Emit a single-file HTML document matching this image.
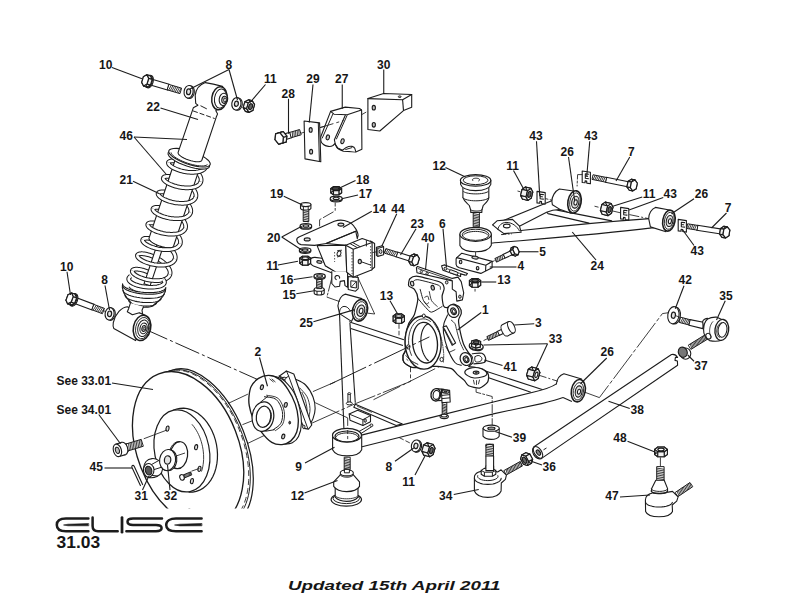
<!DOCTYPE html>
<html><head><meta charset="utf-8"><title>Elise 31.03 Front Suspension</title>
<style>
html,body{margin:0;padding:0;background:#fff;}
body{width:792px;height:612px;overflow:hidden;font-family:"Liberation Sans",sans-serif;}
svg{display:block;}
svg text{font-family:"Liberation Sans",sans-serif;font-weight:bold;fill:#161616;}
</style></head><body>
<svg width="792" height="612" viewBox="0 0 792 612">
<rect width="792" height="612" fill="#fff"/>
<g id="sec_back">
<polygon points="348.90,321.80 403.90,339.80 481.50,369.70 543.70,390.00 530.90,392.20 483.60,376.10 402.90,345.50 350.80,328.40" fill="white" stroke="none" stroke-width="0.00" stroke-linejoin="round" stroke-linecap="round"/>
<line x1="348.90" y1="321.80" x2="403.90" y2="339.80" stroke="#1c1c1c" stroke-width="1.10"/>
<line x1="350.80" y1="328.40" x2="402.90" y2="345.50" stroke="#1c1c1c" stroke-width="1.10"/>
<line x1="481.50" y1="369.70" x2="543.70" y2="390.00" stroke="#1c1c1c" stroke-width="1.10"/>
<line x1="483.60" y1="376.10" x2="530.90" y2="392.20" stroke="#1c1c1c" stroke-width="1.10"/>
<polygon points="339.50,313.30 343.90,428.50 355.30,402.70 349.90,322.70" fill="white" stroke="none" stroke-width="0.00" stroke-linejoin="round" stroke-linecap="round"/>
<line x1="339.50" y1="313.30" x2="343.90" y2="428.50" stroke="#1c1c1c" stroke-width="1.10"/>
<line x1="349.90" y1="322.70" x2="355.30" y2="402.70" stroke="#1c1c1c" stroke-width="1.10"/>
<polygon points="355.30,404.20 402.30,423.90 396.20,425.50 353.80,407.30" fill="white" stroke="#1c1c1c" stroke-width="1.10" stroke-linejoin="round" stroke-linecap="round"/>
<line x1="357.00" y1="406.20" x2="372.00" y2="412.40" stroke="#1c1c1c" stroke-width="0.73"/>
<polygon points="348.30,394.00 350.30,394.00 350.30,402.40 348.30,402.40" fill="white" stroke="#1c1c1c" stroke-width="0.98" stroke-linejoin="round" stroke-linecap="round"/>
<ellipse cx="349.30" cy="393.60" rx="1.50" ry="0.90" fill="white" stroke="#1c1c1c" stroke-width="0.98"/>
<ellipse cx="349.30" cy="403.40" rx="3.00" ry="1.50" fill="white" stroke="#1c1c1c" stroke-width="0.98"/>
<polygon points="349.20,414.10 357.60,410.30 370.50,415.60 370.50,421.70 362.90,425.50 350.00,420.20" fill="white" stroke="#1c1c1c" stroke-width="1.10" stroke-linejoin="round" stroke-linecap="round"/>
<polyline points="349.20,414.10 362.90,419.70 370.50,415.60" fill="none" stroke="#1c1c1c" stroke-width="0.98" stroke-linejoin="round" stroke-linecap="round"/>
<line x1="362.90" y1="419.70" x2="362.90" y2="425.50" stroke="#1c1c1c" stroke-width="0.98"/>
<ellipse cx="365.20" cy="420.60" rx="1.20" ry="1.70" fill="#bbb" stroke="#1c1c1c" stroke-width="0.98"/>
<path d="M362.4,434.9 L430,417.9 L494.4,401.8 L533,392.2 C545,389.5 553,386 558.8,380.4 L569.5,392.2 C566,394.5 560,397 541.6,401.8 L494.4,413.6 L430,429.7 L362.1,446.7 Z" fill="white" stroke="none" stroke-width="0.00" stroke-linejoin="round" stroke-linecap="round"/>
<path d="M362.4,434.9 L430,417.9 L494.4,401.8 L533,392.2 C545,389.5 552,387 556.4,383.9" fill="none" stroke="#1c1c1c" stroke-width="1.10" stroke-linejoin="round" stroke-linecap="round"/>
<path d="M362.1,446.7 L430,429.7 L494.4,413.6 L541.6,403.6 C552,401.2 558,399.6 563,397.6" fill="none" stroke="#1c1c1c" stroke-width="1.10" stroke-linejoin="round" stroke-linecap="round"/>
<polyline points="311.60,423.30 354.60,404.00 410.50,381.40 410.50,365.30" fill="none" stroke="#1c1c1c" stroke-width="0.85" stroke-linejoin="round" stroke-linecap="round" stroke-dasharray="30 3 3 3"/>
<line x1="373.50" y1="399.70" x2="439.10" y2="366.70" stroke="#1c1c1c" stroke-width="0.85" stroke-dasharray="30 3 3 3"/>
<line x1="315.20" y1="402.70" x2="347.70" y2="417.90" stroke="#1c1c1c" stroke-width="0.85"/>
<line x1="347.70" y1="417.90" x2="347.70" y2="439.10" stroke="#1c1c1c" stroke-width="0.85" stroke-dasharray="8 2 2 2"/>
<polygon points="359.20,431.40 371.00,424.60 372.40,426.20 361.20,433.40" fill="white" stroke="#1c1c1c" stroke-width="0.98" stroke-linejoin="round" stroke-linecap="round"/>
<ellipse cx="371.40" cy="425.20" rx="1.50" ry="1.20" fill="white" stroke="#1c1c1c" stroke-width="0.98"/>
<path d="M332.6,435.3 L332.6,449.7 C334.5,453.5 340,455.9 347,455.9 C354,455.9 360,453.5 361.7,449.7 L361.7,435.3 Z" fill="white" stroke="#1c1c1c" stroke-width="1.10" stroke-linejoin="round" stroke-linecap="round"/>
<ellipse cx="347.00" cy="435.30" rx="14.50" ry="6.90" fill="white" stroke="#1c1c1c" stroke-width="1.22"/>
<ellipse cx="347.00" cy="436.40" rx="12.00" ry="5.40" fill="white" stroke="#1c1c1c" stroke-width="1.10"/>
<path d="M335.97,436.95 L336.48,436.12 L337.30,435.35 L338.42,434.65 L339.80,434.05 L341.40,433.56 L343.17,433.20 L345.06,432.97 L347.00,432.90 L348.94,432.97 L350.83,433.20 L352.60,433.56 L354.20,434.05 L355.58,434.65 L356.70,435.35 L357.52,436.12 L358.03,436.95" fill="none" stroke="#1c1c1c" stroke-width="0.98" stroke-linejoin="round" stroke-linecap="round"/>
<line x1="347.70" y1="430.00" x2="347.70" y2="439.10" stroke="#1c1c1c" stroke-width="0.85" stroke-dasharray="4 2"/>
<path d="M361.8,298.6 L345.3,294.1 C341.5,295 338.6,300 337.9,305.9 L339.5,313.6 L351.5,321.4 Z" fill="white" stroke="#1c1c1c" stroke-width="1.10" stroke-linejoin="round" stroke-linecap="round"/>
<path d="M339.6,313.6 C339.2,309.6 341,306.8 344,306.4 C347,306.2 349,308.5 350.4,311" fill="none" stroke="#1c1c1c" stroke-width="0.98" stroke-linejoin="round" stroke-linecap="round"/>
<ellipse cx="360.00" cy="310.30" rx="7.40" ry="11.00" fill="white" stroke="#1c1c1c" stroke-width="1.59" transform="rotate(14.00 360.00 310.30)"/>
<ellipse cx="360.40" cy="310.50" rx="5.90" ry="9.00" fill="white" stroke="#1c1c1c" stroke-width="0.85" transform="rotate(14.00 360.40 310.50)"/>
<ellipse cx="360.80" cy="310.70" rx="3.90" ry="5.80" fill="#ddd" stroke="#1c1c1c" stroke-width="1.10" transform="rotate(14.00 360.80 310.70)"/>
<ellipse cx="361.10" cy="310.90" rx="1.80" ry="2.70" fill="white" stroke="#1c1c1c" stroke-width="1.10" transform="rotate(14.00 361.10 310.90)"/>
<path d="M581.6,379 L563.9,373.7 C560,375 557,379 556.4,383.6 L563,397.6 L571.9,401.6 Z" fill="white" stroke="none" stroke-width="0.00" stroke-linejoin="round" stroke-linecap="round"/>
<path d="M581.6,379 L563.9,373.7 C560,375 557,379 556.4,383.9" fill="none" stroke="#1c1c1c" stroke-width="1.10" stroke-linejoin="round" stroke-linecap="round"/>
<line x1="563.00" y1="397.60" x2="571.90" y2="401.60" stroke="#1c1c1c" stroke-width="1.10"/>
<ellipse cx="578.30" cy="390.70" rx="6.90" ry="11.30" fill="white" stroke="#1c1c1c" stroke-width="1.59" transform="rotate(10.00 578.30 390.70)"/>
<ellipse cx="578.40" cy="391.30" rx="5.10" ry="8.80" fill="white" stroke="#1c1c1c" stroke-width="0.85" transform="rotate(10.00 578.40 391.30)"/>
<ellipse cx="578.70" cy="391.50" rx="3.40" ry="5.70" fill="#ddd" stroke="#1c1c1c" stroke-width="1.10" transform="rotate(10.00 578.70 391.50)"/>
<ellipse cx="579.00" cy="391.70" rx="1.50" ry="2.50" fill="white" stroke="#1c1c1c" stroke-width="1.10" transform="rotate(10.00 579.00 391.70)"/>
<polygon points="528.33,369.26 531.76,367.02 533.49,370.74 531.78,376.70 528.35,378.94 526.62,375.22" fill="white" stroke="#1c1c1c" stroke-width="1.22" stroke-linejoin="round" stroke-linecap="round"/>
<polygon points="534.67,371.08 538.11,368.84 531.76,367.02 528.33,369.26" fill="#f2f2f2" stroke="#1c1c1c" stroke-width="1.10" stroke-linejoin="round" stroke-linecap="round"/>
<polygon points="538.11,368.84 539.84,372.56 533.49,370.74 531.76,367.02" fill="#f2f2f2" stroke="#1c1c1c" stroke-width="1.10" stroke-linejoin="round" stroke-linecap="round"/>
<polygon points="539.84,372.56 538.13,378.52 531.78,376.70 533.49,370.74" fill="#f2f2f2" stroke="#1c1c1c" stroke-width="1.10" stroke-linejoin="round" stroke-linecap="round"/>
<polygon points="538.13,378.52 534.69,380.76 528.35,378.94 531.78,376.70" fill="#f2f2f2" stroke="#1c1c1c" stroke-width="1.10" stroke-linejoin="round" stroke-linecap="round"/>
<polygon points="534.69,380.76 532.96,377.04 526.62,375.22 528.35,378.94" fill="#f2f2f2" stroke="#1c1c1c" stroke-width="1.10" stroke-linejoin="round" stroke-linecap="round"/>
<polygon points="532.96,377.04 534.67,371.08 528.33,369.26 526.62,375.22" fill="#f2f2f2" stroke="#1c1c1c" stroke-width="1.10" stroke-linejoin="round" stroke-linecap="round"/>
<polygon points="534.67,371.08 538.11,368.84 539.84,372.56 538.13,378.52 534.69,380.76 532.96,377.04" fill="white" stroke="#1c1c1c" stroke-width="1.22" stroke-linejoin="round" stroke-linecap="round"/>
<ellipse cx="536.40" cy="374.80" rx="1.40" ry="2.79" fill="#fff" stroke="#1c1c1c" stroke-width="1.22" transform="rotate(196.00 536.40 374.80)"/>
<line x1="538.80" y1="375.20" x2="558.00" y2="381.30" stroke="#1c1c1c" stroke-width="0.85" stroke-dasharray="8 2 2 2"/>
<polyline points="585.20,392.40 599.40,397.60 662.40,313.60 668.50,312.70" fill="none" stroke="#1c1c1c" stroke-width="0.85" stroke-linejoin="round" stroke-linecap="round" stroke-dasharray="30 3 3 3"/>
<line x1="399.20" y1="437.60" x2="409.80" y2="442.90" stroke="#1c1c1c" stroke-width="0.85" stroke-dasharray="5 2"/>
<ellipse cx="417.10" cy="446.26" rx="4.50" ry="6.00" fill="white" stroke="#1c1c1c" stroke-width="1.10" transform="rotate(12.00 417.10 446.26)"/>
<ellipse cx="415.90" cy="445.90" rx="4.50" ry="6.00" fill="white" stroke="#1c1c1c" stroke-width="1.10" transform="rotate(12.00 415.90 445.90)"/>
<ellipse cx="415.90" cy="445.90" rx="2.02" ry="2.70" fill="#e4e4e4" stroke="#1c1c1c" stroke-width="1.22" transform="rotate(12.00 415.90 445.90)"/>
<polygon points="423.66,445.05 427.20,442.74 428.99,446.58 427.22,452.73 423.68,455.04 421.89,451.20" fill="white" stroke="#1c1c1c" stroke-width="1.22" stroke-linejoin="round" stroke-linecap="round"/>
<polygon points="429.62,446.76 433.16,444.45 427.20,442.74 423.66,445.05" fill="#f2f2f2" stroke="#1c1c1c" stroke-width="1.10" stroke-linejoin="round" stroke-linecap="round"/>
<polygon points="433.16,444.45 434.95,448.29 428.99,446.58 427.20,442.74" fill="#f2f2f2" stroke="#1c1c1c" stroke-width="1.10" stroke-linejoin="round" stroke-linecap="round"/>
<polygon points="434.95,448.29 433.18,454.44 427.22,452.73 428.99,446.58" fill="#f2f2f2" stroke="#1c1c1c" stroke-width="1.10" stroke-linejoin="round" stroke-linecap="round"/>
<polygon points="433.18,454.44 429.64,456.75 423.68,455.04 427.22,452.73" fill="#f2f2f2" stroke="#1c1c1c" stroke-width="1.10" stroke-linejoin="round" stroke-linecap="round"/>
<polygon points="429.64,456.75 427.85,452.91 421.89,451.20 423.68,455.04" fill="#f2f2f2" stroke="#1c1c1c" stroke-width="1.10" stroke-linejoin="round" stroke-linecap="round"/>
<polygon points="427.85,452.91 429.62,446.76 423.66,445.05 421.89,451.20" fill="#f2f2f2" stroke="#1c1c1c" stroke-width="1.10" stroke-linejoin="round" stroke-linecap="round"/>
<polygon points="429.62,446.76 433.16,444.45 434.95,448.29 433.18,454.44 429.64,456.75 427.85,452.91" fill="white" stroke="#1c1c1c" stroke-width="1.22" stroke-linejoin="round" stroke-linecap="round"/>
<ellipse cx="431.40" cy="450.60" rx="1.60" ry="3.20" fill="#666" stroke="#1c1c1c" stroke-width="1.22" transform="rotate(196.00 431.40 450.60)"/>
<polyline points="476.10,389.00 476.10,392.20 492.20,396.50 492.20,425.50" fill="none" stroke="#1c1c1c" stroke-width="0.85" stroke-linejoin="round" stroke-linecap="round" stroke-dasharray="8 2 2 2"/>
<path d="M483,428.2 L483,436.2 C484.5,438.2 487.5,439.4 491.2,439.4 C495,439.4 498,438.2 499.2,436.2 L499.2,428.2 Z" fill="white" stroke="#1c1c1c" stroke-width="1.10" stroke-linejoin="round" stroke-linecap="round"/>
<ellipse cx="491.20" cy="428.20" rx="8.10" ry="3.10" fill="white" stroke="#1c1c1c" stroke-width="1.10"/>
<ellipse cx="491.40" cy="428.40" rx="3.60" ry="1.40" fill="#999" stroke="#1c1c1c" stroke-width="1.10"/>
<polygon points="485.90,444.60 485.90,456.40 493.50,456.40 493.50,444.60" fill="white" stroke="#1c1c1c" stroke-width="0.98" stroke-linejoin="round" stroke-linecap="round"/>
<line x1="485.90" y1="445.70" x2="493.50" y2="446.90" stroke="#1c1c1c" stroke-width="0.85"/>
<line x1="485.90" y1="447.40" x2="493.50" y2="448.60" stroke="#1c1c1c" stroke-width="0.85"/>
<line x1="485.90" y1="449.10" x2="493.50" y2="450.30" stroke="#1c1c1c" stroke-width="0.85"/>
<line x1="485.90" y1="450.80" x2="493.50" y2="452.00" stroke="#1c1c1c" stroke-width="0.85"/>
<line x1="485.90" y1="452.50" x2="493.50" y2="453.70" stroke="#1c1c1c" stroke-width="0.85"/>
<line x1="485.90" y1="454.20" x2="493.50" y2="455.40" stroke="#1c1c1c" stroke-width="0.85"/>
<path d="M485.9,456 L485.9,469 L493.6,469 L493.6,456 Z" fill="white" stroke="#1c1c1c" stroke-width="1.10" stroke-linejoin="round" stroke-linecap="round"/>
<path d="M485.9,446 C486.5,443.8 492.8,443.8 493.6,446" fill="white" stroke="#1c1c1c" stroke-width="1.10" stroke-linejoin="round" stroke-linecap="round"/>
<polygon points="506.62,474.78 522.42,465.98 519.98,461.62 504.18,470.42" fill="white" stroke="#1c1c1c" stroke-width="0.98" stroke-linejoin="round" stroke-linecap="round"/>
<line x1="507.40" y1="474.35" x2="506.02" y2="469.39" stroke="#1c1c1c" stroke-width="0.85"/>
<line x1="508.71" y1="473.62" x2="507.33" y2="468.66" stroke="#1c1c1c" stroke-width="0.85"/>
<line x1="510.02" y1="472.89" x2="508.64" y2="467.93" stroke="#1c1c1c" stroke-width="0.85"/>
<line x1="511.33" y1="472.16" x2="509.95" y2="467.20" stroke="#1c1c1c" stroke-width="0.85"/>
<line x1="512.64" y1="471.43" x2="511.26" y2="466.47" stroke="#1c1c1c" stroke-width="0.85"/>
<line x1="513.95" y1="470.70" x2="512.57" y2="465.74" stroke="#1c1c1c" stroke-width="0.85"/>
<line x1="515.27" y1="469.97" x2="513.88" y2="465.01" stroke="#1c1c1c" stroke-width="0.85"/>
<line x1="516.58" y1="469.24" x2="515.19" y2="464.28" stroke="#1c1c1c" stroke-width="0.85"/>
<line x1="517.89" y1="468.51" x2="516.50" y2="463.56" stroke="#1c1c1c" stroke-width="0.85"/>
<line x1="519.20" y1="467.78" x2="517.81" y2="462.83" stroke="#1c1c1c" stroke-width="0.85"/>
<line x1="520.51" y1="467.05" x2="519.12" y2="462.10" stroke="#1c1c1c" stroke-width="0.85"/>
<line x1="521.82" y1="466.32" x2="520.43" y2="461.37" stroke="#1c1c1c" stroke-width="0.85"/>
<path d="M474.4,477.2 C474.4,473 480,470.4 487.8,470.4 C492,470.4 495.2,471 497.6,472 L501.1,469.8 L506.4,475.1 L505.4,479.3 L501.3,483 L501.1,491 C499.5,495 494.5,497.4 487.8,497.4 C481,497.4 476,495 474.4,491 Z" fill="white" stroke="#1c1c1c" stroke-width="1.10" stroke-linejoin="round" stroke-linecap="round"/>
<path d="M501.20,478.20 L500.94,479.41 L500.18,480.57 L498.94,481.64 L497.28,482.58 L495.24,483.36 L492.93,483.93 L490.41,484.28 L487.80,484.40 L485.19,484.28 L482.67,483.93 L480.36,483.36 L478.32,482.58 L476.66,481.64 L475.42,480.57 L474.66,479.41 L474.40,478.20" fill="none" stroke="#1c1c1c" stroke-width="1.10" stroke-linejoin="round" stroke-linecap="round"/>
<path d="M497.85,475.67 L497.99,476.58 L497.65,477.49 L496.85,478.34 L495.61,479.10 L494.01,479.73 L492.11,480.21 L490.01,480.50 L487.80,480.60 L485.59,480.50 L483.49,480.21 L481.59,479.73 L479.99,479.10 L478.75,478.34 L477.95,477.49 L477.61,476.58 L477.75,475.67" fill="none" stroke="#1c1c1c" stroke-width="0.98" stroke-linejoin="round" stroke-linecap="round"/>
<polygon points="481.20,470.40 484.20,468.40 492.60,468.40 495.80,470.40 495.80,474.20 492.40,476.20 484.40,476.20 481.20,474.20" fill="white" stroke="#1c1c1c" stroke-width="1.10" stroke-linejoin="round" stroke-linecap="round"/>
<line x1="484.40" y1="472.20" x2="484.40" y2="476.20" stroke="#1c1c1c" stroke-width="0.98"/>
<line x1="492.40" y1="472.20" x2="492.40" y2="476.20" stroke="#1c1c1c" stroke-width="0.98"/>
<polyline points="481.20,470.40 484.40,472.20 492.40,472.20 495.80,470.40" fill="none" stroke="#1c1c1c" stroke-width="0.98" stroke-linejoin="round" stroke-linecap="round"/>
<path d="M485.9,466 L485.9,470.6 L493.6,470.6 L493.6,466" fill="white" stroke="#1c1c1c" stroke-width="1.10" stroke-linejoin="round" stroke-linecap="round"/>
<polygon points="532.59,459.35 531.48,463.34 527.55,462.03 524.73,456.73 525.84,452.74 529.78,454.05" fill="white" stroke="#1c1c1c" stroke-width="1.22" stroke-linejoin="round" stroke-linecap="round"/>
<polygon points="528.53,461.51 527.42,465.50 531.48,463.34 532.59,459.35" fill="#f2f2f2" stroke="#1c1c1c" stroke-width="1.10" stroke-linejoin="round" stroke-linecap="round"/>
<polygon points="527.42,465.50 523.49,464.19 527.55,462.03 531.48,463.34" fill="#f2f2f2" stroke="#1c1c1c" stroke-width="1.10" stroke-linejoin="round" stroke-linecap="round"/>
<polygon points="523.49,464.19 520.67,458.89 524.73,456.73 527.55,462.03" fill="#f2f2f2" stroke="#1c1c1c" stroke-width="1.10" stroke-linejoin="round" stroke-linecap="round"/>
<polygon points="520.67,458.89 521.78,454.90 525.84,452.74 524.73,456.73" fill="#f2f2f2" stroke="#1c1c1c" stroke-width="1.10" stroke-linejoin="round" stroke-linecap="round"/>
<polygon points="521.78,454.90 525.71,456.21 529.78,454.05 525.84,452.74" fill="#f2f2f2" stroke="#1c1c1c" stroke-width="1.10" stroke-linejoin="round" stroke-linecap="round"/>
<polygon points="525.71,456.21 528.53,461.51 532.59,459.35 529.78,454.05" fill="#f2f2f2" stroke="#1c1c1c" stroke-width="1.10" stroke-linejoin="round" stroke-linecap="round"/>
<polygon points="528.53,461.51 527.42,465.50 523.49,464.19 520.67,458.89 521.78,454.90 525.71,456.21" fill="white" stroke="#1c1c1c" stroke-width="1.22" stroke-linejoin="round" stroke-linecap="round"/>
<ellipse cx="524.60" cy="460.20" rx="1.82" ry="3.30" fill="#666" stroke="#1c1c1c" stroke-width="1.22" transform="rotate(-28.00 524.60 460.20)"/>
<polygon points="344.20,457.60 344.20,469.60 350.20,469.60 350.20,457.60" fill="white" stroke="#1c1c1c" stroke-width="0.98" stroke-linejoin="round" stroke-linecap="round"/>
<line x1="344.20" y1="458.60" x2="350.20" y2="459.80" stroke="#1c1c1c" stroke-width="0.85"/>
<line x1="344.20" y1="460.20" x2="350.20" y2="461.40" stroke="#1c1c1c" stroke-width="0.85"/>
<line x1="344.20" y1="461.80" x2="350.20" y2="463.00" stroke="#1c1c1c" stroke-width="0.85"/>
<line x1="344.20" y1="463.40" x2="350.20" y2="464.60" stroke="#1c1c1c" stroke-width="0.85"/>
<line x1="344.20" y1="465.00" x2="350.20" y2="466.20" stroke="#1c1c1c" stroke-width="0.85"/>
<line x1="344.20" y1="466.60" x2="350.20" y2="467.80" stroke="#1c1c1c" stroke-width="0.85"/>
<line x1="344.20" y1="468.20" x2="350.20" y2="469.40" stroke="#1c1c1c" stroke-width="0.85"/>
<polygon points="344.80,469.40 349.40,469.40 349.40,472.60 344.80,472.60" fill="white" stroke="#1c1c1c" stroke-width="0.98" stroke-linejoin="round" stroke-linecap="round"/>
<ellipse cx="346.30" cy="499.60" rx="15.20" ry="6.50" fill="white" stroke="#1c1c1c" stroke-width="1.22"/>
<ellipse cx="346.30" cy="498.40" rx="13.20" ry="5.20" fill="white" stroke="#1c1c1c" stroke-width="0.98"/>
<path d="M335.2,486 L335.2,497.2 C338,500.4 342,501.4 346.6,501.4 C351,501.4 355.5,500.4 358,497.2 L358,486 Z" fill="white" stroke="#1c1c1c" stroke-width="1.10" stroke-linejoin="round" stroke-linecap="round"/>
<path d="M357.83,495.83 L357.31,496.43 L356.47,497.00 L355.33,497.51 L353.93,497.96 L352.30,498.32 L350.50,498.58 L348.58,498.75 L346.60,498.80 L344.62,498.75 L342.70,498.58 L340.90,498.32 L339.27,497.96 L337.87,497.51 L336.73,497.00 L335.89,496.43 L335.37,495.83" fill="none" stroke="#1c1c1c" stroke-width="0.85" stroke-linejoin="round" stroke-linecap="round"/>
<path d="M340.3,474.8 L333.7,481.9 L333.7,486.4 C336,489.8 341,491.6 346.6,491.6 C352,491.6 357.5,489.8 359.5,486.4 L359.5,481.9 L353.4,474.8 Z" fill="white" stroke="#1c1c1c" stroke-width="1.10" stroke-linejoin="round" stroke-linecap="round"/>
<ellipse cx="346.80" cy="472.90" rx="6.60" ry="3.00" fill="white" stroke="#1c1c1c" stroke-width="1.10"/>
<path d="M353.30,474.72 L353.00,475.23 L352.52,475.70 L351.86,476.13 L351.04,476.50 L350.10,476.80 L349.06,477.02 L347.95,477.15 L346.80,477.20 L345.65,477.15 L344.54,477.02 L343.50,476.80 L342.56,476.50 L341.74,476.13 L341.08,475.70 L340.60,475.23 L340.30,474.72" fill="none" stroke="#1c1c1c" stroke-width="0.98" stroke-linejoin="round" stroke-linecap="round"/>
<polygon points="344.80,469.40 349.40,469.40 349.40,472.80 344.80,472.80" fill="white" stroke="#1c1c1c" stroke-width="0.98" stroke-linejoin="round" stroke-linecap="round"/>
<path d="M436,388.6 L444,389.4 L444,400.4 L436,400.8 Z" fill="white" stroke="#1c1c1c" stroke-width="1.10" stroke-linejoin="round" stroke-linecap="round"/>
<ellipse cx="435.80" cy="394.80" rx="4.80" ry="6.20" fill="white" stroke="#1c1c1c" stroke-width="1.34" transform="rotate(8.00 435.80 394.80)"/>
<ellipse cx="436.40" cy="394.90" rx="3.30" ry="4.50" fill="white" stroke="#1c1c1c" stroke-width="1.10" transform="rotate(8.00 436.40 394.90)"/>
<polygon points="441.40,389.20 449.60,390.40 450.20,402.00 442.00,402.80" fill="white" stroke="#1c1c1c" stroke-width="1.10" stroke-linejoin="round" stroke-linecap="round"/>
<ellipse cx="445.60" cy="391.60" rx="3.60" ry="1.60" fill="white" stroke="#1c1c1c" stroke-width="1.10" transform="rotate(5.00 445.60 391.60)"/>
<line x1="442.00" y1="395.40" x2="450.00" y2="394.60" stroke="#1c1c1c" stroke-width="0.98"/>
<line x1="442.00" y1="398.60" x2="450.00" y2="397.80" stroke="#1c1c1c" stroke-width="0.98"/>
<ellipse cx="445.60" cy="391.60" rx="1.60" ry="0.70" fill="#777" stroke="#1c1c1c" stroke-width="0.98" transform="rotate(5.00 445.60 391.60)"/>
<polygon points="442.20,403.00 442.20,414.40 446.80,414.40 446.80,403.00" fill="white" stroke="#1c1c1c" stroke-width="0.98" stroke-linejoin="round" stroke-linecap="round"/>
<line x1="442.20" y1="403.90" x2="446.80" y2="405.10" stroke="#1c1c1c" stroke-width="0.85"/>
<line x1="442.20" y1="405.40" x2="446.80" y2="406.60" stroke="#1c1c1c" stroke-width="0.85"/>
<line x1="442.20" y1="406.90" x2="446.80" y2="408.10" stroke="#1c1c1c" stroke-width="0.85"/>
<line x1="442.20" y1="408.40" x2="446.80" y2="409.60" stroke="#1c1c1c" stroke-width="0.85"/>
<line x1="442.20" y1="409.90" x2="446.80" y2="411.10" stroke="#1c1c1c" stroke-width="0.85"/>
<line x1="442.20" y1="411.40" x2="446.80" y2="412.60" stroke="#1c1c1c" stroke-width="0.85"/>
<line x1="442.20" y1="412.90" x2="446.80" y2="414.10" stroke="#1c1c1c" stroke-width="0.85"/>
<ellipse cx="444.20" cy="416.60" rx="4.20" ry="2.00" fill="white" stroke="#1c1c1c" stroke-width="1.10"/>
<ellipse cx="444.20" cy="415.60" rx="3.00" ry="1.40" fill="white" stroke="#1c1c1c" stroke-width="1.10"/>
</g>
<g id="sec_shock">
<line x1="143.50" y1="328.50" x2="262.00" y2="381.50" stroke="#1c1c1c" stroke-width="0.98" stroke-dasharray="26 3 3 3"/>
<line x1="103.00" y1="310.50" x2="113.00" y2="314.50" stroke="#1c1c1c" stroke-width="0.85"/>
<path d="M168.44,162.72 L168.55,162.33 L168.78,161.98 L169.12,161.67 L169.57,161.41 L170.13,161.20 L170.79,161.05 L171.55,160.94 L172.39,160.90 L173.33,160.91 L174.34,160.98 L175.43,161.11 L176.58,161.31 L177.78,161.56 L179.04,161.87 L180.33,162.25 L181.65,162.68 L183.00,163.17 L184.36,163.71 L185.72,164.31 L187.07,164.96 L188.41,165.66 L189.73,166.39 L191.01,167.17 L192.24,167.99 L193.43,168.84 L194.56,169.72 L195.61,170.62 L196.60,171.54 L197.50,172.48 L198.31,173.42 L199.03,174.37 L199.65,175.32 L200.17,176.27 L200.58,177.20 L200.88,178.13 L201.06,179.03 L201.13,179.90 L201.09,180.75 L200.93,181.57 L200.65,182.35" fill="none" stroke="#1c1c1c" stroke-width="4.7" stroke-linecap="butt" stroke-linejoin="round"/>
<path d="M168.44,162.72 L168.55,162.33 L168.78,161.98 L169.12,161.67 L169.57,161.41 L170.13,161.20 L170.79,161.05 L171.55,160.94 L172.39,160.90 L173.33,160.91 L174.34,160.98 L175.43,161.11 L176.58,161.31 L177.78,161.56 L179.04,161.87 L180.33,162.25 L181.65,162.68 L183.00,163.17 L184.36,163.71 L185.72,164.31 L187.07,164.96 L188.41,165.66 L189.73,166.39 L191.01,167.17 L192.24,167.99 L193.43,168.84 L194.56,169.72 L195.61,170.62 L196.60,171.54 L197.50,172.48 L198.31,173.42 L199.03,174.37 L199.65,175.32 L200.17,176.27 L200.58,177.20 L200.88,178.13 L201.06,179.03 L201.13,179.90 L201.09,180.75 L200.93,181.57 L200.65,182.35" fill="none" stroke="#fff" stroke-width="2.7" stroke-linecap="butt" stroke-linejoin="round"/>
<path d="M163.27,178.19 L163.39,177.80 L163.62,177.45 L163.96,177.14 L164.41,176.88 L164.96,176.67 L165.62,176.51 L166.38,176.41 L167.23,176.36 L168.16,176.38 L169.17,176.45 L170.26,176.58 L171.41,176.77 L172.61,177.03 L173.87,177.34 L175.16,177.72 L176.49,178.15 L177.83,178.64 L179.19,179.18 L180.55,179.78 L181.91,180.43 L183.25,181.12 L184.56,181.86 L185.84,182.64 L187.08,183.46 L188.26,184.31 L189.39,185.19 L190.45,186.09 L191.43,187.01 L192.33,187.95 L193.14,188.89 L193.86,189.84 L194.48,190.79 L195.00,191.74 L195.41,192.67 L195.71,193.59 L195.89,194.50 L195.97,195.37 L195.92,196.22 L195.76,197.04 L195.49,197.82" fill="none" stroke="#1c1c1c" stroke-width="4.7" stroke-linecap="butt" stroke-linejoin="round"/>
<path d="M163.27,178.19 L163.39,177.80 L163.62,177.45 L163.96,177.14 L164.41,176.88 L164.96,176.67 L165.62,176.51 L166.38,176.41 L167.23,176.36 L168.16,176.38 L169.17,176.45 L170.26,176.58 L171.41,176.77 L172.61,177.03 L173.87,177.34 L175.16,177.72 L176.49,178.15 L177.83,178.64 L179.19,179.18 L180.55,179.78 L181.91,180.43 L183.25,181.12 L184.56,181.86 L185.84,182.64 L187.08,183.46 L188.26,184.31 L189.39,185.19 L190.45,186.09 L191.43,187.01 L192.33,187.95 L193.14,188.89 L193.86,189.84 L194.48,190.79 L195.00,191.74 L195.41,192.67 L195.71,193.59 L195.89,194.50 L195.97,195.37 L195.92,196.22 L195.76,197.04 L195.49,197.82" fill="none" stroke="#fff" stroke-width="2.7" stroke-linecap="butt" stroke-linejoin="round"/>
<path d="M158.10,193.65 L158.22,193.27 L158.45,192.92 L158.79,192.61 L159.24,192.35 L159.80,192.14 L160.46,191.98 L161.21,191.88 L162.06,191.83 L162.99,191.85 L164.01,191.92 L165.09,192.05 L166.24,192.24 L167.45,192.50 L168.70,192.81 L170.00,193.18 L171.32,193.62 L172.67,194.11 L174.02,194.65 L175.39,195.25 L176.74,195.90 L178.08,196.59 L179.39,197.33 L180.67,198.11 L181.91,198.93 L183.10,199.78 L184.22,200.66 L185.28,201.56 L186.26,202.48 L187.16,203.41 L187.98,204.36 L188.70,205.31 L189.32,206.26 L189.83,207.21 L190.24,208.14 L190.54,209.06 L190.73,209.96 L190.80,210.84 L190.75,211.69 L190.59,212.51 L190.32,213.29" fill="none" stroke="#1c1c1c" stroke-width="4.7" stroke-linecap="butt" stroke-linejoin="round"/>
<path d="M158.10,193.65 L158.22,193.27 L158.45,192.92 L158.79,192.61 L159.24,192.35 L159.80,192.14 L160.46,191.98 L161.21,191.88 L162.06,191.83 L162.99,191.85 L164.01,191.92 L165.09,192.05 L166.24,192.24 L167.45,192.50 L168.70,192.81 L170.00,193.18 L171.32,193.62 L172.67,194.11 L174.02,194.65 L175.39,195.25 L176.74,195.90 L178.08,196.59 L179.39,197.33 L180.67,198.11 L181.91,198.93 L183.10,199.78 L184.22,200.66 L185.28,201.56 L186.26,202.48 L187.16,203.41 L187.98,204.36 L188.70,205.31 L189.32,206.26 L189.83,207.21 L190.24,208.14 L190.54,209.06 L190.73,209.96 L190.80,210.84 L190.75,211.69 L190.59,212.51 L190.32,213.29" fill="none" stroke="#fff" stroke-width="2.7" stroke-linecap="butt" stroke-linejoin="round"/>
<path d="M152.94,209.12 L153.05,208.73 L153.28,208.38 L153.62,208.08 L154.07,207.82 L154.63,207.61 L155.29,207.45 L156.05,207.35 L156.89,207.30 L157.83,207.31 L158.84,207.39 L159.92,207.52 L161.07,207.71 L162.28,207.96 L163.53,208.28 L164.83,208.65 L166.15,209.09 L167.50,209.58 L168.86,210.12 L170.22,210.72 L171.57,211.37 L172.91,212.06 L174.23,212.80 L175.51,213.58 L176.74,214.40 L177.93,215.25 L179.05,216.12 L180.11,217.03 L181.10,217.95 L182.00,218.88 L182.81,219.83 L183.53,220.78 L184.15,221.73 L184.67,222.68 L185.08,223.61 L185.37,224.53 L185.56,225.43 L185.63,226.31 L185.59,227.16 L185.43,227.98 L185.15,228.75" fill="none" stroke="#1c1c1c" stroke-width="4.7" stroke-linecap="butt" stroke-linejoin="round"/>
<path d="M152.94,209.12 L153.05,208.73 L153.28,208.38 L153.62,208.08 L154.07,207.82 L154.63,207.61 L155.29,207.45 L156.05,207.35 L156.89,207.30 L157.83,207.31 L158.84,207.39 L159.92,207.52 L161.07,207.71 L162.28,207.96 L163.53,208.28 L164.83,208.65 L166.15,209.09 L167.50,209.58 L168.86,210.12 L170.22,210.72 L171.57,211.37 L172.91,212.06 L174.23,212.80 L175.51,213.58 L176.74,214.40 L177.93,215.25 L179.05,216.12 L180.11,217.03 L181.10,217.95 L182.00,218.88 L182.81,219.83 L183.53,220.78 L184.15,221.73 L184.67,222.68 L185.08,223.61 L185.37,224.53 L185.56,225.43 L185.63,226.31 L185.59,227.16 L185.43,227.98 L185.15,228.75" fill="none" stroke="#fff" stroke-width="2.7" stroke-linecap="butt" stroke-linejoin="round"/>
<path d="M147.77,224.59 L147.89,224.20 L148.11,223.85 L148.46,223.55 L148.91,223.29 L149.46,223.08 L150.12,222.92 L150.88,222.82 L151.73,222.77 L152.66,222.78 L153.67,222.85 L154.76,222.99 L155.91,223.18 L157.11,223.43 L158.37,223.75 L159.66,224.12 L160.99,224.55 L162.33,225.04 L163.69,225.59 L165.05,226.19 L166.41,226.83 L167.75,227.53 L169.06,228.27 L170.34,229.05 L171.58,229.87 L172.76,230.72 L173.89,231.59 L174.95,232.50 L175.93,233.42 L176.83,234.35 L177.64,235.30 L178.36,236.25 L178.98,237.20 L179.50,238.14 L179.91,239.08 L180.21,240.00 L180.39,240.90 L180.46,241.78 L180.42,242.63 L180.26,243.44 L179.98,244.22" fill="none" stroke="#1c1c1c" stroke-width="4.7" stroke-linecap="butt" stroke-linejoin="round"/>
<path d="M147.77,224.59 L147.89,224.20 L148.11,223.85 L148.46,223.55 L148.91,223.29 L149.46,223.08 L150.12,222.92 L150.88,222.82 L151.73,222.77 L152.66,222.78 L153.67,222.85 L154.76,222.99 L155.91,223.18 L157.11,223.43 L158.37,223.75 L159.66,224.12 L160.99,224.55 L162.33,225.04 L163.69,225.59 L165.05,226.19 L166.41,226.83 L167.75,227.53 L169.06,228.27 L170.34,229.05 L171.58,229.87 L172.76,230.72 L173.89,231.59 L174.95,232.50 L175.93,233.42 L176.83,234.35 L177.64,235.30 L178.36,236.25 L178.98,237.20 L179.50,238.14 L179.91,239.08 L180.21,240.00 L180.39,240.90 L180.46,241.78 L180.42,242.63 L180.26,243.44 L179.98,244.22" fill="none" stroke="#fff" stroke-width="2.7" stroke-linecap="butt" stroke-linejoin="round"/>
<path d="M142.60,240.06 L142.72,239.67 L142.95,239.32 L143.29,239.02 L143.74,238.76 L144.30,238.55 L144.95,238.39 L145.71,238.29 L146.56,238.24 L147.49,238.25 L148.51,238.32 L149.59,238.46 L150.74,238.65 L151.95,238.90 L153.20,239.22 L154.49,239.59 L155.82,240.02 L157.16,240.51 L158.52,241.06 L159.88,241.66 L161.24,242.30 L162.58,243.00 L163.89,243.74 L165.17,244.52 L166.41,245.33 L167.59,246.18 L168.72,247.06 L169.78,247.96 L170.76,248.88 L171.66,249.82 L172.48,250.77 L173.20,251.72 L173.82,252.67 L174.33,253.61 L174.74,254.55 L175.04,255.47 L175.23,256.37 L175.30,257.25 L175.25,258.10 L175.09,258.91 L174.82,259.69" fill="none" stroke="#1c1c1c" stroke-width="4.7" stroke-linecap="butt" stroke-linejoin="round"/>
<path d="M142.60,240.06 L142.72,239.67 L142.95,239.32 L143.29,239.02 L143.74,238.76 L144.30,238.55 L144.95,238.39 L145.71,238.29 L146.56,238.24 L147.49,238.25 L148.51,238.32 L149.59,238.46 L150.74,238.65 L151.95,238.90 L153.20,239.22 L154.49,239.59 L155.82,240.02 L157.16,240.51 L158.52,241.06 L159.88,241.66 L161.24,242.30 L162.58,243.00 L163.89,243.74 L165.17,244.52 L166.41,245.33 L167.59,246.18 L168.72,247.06 L169.78,247.96 L170.76,248.88 L171.66,249.82 L172.48,250.77 L173.20,251.72 L173.82,252.67 L174.33,253.61 L174.74,254.55 L175.04,255.47 L175.23,256.37 L175.30,257.25 L175.25,258.10 L175.09,258.91 L174.82,259.69" fill="none" stroke="#fff" stroke-width="2.7" stroke-linecap="butt" stroke-linejoin="round"/>
<path d="M137.44,255.53 L137.55,255.14 L137.78,254.79 L138.12,254.48 L138.57,254.22 L139.13,254.01 L139.79,253.86 L140.54,253.75 L141.39,253.71 L142.33,253.72 L143.34,253.79 L144.42,253.92 L145.57,254.12 L146.78,254.37 L148.03,254.69 L149.33,255.06 L150.65,255.49 L152.00,255.98 L153.36,256.53 L154.72,257.12 L156.07,257.77 L157.41,258.47 L158.73,259.21 L160.01,259.99 L161.24,260.80 L162.43,261.65 L163.55,262.53 L164.61,263.43 L165.59,264.35 L166.50,265.29 L167.31,266.23 L168.03,267.19 L168.65,268.14 L169.17,269.08 L169.57,270.02 L169.87,270.94 L170.06,271.84 L170.13,272.72 L170.09,273.57 L169.92,274.38 L169.65,275.16" fill="none" stroke="#1c1c1c" stroke-width="4.7" stroke-linecap="butt" stroke-linejoin="round"/>
<path d="M137.44,255.53 L137.55,255.14 L137.78,254.79 L138.12,254.48 L138.57,254.22 L139.13,254.01 L139.79,253.86 L140.54,253.75 L141.39,253.71 L142.33,253.72 L143.34,253.79 L144.42,253.92 L145.57,254.12 L146.78,254.37 L148.03,254.69 L149.33,255.06 L150.65,255.49 L152.00,255.98 L153.36,256.53 L154.72,257.12 L156.07,257.77 L157.41,258.47 L158.73,259.21 L160.01,259.99 L161.24,260.80 L162.43,261.65 L163.55,262.53 L164.61,263.43 L165.59,264.35 L166.50,265.29 L167.31,266.23 L168.03,267.19 L168.65,268.14 L169.17,269.08 L169.57,270.02 L169.87,270.94 L170.06,271.84 L170.13,272.72 L170.09,273.57 L169.92,274.38 L169.65,275.16" fill="none" stroke="#fff" stroke-width="2.7" stroke-linecap="butt" stroke-linejoin="round"/>
<path d="M132.27,271.00 L132.31,270.79 L132.39,270.60 L132.50,270.41 L132.63,270.24 L132.80,270.08 L132.99,269.93 L133.22,269.79 L133.47,269.66 L133.75,269.55 L134.06,269.46 L134.39,269.37 L134.75,269.30 L135.14,269.25 L135.55,269.21 L135.99,269.18 L136.45,269.17 L136.93,269.18 L137.43,269.20 L137.96,269.24 L138.50,269.30 L139.06,269.37 L139.64,269.45 L140.23,269.55 L140.85,269.67 L141.47,269.81 L142.11,269.96 L142.76,270.13 L143.42,270.31 L144.09,270.51 L144.77,270.72 L145.46,270.95 L146.15,271.20 L146.84,271.45 L147.54,271.73 L148.24,272.02 L148.95,272.32 L149.65,272.64 L150.35,272.97 L151.04,273.31 L151.73,273.66" fill="none" stroke="#1c1c1c" stroke-width="4.7" stroke-linecap="butt" stroke-linejoin="round"/>
<path d="M132.27,271.00 L132.31,270.79 L132.39,270.60 L132.50,270.41 L132.63,270.24 L132.80,270.08 L132.99,269.93 L133.22,269.79 L133.47,269.66 L133.75,269.55 L134.06,269.46 L134.39,269.37 L134.75,269.30 L135.14,269.25 L135.55,269.21 L135.99,269.18 L136.45,269.17 L136.93,269.18 L137.43,269.20 L137.96,269.24 L138.50,269.30 L139.06,269.37 L139.64,269.45 L140.23,269.55 L140.85,269.67 L141.47,269.81 L142.11,269.96 L142.76,270.13 L143.42,270.31 L144.09,270.51 L144.77,270.72 L145.46,270.95 L146.15,271.20 L146.84,271.45 L147.54,271.73 L148.24,272.02 L148.95,272.32 L149.65,272.64 L150.35,272.97 L151.04,273.31 L151.73,273.66" fill="none" stroke="#fff" stroke-width="2.7" stroke-linecap="butt" stroke-linejoin="round"/>
<polygon points="159.20,238.30 143.99,283.85 150.06,285.88 165.27,240.33" fill="white" stroke="#1c1c1c" stroke-width="1.10" stroke-linejoin="round" stroke-linecap="round"/>
<path d="M176.62,155.51 L149.04,238.07 L149.04,238.07 L149.02,238.93 L149.47,239.91 L150.37,240.98 L151.69,242.09 L153.38,243.20 L155.37,244.28 L157.59,245.27 L159.96,246.15 L162.37,246.87 L164.74,247.41 L166.98,247.75 L169.00,247.87 L170.73,247.78 L172.09,247.46 L173.03,246.95 L173.53,246.25 L201.11,163.69 Z" fill="white" stroke="#1c1c1c" stroke-width="1.10" stroke-linejoin="round" stroke-linecap="round"/>
<path d="M206.06,166.21 L205.78,166.97 L205.39,167.69 L204.88,168.37 L204.28,169.00 L203.57,169.58 L202.77,170.11 L201.87,170.59 L200.89,171.02 L199.83,171.38 L198.69,171.69 L197.48,171.95 L196.21,172.14 L194.89,172.27 L193.52,172.35 L192.12,172.37 L190.68,172.33 L189.23,172.24 L187.77,172.09 L186.30,171.90 L184.84,171.65 L183.39,171.36 L181.97,171.03 L180.58,170.65 L179.24,170.25 L177.94,169.81 L176.70,169.34 L175.52,168.85 L174.41,168.34 L173.38,167.81 L172.44,167.28 L171.58,166.74 L170.82,166.20 L170.16,165.66 L169.60,165.13 L169.15,164.61 L168.80,164.11 L168.57,163.64 L168.44,163.19 L168.43,162.77 L168.53,162.38" fill="none" stroke="#1c1c1c" stroke-width="4.7" stroke-linecap="butt" stroke-linejoin="round"/>
<path d="M206.06,166.21 L205.78,166.97 L205.39,167.69 L204.88,168.37 L204.28,169.00 L203.57,169.58 L202.77,170.11 L201.87,170.59 L200.89,171.02 L199.83,171.38 L198.69,171.69 L197.48,171.95 L196.21,172.14 L194.89,172.27 L193.52,172.35 L192.12,172.37 L190.68,172.33 L189.23,172.24 L187.77,172.09 L186.30,171.90 L184.84,171.65 L183.39,171.36 L181.97,171.03 L180.58,170.65 L179.24,170.25 L177.94,169.81 L176.70,169.34 L175.52,168.85 L174.41,168.34 L173.38,167.81 L172.44,167.28 L171.58,166.74 L170.82,166.20 L170.16,165.66 L169.60,165.13 L169.15,164.61 L168.80,164.11 L168.57,163.64 L168.44,163.19 L168.43,162.77 L168.53,162.38" fill="none" stroke="#fff" stroke-width="2.7" stroke-linecap="butt" stroke-linejoin="round"/>
<path d="M200.90,181.68 L200.61,182.44 L200.22,183.16 L199.72,183.84 L199.11,184.47 L198.41,185.05 L197.60,185.58 L196.71,186.06 L195.72,186.49 L194.66,186.85 L193.52,187.16 L192.31,187.41 L191.04,187.61 L189.72,187.74 L188.36,187.82 L186.95,187.84 L185.52,187.80 L184.06,187.71 L182.60,187.56 L181.13,187.36 L179.67,187.12 L178.23,186.83 L176.81,186.50 L175.42,186.12 L174.07,185.72 L172.77,185.28 L171.53,184.81 L170.35,184.32 L169.24,183.81 L168.22,183.28 L167.27,182.75 L166.42,182.21 L165.66,181.67 L164.99,181.13 L164.43,180.60 L163.98,180.08 L163.64,179.58 L163.40,179.11 L163.28,178.65 L163.27,178.23 L163.36,177.85" fill="none" stroke="#1c1c1c" stroke-width="4.7" stroke-linecap="butt" stroke-linejoin="round"/>
<path d="M200.90,181.68 L200.61,182.44 L200.22,183.16 L199.72,183.84 L199.11,184.47 L198.41,185.05 L197.60,185.58 L196.71,186.06 L195.72,186.49 L194.66,186.85 L193.52,187.16 L192.31,187.41 L191.04,187.61 L189.72,187.74 L188.36,187.82 L186.95,187.84 L185.52,187.80 L184.06,187.71 L182.60,187.56 L181.13,187.36 L179.67,187.12 L178.23,186.83 L176.81,186.50 L175.42,186.12 L174.07,185.72 L172.77,185.28 L171.53,184.81 L170.35,184.32 L169.24,183.81 L168.22,183.28 L167.27,182.75 L166.42,182.21 L165.66,181.67 L164.99,181.13 L164.43,180.60 L163.98,180.08 L163.64,179.58 L163.40,179.11 L163.28,178.65 L163.27,178.23 L163.36,177.85" fill="none" stroke="#fff" stroke-width="2.7" stroke-linecap="butt" stroke-linejoin="round"/>
<path d="M195.73,197.15 L195.45,197.91 L195.05,198.63 L194.55,199.30 L193.95,199.94 L193.24,200.52 L192.44,201.05 L191.54,201.53 L190.56,201.95 L189.49,202.32 L188.35,202.63 L187.15,202.88 L185.88,203.08 L184.56,203.21 L183.19,203.29 L181.78,203.30 L180.35,203.27 L178.90,203.17 L177.43,203.03 L175.97,202.83 L174.51,202.59 L173.06,202.30 L171.64,201.96 L170.25,201.59 L168.90,201.18 L167.60,200.74 L166.36,200.28 L165.18,199.79 L164.08,199.28 L163.05,198.75 L162.10,198.22 L161.25,197.68 L160.49,197.13 L159.83,196.60 L159.27,196.07 L158.81,195.55 L158.47,195.05 L158.23,194.57 L158.11,194.12 L158.10,193.70 L158.20,193.32" fill="none" stroke="#1c1c1c" stroke-width="4.7" stroke-linecap="butt" stroke-linejoin="round"/>
<path d="M195.73,197.15 L195.45,197.91 L195.05,198.63 L194.55,199.30 L193.95,199.94 L193.24,200.52 L192.44,201.05 L191.54,201.53 L190.56,201.95 L189.49,202.32 L188.35,202.63 L187.15,202.88 L185.88,203.08 L184.56,203.21 L183.19,203.29 L181.78,203.30 L180.35,203.27 L178.90,203.17 L177.43,203.03 L175.97,202.83 L174.51,202.59 L173.06,202.30 L171.64,201.96 L170.25,201.59 L168.90,201.18 L167.60,200.74 L166.36,200.28 L165.18,199.79 L164.08,199.28 L163.05,198.75 L162.10,198.22 L161.25,197.68 L160.49,197.13 L159.83,196.60 L159.27,196.07 L158.81,195.55 L158.47,195.05 L158.23,194.57 L158.11,194.12 L158.10,193.70 L158.20,193.32" fill="none" stroke="#fff" stroke-width="2.7" stroke-linecap="butt" stroke-linejoin="round"/>
<path d="M190.56,212.61 L190.28,213.38 L189.88,214.10 L189.38,214.77 L188.78,215.41 L188.07,215.99 L187.27,216.52 L186.37,217.00 L185.39,217.42 L184.32,217.79 L183.19,218.10 L181.98,218.35 L180.71,218.54 L179.39,218.68 L178.02,218.75 L176.62,218.77 L175.18,218.74 L173.73,218.64 L172.27,218.50 L170.80,218.30 L169.34,218.06 L167.89,217.77 L166.47,217.43 L165.08,217.06 L163.74,216.65 L162.44,216.21 L161.19,215.75 L160.02,215.26 L158.91,214.75 L157.88,214.22 L156.94,213.69 L156.08,213.14 L155.32,212.60 L154.66,212.07 L154.10,211.54 L153.65,211.02 L153.30,210.52 L153.07,210.04 L152.94,209.59 L152.93,209.17 L153.03,208.78" fill="none" stroke="#1c1c1c" stroke-width="4.7" stroke-linecap="butt" stroke-linejoin="round"/>
<path d="M190.56,212.61 L190.28,213.38 L189.88,214.10 L189.38,214.77 L188.78,215.41 L188.07,215.99 L187.27,216.52 L186.37,217.00 L185.39,217.42 L184.32,217.79 L183.19,218.10 L181.98,218.35 L180.71,218.54 L179.39,218.68 L178.02,218.75 L176.62,218.77 L175.18,218.74 L173.73,218.64 L172.27,218.50 L170.80,218.30 L169.34,218.06 L167.89,217.77 L166.47,217.43 L165.08,217.06 L163.74,216.65 L162.44,216.21 L161.19,215.75 L160.02,215.26 L158.91,214.75 L157.88,214.22 L156.94,213.69 L156.08,213.14 L155.32,212.60 L154.66,212.07 L154.10,211.54 L153.65,211.02 L153.30,210.52 L153.07,210.04 L152.94,209.59 L152.93,209.17 L153.03,208.78" fill="none" stroke="#fff" stroke-width="2.7" stroke-linecap="butt" stroke-linejoin="round"/>
<path d="M185.40,228.08 L185.11,228.84 L184.72,229.56 L184.22,230.24 L183.61,230.87 L182.90,231.46 L182.10,231.99 L181.21,232.47 L180.22,232.89 L179.16,233.26 L178.02,233.57 L176.81,233.82 L175.54,234.01 L174.22,234.15 L172.85,234.22 L171.45,234.24 L170.02,234.20 L168.56,234.11 L167.10,233.97 L165.63,233.77 L164.17,233.53 L162.73,233.23 L161.31,232.90 L159.92,232.53 L158.57,232.12 L157.27,231.68 L156.03,231.21 L154.85,230.72 L153.74,230.21 L152.71,229.69 L151.77,229.15 L150.92,228.61 L150.15,228.07 L149.49,227.53 L148.93,227.00 L148.48,226.49 L148.14,225.99 L147.90,225.51 L147.78,225.06 L147.76,224.64 L147.86,224.25" fill="none" stroke="#1c1c1c" stroke-width="4.7" stroke-linecap="butt" stroke-linejoin="round"/>
<path d="M185.40,228.08 L185.11,228.84 L184.72,229.56 L184.22,230.24 L183.61,230.87 L182.90,231.46 L182.10,231.99 L181.21,232.47 L180.22,232.89 L179.16,233.26 L178.02,233.57 L176.81,233.82 L175.54,234.01 L174.22,234.15 L172.85,234.22 L171.45,234.24 L170.02,234.20 L168.56,234.11 L167.10,233.97 L165.63,233.77 L164.17,233.53 L162.73,233.23 L161.31,232.90 L159.92,232.53 L158.57,232.12 L157.27,231.68 L156.03,231.21 L154.85,230.72 L153.74,230.21 L152.71,229.69 L151.77,229.15 L150.92,228.61 L150.15,228.07 L149.49,227.53 L148.93,227.00 L148.48,226.49 L148.14,225.99 L147.90,225.51 L147.78,225.06 L147.76,224.64 L147.86,224.25" fill="none" stroke="#fff" stroke-width="2.7" stroke-linecap="butt" stroke-linejoin="round"/>
<path d="M180.23,243.55 L179.94,244.31 L179.55,245.03 L179.05,245.71 L178.44,246.34 L177.74,246.93 L176.93,247.46 L176.04,247.94 L175.06,248.36 L173.99,248.73 L172.85,249.04 L171.64,249.29 L170.38,249.48 L169.05,249.62 L167.69,249.69 L166.28,249.71 L164.85,249.67 L163.40,249.58 L161.93,249.44 L160.47,249.24 L159.00,248.99 L157.56,248.70 L156.14,248.37 L154.75,248.00 L153.40,247.59 L152.10,247.15 L150.86,246.68 L149.68,246.19 L148.58,245.68 L147.55,245.16 L146.60,244.62 L145.75,244.08 L144.99,243.54 L144.33,243.00 L143.77,242.47 L143.31,241.96 L142.97,241.46 L142.73,240.98 L142.61,240.53 L142.60,240.11 L142.70,239.72" fill="none" stroke="#1c1c1c" stroke-width="4.7" stroke-linecap="butt" stroke-linejoin="round"/>
<path d="M180.23,243.55 L179.94,244.31 L179.55,245.03 L179.05,245.71 L178.44,246.34 L177.74,246.93 L176.93,247.46 L176.04,247.94 L175.06,248.36 L173.99,248.73 L172.85,249.04 L171.64,249.29 L170.38,249.48 L169.05,249.62 L167.69,249.69 L166.28,249.71 L164.85,249.67 L163.40,249.58 L161.93,249.44 L160.47,249.24 L159.00,248.99 L157.56,248.70 L156.14,248.37 L154.75,248.00 L153.40,247.59 L152.10,247.15 L150.86,246.68 L149.68,246.19 L148.58,245.68 L147.55,245.16 L146.60,244.62 L145.75,244.08 L144.99,243.54 L144.33,243.00 L143.77,242.47 L143.31,241.96 L142.97,241.46 L142.73,240.98 L142.61,240.53 L142.60,240.11 L142.70,239.72" fill="none" stroke="#fff" stroke-width="2.7" stroke-linecap="butt" stroke-linejoin="round"/>
<path d="M175.06,259.02 L174.78,259.78 L174.38,260.50 L173.88,261.18 L173.28,261.81 L172.57,262.39 L171.77,262.93 L170.87,263.41 L169.89,263.83 L168.82,264.20 L167.68,264.51 L166.48,264.76 L165.21,264.95 L163.89,265.08 L162.52,265.16 L161.12,265.18 L159.68,265.14 L158.23,265.05 L156.76,264.90 L155.30,264.71 L153.84,264.46 L152.39,264.17 L150.97,263.84 L149.58,263.47 L148.23,263.06 L146.94,262.62 L145.69,262.15 L144.52,261.66 L143.41,261.15 L142.38,260.63 L141.44,260.09 L140.58,259.55 L139.82,259.01 L139.16,258.47 L138.60,257.94 L138.15,257.43 L137.80,256.93 L137.57,256.45 L137.44,256.00 L137.43,255.58 L137.53,255.19" fill="none" stroke="#1c1c1c" stroke-width="4.7" stroke-linecap="butt" stroke-linejoin="round"/>
<path d="M175.06,259.02 L174.78,259.78 L174.38,260.50 L173.88,261.18 L173.28,261.81 L172.57,262.39 L171.77,262.93 L170.87,263.41 L169.89,263.83 L168.82,264.20 L167.68,264.51 L166.48,264.76 L165.21,264.95 L163.89,265.08 L162.52,265.16 L161.12,265.18 L159.68,265.14 L158.23,265.05 L156.76,264.90 L155.30,264.71 L153.84,264.46 L152.39,264.17 L150.97,263.84 L149.58,263.47 L148.23,263.06 L146.94,262.62 L145.69,262.15 L144.52,261.66 L143.41,261.15 L142.38,260.63 L141.44,260.09 L140.58,259.55 L139.82,259.01 L139.16,258.47 L138.60,257.94 L138.15,257.43 L137.80,256.93 L137.57,256.45 L137.44,256.00 L137.43,255.58 L137.53,255.19" fill="none" stroke="#fff" stroke-width="2.7" stroke-linecap="butt" stroke-linejoin="round"/>
<path d="M169.89,274.49 L169.61,275.25 L169.22,275.97 L168.72,276.65 L168.11,277.28 L167.40,277.86 L166.60,278.40 L165.70,278.87 L164.72,279.30 L163.66,279.66 L162.52,279.97 L161.31,280.23 L160.04,280.42 L158.72,280.55 L157.35,280.63 L155.95,280.65 L154.52,280.61 L153.06,280.52 L151.60,280.37 L150.13,280.18 L148.67,279.93 L147.23,279.64 L145.80,279.31 L144.42,278.94 L143.07,278.53 L141.77,278.09 L140.53,277.62 L139.35,277.13 L138.24,276.62 L137.21,276.10 L136.27,275.56 L135.41,275.02 L134.65,274.48 L133.99,273.94 L133.43,273.41 L132.98,272.89 L132.63,272.40 L132.40,271.92 L132.28,271.47 L132.26,271.05 L132.36,270.66" fill="none" stroke="#1c1c1c" stroke-width="4.7" stroke-linecap="butt" stroke-linejoin="round"/>
<path d="M169.89,274.49 L169.61,275.25 L169.22,275.97 L168.72,276.65 L168.11,277.28 L167.40,277.86 L166.60,278.40 L165.70,278.87 L164.72,279.30 L163.66,279.66 L162.52,279.97 L161.31,280.23 L160.04,280.42 L158.72,280.55 L157.35,280.63 L155.95,280.65 L154.52,280.61 L153.06,280.52 L151.60,280.37 L150.13,280.18 L148.67,279.93 L147.23,279.64 L145.80,279.31 L144.42,278.94 L143.07,278.53 L141.77,278.09 L140.53,277.62 L139.35,277.13 L138.24,276.62 L137.21,276.10 L136.27,275.56 L135.41,275.02 L134.65,274.48 L133.99,273.94 L133.43,273.41 L132.98,272.89 L132.63,272.40 L132.40,271.92 L132.28,271.47 L132.26,271.05 L132.36,270.66" fill="none" stroke="#fff" stroke-width="2.7" stroke-linecap="butt" stroke-linejoin="round"/>
<path d="M161.19,294.01 L160.50,294.36 L159.77,294.68 L159.00,294.97 L158.18,295.23 L157.32,295.45 L156.42,295.64 L155.48,295.80 L154.52,295.93 L153.52,296.02 L152.50,296.09 L151.46,296.12 L150.40,296.11 L149.32,296.08 L148.24,296.01 L147.14,295.92 L146.04,295.79 L144.95,295.64 L143.85,295.46 L142.77,295.26 L141.69,295.03 L140.63,294.77 L139.59,294.50 L138.56,294.20 L137.57,293.89 L136.60,293.56 L135.67,293.21 L134.77,292.85 L133.90,292.48 L133.08,292.09 L132.30,291.70 L131.57,291.30 L130.89,290.90 L130.26,290.49 L129.68,290.09 L129.15,289.68 L128.68,289.28 L128.27,288.89 L127.92,288.50 L127.63,288.12 L127.40,287.75" fill="none" stroke="#1c1c1c" stroke-width="4.7" stroke-linecap="butt" stroke-linejoin="round"/>
<path d="M161.19,294.01 L160.50,294.36 L159.77,294.68 L159.00,294.97 L158.18,295.23 L157.32,295.45 L156.42,295.64 L155.48,295.80 L154.52,295.93 L153.52,296.02 L152.50,296.09 L151.46,296.12 L150.40,296.11 L149.32,296.08 L148.24,296.01 L147.14,295.92 L146.04,295.79 L144.95,295.64 L143.85,295.46 L142.77,295.26 L141.69,295.03 L140.63,294.77 L139.59,294.50 L138.56,294.20 L137.57,293.89 L136.60,293.56 L135.67,293.21 L134.77,292.85 L133.90,292.48 L133.08,292.09 L132.30,291.70 L131.57,291.30 L130.89,290.90 L130.26,290.49 L129.68,290.09 L129.15,289.68 L128.68,289.28 L128.27,288.89 L127.92,288.50 L127.63,288.12 L127.40,287.75" fill="none" stroke="#fff" stroke-width="2.7" stroke-linecap="butt" stroke-linejoin="round"/>
<path d="M163.11,279.62 L163.89,280.50 L164.36,281.39 L164.51,282.26 L164.35,283.10 L163.86,283.90 L163.07,284.64 L161.99,285.30 L160.62,285.89 L159.01,286.37 L157.18,286.76 L155.16,287.03 L152.98,287.19 L150.69,287.24 L148.33,287.16 L145.93,286.96 L143.55,286.66 L141.22,286.24 L138.99,285.72 L136.89,285.12 L134.97,284.43 L133.26,283.67 L131.78,282.86 L130.57,282.00 L129.65,281.12 L129.03,280.24 L128.72,279.36 L128.73,278.50 L129.07,277.68 L129.71,276.91 L130.66,276.20" fill="none" stroke="#1c1c1c" stroke-width="4.7" stroke-linecap="butt" stroke-linejoin="round"/>
<path d="M163.11,279.62 L163.89,280.50 L164.36,281.39 L164.51,282.26 L164.35,283.10 L163.86,283.90 L163.07,284.64 L161.99,285.30 L160.62,285.89 L159.01,286.37 L157.18,286.76 L155.16,287.03 L152.98,287.19 L150.69,287.24 L148.33,287.16 L145.93,286.96 L143.55,286.66 L141.22,286.24 L138.99,285.72 L136.89,285.12 L134.97,284.43 L133.26,283.67 L131.78,282.86 L130.57,282.00 L129.65,281.12 L129.03,280.24 L128.72,279.36 L128.73,278.50 L129.07,277.68 L129.71,276.91 L130.66,276.20" fill="none" stroke="#fff" stroke-width="2.7" stroke-linecap="butt" stroke-linejoin="round"/>
<path d="M122.58,283.71 L122.68,284.61 L123.15,285.53 L123.98,286.44 L125.16,287.35 L126.66,288.22 L128.46,289.05 L130.53,289.82 L132.84,290.52 L135.34,291.13 L137.99,291.65 L140.74,292.07 L143.56,292.37 L146.39,292.56 L149.18,292.63 L151.88,292.58 L154.46,292.41 L156.85,292.12 L159.03,291.73 L160.96,291.22 L162.60,290.62 L163.93,289.94 L164.92,289.18 L165.55,288.36 L165.82,287.49 L165.34,291.47 L162.88,296.27 L158.82,300.94 L154.06,304.54 L154.06,304.54 L153.58,305.43 L152.35,306.20 L150.44,306.78 L147.99,307.14 L145.17,307.25 L142.17,307.11 L139.19,306.73 L136.44,306.13 L134.10,305.35 L132.33,304.45 L131.26,303.48 L130.95,302.52 L126.94,298.15 L123.83,292.86 L122.31,287.70 Z" fill="white" stroke="#1c1c1c" stroke-width="1.10" stroke-linejoin="round" stroke-linecap="round"/>
<path d="M122.44,285.78 L122.81,286.83 L123.66,287.88 L124.97,288.92 L126.71,289.92 L128.84,290.86 L131.31,291.71 L134.07,292.47 L137.05,293.10 L140.19,293.61 L143.41,293.97 L146.65,294.17 L149.83,294.22 L152.88,294.11 L155.74,293.85 L158.33,293.44 L160.59,292.88 L162.49,292.20 L163.97,291.41 L165.01,290.52 L165.57,289.55" fill="none" stroke="#1c1c1c" stroke-width="1.10" stroke-linejoin="round" stroke-linecap="round"/>
<path d="M122.90,290.41 L123.26,291.40 L124.08,292.39 L125.34,293.37 L127.00,294.31 L129.05,295.20 L131.41,296.01 L134.06,296.73 L136.92,297.33 L139.92,297.81 L143.02,298.15 L146.12,298.35 L149.17,298.40 L152.09,298.30 L154.83,298.06 L157.31,297.67 L159.48,297.16 L161.30,296.52 L162.72,295.77 L163.71,294.93 L164.25,294.03" fill="none" stroke="#1c1c1c" stroke-width="1.10" stroke-linejoin="round" stroke-linecap="round"/>
<path d="M125.02,295.56 L125.34,296.42 L126.05,297.29 L127.15,298.15 L128.61,298.98 L130.40,299.75 L132.47,300.46 L134.78,301.09 L137.28,301.61 L139.92,302.03 L142.62,302.33 L145.34,302.51 L148.01,302.55 L150.56,302.47 L152.96,302.25 L155.13,301.92 L157.03,301.46 L158.62,300.90 L159.86,300.25 L160.73,299.52 L161.20,298.73" fill="none" stroke="#1c1c1c" stroke-width="1.10" stroke-linejoin="round" stroke-linecap="round"/>
<path d="M128.75,300.62 L128.99,301.30 L129.54,301.98 L130.39,302.66 L131.51,303.30 L132.88,303.91 L134.48,304.46 L136.25,304.95 L138.18,305.36 L140.20,305.69 L142.28,305.92 L144.37,306.05 L146.43,306.08 L148.39,306.01 L150.23,305.84 L151.91,305.57 L153.37,305.21 L154.59,304.77 L155.55,304.26 L156.22,303.68 L156.58,303.06" fill="none" stroke="#1c1c1c" stroke-width="1.10" stroke-linejoin="round" stroke-linecap="round"/>
<path d="M209.49,166.70 L208.69,167.79 L207.12,168.57 L204.84,169.01 L201.95,169.10 L198.56,168.83 L194.79,168.22 L190.79,167.28 L186.71,166.05 L182.71,164.58 L178.95,162.93 L175.57,161.16 L172.69,159.33 L170.44,157.52 L168.89,155.80 L168.10,154.23 L168.11,152.88 L168.92,151.79 L170.49,151.01 L172.76,150.56 L175.65,150.47 L179.05,150.74 L182.82,151.36 L186.82,152.30 L190.89,153.52 L194.89,154.99 L198.65,156.65 L202.04,158.42 L204.91,160.25 L207.17,162.05 L208.72,163.78 L209.50,165.34 L209.49,166.70Z" fill="white" stroke="#1c1c1c" stroke-width="1.10" stroke-linejoin="round" stroke-linecap="round"/>
<path d="M210.19,164.61 L209.38,165.70 L207.81,166.48 L205.54,166.93 L202.65,167.02 L199.25,166.75 L195.48,166.13 L191.48,165.19 L187.41,163.96 L183.41,162.49 L179.65,160.84 L176.27,159.07 L173.39,157.24 L171.14,155.43 L169.59,153.71 L168.80,152.14 L168.81,150.79 L169.62,149.70 L171.19,148.92 L173.46,148.47 L176.35,148.38 L179.75,148.65 L183.52,149.27 L187.52,150.21 L191.59,151.44 L195.59,152.91 L199.35,154.56 L202.73,156.33 L205.61,158.16 L207.86,159.97 L209.41,161.69 L210.20,163.26 L210.19,164.61Z" fill="white" stroke="#1c1c1c" stroke-width="1.10" stroke-linejoin="round" stroke-linecap="round"/>
<path d="M171.18,152.82 L171.56,153.74 L172.28,154.75 L173.34,155.82 L174.71,156.92 L176.36,158.05 L178.28,159.17 L180.40,160.27 L182.71,161.32 L185.14,162.31 L187.66,163.20 L190.21,164.00 L192.75,164.68 L195.23,165.22 L197.59,165.62 L199.79,165.87 L201.79,165.97 L203.55,165.91 L205.04,165.69 L206.22,165.32 L207.07,164.81" fill="none" stroke="#1c1c1c" stroke-width="0.98" stroke-linejoin="round" stroke-linecap="round"/>
<path d="M193.30,107.81 L178.11,152.31 L178.11,152.31 L178.09,153.13 L178.53,154.07 L179.41,155.09 L180.69,156.16 L182.33,157.23 L184.26,158.27 L186.42,159.23 L188.71,160.07 L191.05,160.77 L193.34,161.30 L195.51,161.63 L197.47,161.76 L199.13,161.68 L200.45,161.39 L201.36,160.90 L201.84,160.24 L216.26,117.06 L217.6,113.9 L215.7,110.6 L220.6,107.6 L225.6,99 L225.5,91.2 L222.4,86.4 L213.3,84.1 L205.3,82.6 C200,84.5 196,89.5 195.2,95.3 L195.7,103.3 L197.9,105.2 Z" fill="white" stroke="#1c1c1c" stroke-width="1.10" stroke-linejoin="round" stroke-linecap="round"/>
<line x1="193.01" y1="110.88" x2="214.71" y2="118.55" stroke="#1c1c1c" stroke-width="0.98" stroke-dasharray="5 2"/>
<line x1="200.50" y1="105.70" x2="206.80" y2="108.90" stroke="#1c1c1c" stroke-width="0.98"/>
<ellipse cx="219.40" cy="98.30" rx="7.60" ry="11.60" fill="white" stroke="#1c1c1c" stroke-width="1.46" transform="rotate(8.00 219.40 98.30)"/>
<ellipse cx="220.60" cy="98.60" rx="6.10" ry="9.60" fill="white" stroke="#1c1c1c" stroke-width="0.98" transform="rotate(8.00 220.60 98.60)"/>
<ellipse cx="223.40" cy="99.40" rx="4.20" ry="6.20" fill="white" stroke="#1c1c1c" stroke-width="1.10" transform="rotate(8.00 223.40 99.40)"/>
<ellipse cx="224.40" cy="99.80" rx="2.60" ry="3.60" fill="#ccc" stroke="#1c1c1c" stroke-width="1.10" transform="rotate(8.00 224.40 99.80)"/>
<ellipse cx="225.00" cy="100.00" rx="1.30" ry="1.90" fill="white" stroke="#1c1c1c" stroke-width="0.98" transform="rotate(8.00 225.00 100.00)"/>
<path d="M145.6,315.4 L127.3,306.7 C121.5,307.2 115.5,313.5 113.3,322.5 C112.8,325.5 113.2,327.5 113.8,328.6 L135.6,340.6 Z" fill="white" stroke="#1c1c1c" stroke-width="1.10" stroke-linejoin="round" stroke-linecap="round"/>
<path d="M130.4,303.1 L128.8,308.2 L127.3,311.7 L132.4,314.7 L139.4,312.7 L142.6,314.2 L142,310.2 L143.5,306.8" fill="white" stroke="#1c1c1c" stroke-width="1.10" stroke-linejoin="round" stroke-linecap="round"/>
<ellipse cx="142.00" cy="327.90" rx="8.60" ry="12.80" fill="white" stroke="#1c1c1c" stroke-width="1.59" transform="rotate(12.00 142.00 327.90)"/>
<ellipse cx="142.70" cy="328.10" rx="7.00" ry="10.80" fill="white" stroke="#1c1c1c" stroke-width="0.85" transform="rotate(12.00 142.70 328.10)"/>
<ellipse cx="143.20" cy="328.30" rx="5.40" ry="8.40" fill="white" stroke="#1c1c1c" stroke-width="0.98" transform="rotate(12.00 143.20 328.30)"/>
<ellipse cx="143.60" cy="328.40" rx="3.60" ry="5.40" fill="white" stroke="#1c1c1c" stroke-width="1.10" transform="rotate(12.00 143.60 328.40)"/>
<ellipse cx="143.90" cy="328.50" rx="2.00" ry="3.00" fill="#ccc" stroke="#1c1c1c" stroke-width="1.10" transform="rotate(12.00 143.90 328.50)"/>
<ellipse cx="144.20" cy="328.60" rx="0.90" ry="1.40" fill="white" stroke="#1c1c1c" stroke-width="0.85" transform="rotate(12.00 144.20 328.60)"/>
<polygon points="147.81,84.29 167.47,90.08 169.17,84.33 149.50,78.54" fill="white" stroke="#1c1c1c" stroke-width="1.10" stroke-linejoin="round" stroke-linecap="round"/>
<polygon points="167.51,89.94 179.99,93.61 181.60,88.14 169.12,84.47" fill="white" stroke="#1c1c1c" stroke-width="0.98" stroke-linejoin="round" stroke-linecap="round"/>
<line x1="168.57" y1="90.25" x2="171.33" y2="85.12" stroke="#1c1c1c" stroke-width="0.85"/>
<line x1="170.20" y1="90.73" x2="172.96" y2="85.60" stroke="#1c1c1c" stroke-width="0.85"/>
<line x1="171.83" y1="91.21" x2="174.59" y2="86.08" stroke="#1c1c1c" stroke-width="0.85"/>
<line x1="173.46" y1="91.69" x2="176.22" y2="86.56" stroke="#1c1c1c" stroke-width="0.85"/>
<line x1="175.09" y1="92.17" x2="177.85" y2="87.04" stroke="#1c1c1c" stroke-width="0.85"/>
<line x1="176.72" y1="92.65" x2="179.48" y2="87.52" stroke="#1c1c1c" stroke-width="0.85"/>
<line x1="178.36" y1="93.13" x2="181.12" y2="88.00" stroke="#1c1c1c" stroke-width="0.85"/>
<ellipse cx="149.61" cy="81.70" rx="3.51" ry="6.38" fill="white" stroke="#1c1c1c" stroke-width="1.10" transform="rotate(16.40 149.61 81.70)"/>
<ellipse cx="148.65" cy="81.42" rx="3.51" ry="6.38" fill="white" stroke="#1c1c1c" stroke-width="1.10" transform="rotate(16.40 148.65 81.42)"/>
<polygon points="150.48,84.98 147.02,86.98 145.18,83.42 146.82,77.85 150.29,75.85 152.12,79.41" fill="white" stroke="#1c1c1c" stroke-width="1.22" stroke-linejoin="round" stroke-linecap="round"/>
<polygon points="147.03,83.96 143.56,85.96 147.02,86.98 150.48,84.98" fill="#f2f2f2" stroke="#1c1c1c" stroke-width="1.10" stroke-linejoin="round" stroke-linecap="round"/>
<polygon points="143.56,85.96 141.73,82.40 145.18,83.42 147.02,86.98" fill="#f2f2f2" stroke="#1c1c1c" stroke-width="1.10" stroke-linejoin="round" stroke-linecap="round"/>
<polygon points="141.73,82.40 143.37,76.84 146.82,77.85 145.18,83.42" fill="#f2f2f2" stroke="#1c1c1c" stroke-width="1.10" stroke-linejoin="round" stroke-linecap="round"/>
<polygon points="143.37,76.84 146.84,74.84 150.29,75.85 146.82,77.85" fill="#f2f2f2" stroke="#1c1c1c" stroke-width="1.10" stroke-linejoin="round" stroke-linecap="round"/>
<polygon points="146.84,74.84 148.67,78.40 152.12,79.41 150.29,75.85" fill="#f2f2f2" stroke="#1c1c1c" stroke-width="1.10" stroke-linejoin="round" stroke-linecap="round"/>
<polygon points="148.67,78.40 147.03,83.96 150.48,84.98 152.12,79.41" fill="#f2f2f2" stroke="#1c1c1c" stroke-width="1.10" stroke-linejoin="round" stroke-linecap="round"/>
<polygon points="147.03,83.96 143.56,85.96 141.73,82.40 143.37,76.84 146.84,74.84 148.67,78.40" fill="white" stroke="#1c1c1c" stroke-width="1.22" stroke-linejoin="round" stroke-linecap="round"/>
<ellipse cx="189.80" cy="92.10" rx="4.50" ry="6.40" fill="white" stroke="#1c1c1c" stroke-width="1.10" transform="rotate(8.00 189.80 92.10)"/>
<ellipse cx="188.60" cy="91.80" rx="4.50" ry="6.40" fill="white" stroke="#1c1c1c" stroke-width="1.10" transform="rotate(8.00 188.60 91.80)"/>
<ellipse cx="188.60" cy="91.80" rx="2.02" ry="2.88" fill="#e4e4e4" stroke="#1c1c1c" stroke-width="1.22" transform="rotate(8.00 188.60 91.80)"/>
<ellipse cx="237.70" cy="104.12" rx="4.60" ry="6.20" fill="white" stroke="#1c1c1c" stroke-width="1.10" transform="rotate(8.00 237.70 104.12)"/>
<ellipse cx="236.40" cy="103.80" rx="4.60" ry="6.20" fill="white" stroke="#1c1c1c" stroke-width="1.10" transform="rotate(8.00 236.40 103.80)"/>
<ellipse cx="236.40" cy="103.80" rx="1.93" ry="2.60" fill="#e4e4e4" stroke="#1c1c1c" stroke-width="1.22" transform="rotate(8.00 236.40 103.80)"/>
<polygon points="249.41,109.38 245.49,111.38 243.22,107.60 244.87,101.84 248.79,99.84 251.06,103.61" fill="white" stroke="#1c1c1c" stroke-width="1.22" stroke-linejoin="round" stroke-linecap="round"/>
<polygon points="252.87,110.37 248.95,112.37 245.49,111.38 249.41,109.38" fill="#f2f2f2" stroke="#1c1c1c" stroke-width="1.10" stroke-linejoin="round" stroke-linecap="round"/>
<polygon points="248.95,112.37 246.68,108.60 243.22,107.60 245.49,111.38" fill="#f2f2f2" stroke="#1c1c1c" stroke-width="1.10" stroke-linejoin="round" stroke-linecap="round"/>
<polygon points="246.68,108.60 248.33,102.83 244.87,101.84 243.22,107.60" fill="#f2f2f2" stroke="#1c1c1c" stroke-width="1.10" stroke-linejoin="round" stroke-linecap="round"/>
<polygon points="248.33,102.83 252.25,100.83 248.79,99.84 244.87,101.84" fill="#f2f2f2" stroke="#1c1c1c" stroke-width="1.10" stroke-linejoin="round" stroke-linecap="round"/>
<polygon points="252.25,100.83 254.52,104.60 251.06,103.61 248.79,99.84" fill="#f2f2f2" stroke="#1c1c1c" stroke-width="1.10" stroke-linejoin="round" stroke-linecap="round"/>
<polygon points="254.52,104.60 252.87,110.37 249.41,109.38 251.06,103.61" fill="#f2f2f2" stroke="#1c1c1c" stroke-width="1.10" stroke-linejoin="round" stroke-linecap="round"/>
<polygon points="252.87,110.37 248.95,112.37 246.68,108.60 248.33,102.83 252.25,100.83 254.52,104.60" fill="white" stroke="#1c1c1c" stroke-width="1.22" stroke-linejoin="round" stroke-linecap="round"/>
<ellipse cx="250.60" cy="106.60" rx="1.86" ry="3.00" fill="#666" stroke="#1c1c1c" stroke-width="1.22" transform="rotate(16.00 250.60 106.60)"/>
<polygon points="71.92,302.47 92.06,310.00 94.16,304.38 74.02,296.85" fill="white" stroke="#1c1c1c" stroke-width="1.10" stroke-linejoin="round" stroke-linecap="round"/>
<polygon points="92.11,309.86 102.42,313.71 104.41,308.37 94.11,304.52" fill="white" stroke="#1c1c1c" stroke-width="0.98" stroke-linejoin="round" stroke-linecap="round"/>
<line x1="93.14" y1="310.24" x2="96.26" y2="305.33" stroke="#1c1c1c" stroke-width="0.85"/>
<line x1="94.74" y1="310.84" x2="97.86" y2="305.92" stroke="#1c1c1c" stroke-width="0.85"/>
<line x1="96.33" y1="311.44" x2="99.45" y2="306.52" stroke="#1c1c1c" stroke-width="0.85"/>
<line x1="97.92" y1="312.03" x2="101.04" y2="307.11" stroke="#1c1c1c" stroke-width="0.85"/>
<line x1="99.51" y1="312.63" x2="102.63" y2="307.71" stroke="#1c1c1c" stroke-width="0.85"/>
<line x1="101.10" y1="313.22" x2="104.22" y2="308.30" stroke="#1c1c1c" stroke-width="0.85"/>
<ellipse cx="73.91" cy="300.01" rx="3.51" ry="6.38" fill="white" stroke="#1c1c1c" stroke-width="1.10" transform="rotate(20.50 73.91 300.01)"/>
<ellipse cx="72.97" cy="299.66" rx="3.51" ry="6.38" fill="white" stroke="#1c1c1c" stroke-width="1.10" transform="rotate(20.50 72.97 299.66)"/>
<polygon points="74.54,303.34 70.94,305.09 69.37,301.41 71.40,295.98 75.00,294.23 76.58,297.91" fill="white" stroke="#1c1c1c" stroke-width="1.22" stroke-linejoin="round" stroke-linecap="round"/>
<polygon points="71.17,302.08 67.57,303.83 70.94,305.09 74.54,303.34" fill="#f2f2f2" stroke="#1c1c1c" stroke-width="1.10" stroke-linejoin="round" stroke-linecap="round"/>
<polygon points="67.57,303.83 66.00,300.15 69.37,301.41 70.94,305.09" fill="#f2f2f2" stroke="#1c1c1c" stroke-width="1.10" stroke-linejoin="round" stroke-linecap="round"/>
<polygon points="66.00,300.15 68.03,294.72 71.40,295.98 69.37,301.41" fill="#f2f2f2" stroke="#1c1c1c" stroke-width="1.10" stroke-linejoin="round" stroke-linecap="round"/>
<polygon points="68.03,294.72 71.63,292.97 75.00,294.23 71.40,295.98" fill="#f2f2f2" stroke="#1c1c1c" stroke-width="1.10" stroke-linejoin="round" stroke-linecap="round"/>
<polygon points="71.63,292.97 73.20,296.65 76.58,297.91 75.00,294.23" fill="#f2f2f2" stroke="#1c1c1c" stroke-width="1.10" stroke-linejoin="round" stroke-linecap="round"/>
<polygon points="73.20,296.65 71.17,302.08 74.54,303.34 76.58,297.91" fill="#f2f2f2" stroke="#1c1c1c" stroke-width="1.10" stroke-linejoin="round" stroke-linecap="round"/>
<polygon points="71.17,302.08 67.57,303.83 66.00,300.15 68.03,294.72 71.63,292.97 73.20,296.65" fill="white" stroke="#1c1c1c" stroke-width="1.22" stroke-linejoin="round" stroke-linecap="round"/>
<ellipse cx="110.80" cy="314.16" rx="4.50" ry="6.20" fill="white" stroke="#1c1c1c" stroke-width="1.10" transform="rotate(8.00 110.80 314.16)"/>
<ellipse cx="109.60" cy="313.80" rx="4.50" ry="6.20" fill="white" stroke="#1c1c1c" stroke-width="1.10" transform="rotate(8.00 109.60 313.80)"/>
<ellipse cx="109.60" cy="313.80" rx="2.02" ry="2.79" fill="#e4e4e4" stroke="#1c1c1c" stroke-width="1.22" transform="rotate(8.00 109.60 313.80)"/>
</g>
<g id="sec_brkt">
<line x1="300.00" y1="133.50" x2="311.00" y2="130.20" stroke="#1c1c1c" stroke-width="0.85"/>
<line x1="320.00" y1="127.60" x2="343.50" y2="120.60" stroke="#1c1c1c" stroke-width="0.85" stroke-dasharray="14 3 3 3"/>
<line x1="361.00" y1="115.00" x2="373.50" y2="108.00" stroke="#1c1c1c" stroke-width="0.85" stroke-dasharray="6 2"/>
<polygon points="283.47,140.17 291.63,137.77 289.99,132.20 281.83,134.60" fill="white" stroke="#1c1c1c" stroke-width="1.10" stroke-linejoin="round" stroke-linecap="round"/>
<polygon points="291.59,137.63 301.18,134.80 299.62,129.52 290.03,132.34" fill="white" stroke="#1c1c1c" stroke-width="0.98" stroke-linejoin="round" stroke-linecap="round"/>
<line x1="292.64" y1="137.32" x2="292.24" y2="131.69" stroke="#1c1c1c" stroke-width="0.85"/>
<line x1="294.27" y1="136.84" x2="293.87" y2="131.21" stroke="#1c1c1c" stroke-width="0.85"/>
<line x1="295.90" y1="136.36" x2="295.50" y2="130.73" stroke="#1c1c1c" stroke-width="0.85"/>
<line x1="297.53" y1="135.88" x2="297.13" y2="130.25" stroke="#1c1c1c" stroke-width="0.85"/>
<line x1="299.16" y1="135.40" x2="298.76" y2="129.77" stroke="#1c1c1c" stroke-width="0.85"/>
<polygon points="286.82,136.16 286.25,141.92 282.09,143.15 278.49,138.61 279.06,132.85 283.22,131.62" fill="white" stroke="#1c1c1c" stroke-width="1.22" stroke-linejoin="round" stroke-linecap="round"/>
<polygon points="283.36,137.17 282.80,142.94 286.25,141.92 286.82,136.16" fill="#f2f2f2" stroke="#1c1c1c" stroke-width="1.10" stroke-linejoin="round" stroke-linecap="round"/>
<polygon points="282.80,142.94 278.63,144.16 282.09,143.15 286.25,141.92" fill="#f2f2f2" stroke="#1c1c1c" stroke-width="1.10" stroke-linejoin="round" stroke-linecap="round"/>
<polygon points="278.63,144.16 275.04,139.63 278.49,138.61 282.09,143.15" fill="#f2f2f2" stroke="#1c1c1c" stroke-width="1.10" stroke-linejoin="round" stroke-linecap="round"/>
<polygon points="275.04,139.63 275.60,133.86 279.06,132.85 278.49,138.61" fill="#f2f2f2" stroke="#1c1c1c" stroke-width="1.10" stroke-linejoin="round" stroke-linecap="round"/>
<polygon points="275.60,133.86 279.77,132.64 283.22,131.62 279.06,132.85" fill="#f2f2f2" stroke="#1c1c1c" stroke-width="1.10" stroke-linejoin="round" stroke-linecap="round"/>
<polygon points="279.77,132.64 283.36,137.17 286.82,136.16 283.22,131.62" fill="#f2f2f2" stroke="#1c1c1c" stroke-width="1.10" stroke-linejoin="round" stroke-linecap="round"/>
<polygon points="283.36,137.17 282.80,142.94 278.63,144.16 275.04,139.63 275.60,133.86 279.77,132.64" fill="white" stroke="#1c1c1c" stroke-width="1.22" stroke-linejoin="round" stroke-linecap="round"/>
<polygon points="304.10,121.00 319.60,122.90 320.80,161.70 305.00,158.90" fill="white" stroke="#1c1c1c" stroke-width="1.10" stroke-linejoin="round" stroke-linecap="round"/>
<line x1="318.30" y1="122.80" x2="319.40" y2="161.40" stroke="#1c1c1c" stroke-width="0.98"/>
<ellipse cx="310.70" cy="129.90" rx="1.50" ry="2.30" fill="#ccc" stroke="#1c1c1c" stroke-width="1.10"/>
<ellipse cx="311.10" cy="151.70" rx="1.50" ry="2.30" fill="#ccc" stroke="#1c1c1c" stroke-width="1.10"/>
<path d="M330.6,111.4 L345.3,107.1 L359.5,108.5 L361.6,110 L361.9,149.3 L355.8,151.9 L343.4,151.2 C340,150 337.5,148.5 336.8,147.4 L334.9,143.6 L333,145.5 C331.5,146.4 329.5,146.6 328.3,146.4 C326,146 324.2,145.2 323.5,144.5 C322,143.4 321,142 320.9,140.8 L320.7,137 Z" fill="white" stroke="#1c1c1c" stroke-width="1.10" stroke-linejoin="round" stroke-linecap="round"/>
<polyline points="330.60,111.40 334.00,114.20 347.20,114.70 361.40,110.00" fill="none" stroke="#1c1c1c" stroke-width="1.10" stroke-linejoin="round" stroke-linecap="round"/>
<line x1="333.00" y1="113.70" x2="322.10" y2="138.40" stroke="#1c1c1c" stroke-width="0.98"/>
<polyline points="345.30,115.20 334.40,139.80 335.40,144.50 337.70,147.90 342.50,150.20" fill="none" stroke="#1c1c1c" stroke-width="1.10" stroke-linejoin="round" stroke-linecap="round"/>
<line x1="347.20" y1="115.20" x2="336.30" y2="139.30" stroke="#1c1c1c" stroke-width="0.98"/>
<path d="M342.5,150.2 L346.3,147.4 C348.5,146.4 350.5,146.2 352,146.4 C353.6,146.8 354.6,147.6 354.8,148.3 L355.8,151.7" fill="white" stroke="#1c1c1c" stroke-width="1.10" stroke-linejoin="round" stroke-linecap="round"/>
<line x1="345.30" y1="149.60" x2="352.00" y2="147.60" stroke="#1c1c1c" stroke-width="0.98"/>
<ellipse cx="327.80" cy="137.40" rx="1.60" ry="2.50" fill="#ccc" stroke="#1c1c1c" stroke-width="1.10" transform="rotate(15.00 327.80 137.40)"/>
<ellipse cx="342.50" cy="141.20" rx="1.60" ry="2.50" fill="#ccc" stroke="#1c1c1c" stroke-width="1.10" transform="rotate(15.00 342.50 141.20)"/>
<line x1="320.00" y1="127.60" x2="343.50" y2="120.60" stroke="#1c1c1c" stroke-width="0.85" stroke-dasharray="14 3 3 3"/>
<polygon points="367.90,98.60 383.60,93.50 411.70,94.50 411.70,107.30 403.50,110.60 379.80,131.00 367.90,129.50" fill="white" stroke="#1c1c1c" stroke-width="1.10" stroke-linejoin="round" stroke-linecap="round"/>
<polyline points="367.90,98.60 402.60,99.80 411.70,94.50" fill="none" stroke="#1c1c1c" stroke-width="1.10" stroke-linejoin="round" stroke-linecap="round"/>
<line x1="402.60" y1="99.80" x2="403.50" y2="110.60" stroke="#1c1c1c" stroke-width="1.10"/>
<ellipse cx="373.80" cy="107.70" rx="1.60" ry="2.30" fill="#bbb" stroke="#1c1c1c" stroke-width="1.10"/>
<ellipse cx="373.80" cy="124.80" rx="1.60" ry="2.30" fill="#bbb" stroke="#1c1c1c" stroke-width="1.10"/>
<ellipse cx="399.70" cy="96.70" rx="1.40" ry="0.80" fill="#bbb" stroke="#1c1c1c" stroke-width="0.98"/>
</g>
<g id="sec_upper">
<path d="M611.7,220.9 L548.4,208.4 C546.6,208.6 546.2,212.6 548,213.6 L589,223.1" fill="white" stroke="#1c1c1c" stroke-width="1.10" stroke-linejoin="round" stroke-linecap="round"/>
<polygon points="492.60,224.90 552.30,200.40 560.40,209.40 545.30,212.50 520.00,226.40 500.00,236.00" fill="white" stroke="none" stroke-width="1.10" stroke-linejoin="round" stroke-linecap="round"/>
<line x1="492.60" y1="224.90" x2="553.00" y2="200.20" stroke="#1c1c1c" stroke-width="1.10"/>
<path d="M503,234.6 L546.6,212.2 C551,210.3 556,209.4 560.4,209.6" fill="none" stroke="#1c1c1c" stroke-width="1.10" stroke-linejoin="round" stroke-linecap="round"/>
<polygon points="491.30,242.90 520.00,229.20 650.00,218.60 655.00,228.50" fill="white" stroke="none" stroke-width="1.10" stroke-linejoin="round" stroke-linecap="round"/>
<path d="M491.3,243.2 C520,240.5 590,235.5 654,227.6" fill="none" stroke="#1c1c1c" stroke-width="1.10" stroke-linejoin="round" stroke-linecap="round"/>
<path d="M521,230.5 C560,226.2 610,221.4 649.5,218.6" fill="none" stroke="#1c1c1c" stroke-width="1.10" stroke-linejoin="round" stroke-linecap="round"/>
<path d="M492.6,224.9 L497,220.8 L512.5,219.4 L519.5,226.2 L521.2,232.3 L504,233.6 L497.8,229.2 Z" fill="white" stroke="#1c1c1c" stroke-width="1.10" stroke-linejoin="round" stroke-linecap="round"/>
<path d="M497.8,229.2 C499,225 502,222.6 506,222.4 C512,222.4 517,226 519.5,231" fill="none" stroke="#1c1c1c" stroke-width="0.98" stroke-linejoin="round" stroke-linecap="round"/>
<ellipse cx="506.80" cy="226.00" rx="3.40" ry="1.90" fill="white" stroke="#1c1c1c" stroke-width="1.10"/>
<line x1="501.00" y1="234.60" x2="512.00" y2="233.80" stroke="#1c1c1c" stroke-width="0.85" stroke-dasharray="2 1.4"/>
<path d="M459.9,234.4 L459.9,245.5 C462,250 469,251.8 475.6,251.8 C483,251.8 489.5,249.6 491.3,245.3 L491.3,234.4 Z" fill="white" stroke="#1c1c1c" stroke-width="1.10" stroke-linejoin="round" stroke-linecap="round"/>
<ellipse cx="475.60" cy="234.30" rx="15.70" ry="7.00" fill="white" stroke="#1c1c1c" stroke-width="1.22"/>
<ellipse cx="475.60" cy="234.80" rx="13.40" ry="5.60" fill="white" stroke="#1c1c1c" stroke-width="0.98"/>
<path d="M463.76,234.69 L464.55,234.00 L465.60,233.36 L466.89,232.79 L468.37,232.30 L470.03,231.92 L471.81,231.63 L473.68,231.46 L475.60,231.40 L477.52,231.46 L479.39,231.63 L481.17,231.92 L482.83,232.30 L484.31,232.79 L485.60,233.36 L486.65,234.00 L487.44,234.69" fill="none" stroke="#1c1c1c" stroke-width="0.98" stroke-linejoin="round" stroke-linecap="round"/>
<path d="M575.3,191.2 L559.4,189.0 C555,191 551.8,196.5 551.9,201.5 L552.4,204.8 L560.4,209.6 L571,213.2 Z" fill="white" stroke="#1c1c1c" stroke-width="1.10" stroke-linejoin="round" stroke-linecap="round"/>
<ellipse cx="574.50" cy="201.90" rx="6.60" ry="11.20" fill="white" stroke="#1c1c1c" stroke-width="1.59" transform="rotate(10.00 574.50 201.90)"/>
<ellipse cx="575.00" cy="202.00" rx="5.20" ry="9.20" fill="white" stroke="#1c1c1c" stroke-width="0.85" transform="rotate(10.00 575.00 202.00)"/>
<ellipse cx="575.30" cy="202.20" rx="3.60" ry="6.00" fill="#ddd" stroke="#1c1c1c" stroke-width="1.10" transform="rotate(10.00 575.30 202.20)"/>
<ellipse cx="575.60" cy="202.40" rx="1.60" ry="2.70" fill="white" stroke="#1c1c1c" stroke-width="1.10" transform="rotate(10.00 575.60 202.40)"/>
<path d="M669.4,210.0 L655.4,207.4 C651.5,209 648.6,213.8 648.7,218.6 L650.4,226.9 L666,231.7 Z" fill="white" stroke="#1c1c1c" stroke-width="1.10" stroke-linejoin="round" stroke-linecap="round"/>
<ellipse cx="668.90" cy="220.60" rx="6.10" ry="10.60" fill="white" stroke="#1c1c1c" stroke-width="1.59" transform="rotate(10.00 668.90 220.60)"/>
<ellipse cx="669.30" cy="220.80" rx="4.80" ry="8.60" fill="white" stroke="#1c1c1c" stroke-width="0.85" transform="rotate(10.00 669.30 220.80)"/>
<ellipse cx="669.60" cy="221.00" rx="3.30" ry="5.60" fill="#ddd" stroke="#1c1c1c" stroke-width="1.10" transform="rotate(10.00 669.60 221.00)"/>
<ellipse cx="669.90" cy="221.20" rx="1.50" ry="2.50" fill="white" stroke="#1c1c1c" stroke-width="1.10" transform="rotate(10.00 669.90 221.20)"/>
<polygon points="473.20,212.60 473.20,226.80 479.40,226.80 479.40,212.60" fill="white" stroke="#1c1c1c" stroke-width="0.98" stroke-linejoin="round" stroke-linecap="round"/>
<line x1="473.20" y1="213.60" x2="479.40" y2="214.80" stroke="#1c1c1c" stroke-width="0.85"/>
<line x1="473.20" y1="215.20" x2="479.40" y2="216.40" stroke="#1c1c1c" stroke-width="0.85"/>
<line x1="473.20" y1="216.80" x2="479.40" y2="218.00" stroke="#1c1c1c" stroke-width="0.85"/>
<line x1="473.20" y1="218.40" x2="479.40" y2="219.60" stroke="#1c1c1c" stroke-width="0.85"/>
<line x1="473.20" y1="220.00" x2="479.40" y2="221.20" stroke="#1c1c1c" stroke-width="0.85"/>
<line x1="473.20" y1="221.60" x2="479.40" y2="222.80" stroke="#1c1c1c" stroke-width="0.85"/>
<line x1="473.20" y1="223.20" x2="479.40" y2="224.40" stroke="#1c1c1c" stroke-width="0.85"/>
<line x1="473.20" y1="224.80" x2="479.40" y2="226.00" stroke="#1c1c1c" stroke-width="0.85"/>
<path d="M462.9,186 L462.9,197.6 C464,201 467,203 469.3,205.5 L470.6,209.6 L470.8,212.4 L481.8,212.4 L482,209.6 L483.2,205.5 C485.5,203 488.5,201 488.8,197.6 L488.8,186 Z" fill="white" stroke="#1c1c1c" stroke-width="1.10" stroke-linejoin="round" stroke-linecap="round"/>
<path d="M488.50,197.83 L487.92,198.43 L486.97,199.00 L485.68,199.51 L484.09,199.96 L482.25,200.32 L480.21,200.58 L478.04,200.75 L475.80,200.80 L473.56,200.75 L471.39,200.58 L469.35,200.32 L467.51,199.96 L465.92,199.51 L464.63,199.00 L463.68,198.43 L463.10,197.83" fill="none" stroke="#1c1c1c" stroke-width="0.98" stroke-linejoin="round" stroke-linecap="round"/>
<path d="M482.10,209.40 L481.99,209.71 L481.66,210.01 L481.12,210.29 L480.40,210.53 L479.52,210.73 L478.52,210.88 L477.43,210.97 L476.30,211.00 L475.17,210.97 L474.08,210.88 L473.08,210.73 L472.20,210.53 L471.48,210.29 L470.94,210.01 L470.61,209.71 L470.50,209.40" fill="none" stroke="#1c1c1c" stroke-width="0.98" stroke-linejoin="round" stroke-linecap="round"/>
<path d="M487.92,191.66 L487.11,192.14 L486.03,192.57 L484.72,192.96 L483.20,193.29 L481.51,193.55 L479.68,193.74 L477.76,193.86 L475.80,193.90 L473.84,193.86 L471.92,193.74 L470.09,193.55 L468.40,193.29 L466.88,192.96 L465.57,192.57 L464.49,192.14 L463.68,191.66" fill="none" stroke="#1c1c1c" stroke-width="0.98" stroke-linejoin="round" stroke-linecap="round"/>
<path d="M460.6,180.4 L460.6,184.4 C462,188.5 468,190.6 475.6,190.6 C483,190.6 489.5,188.5 490.8,184.4 L490.8,180.4 Z" fill="white" stroke="#1c1c1c" stroke-width="1.10" stroke-linejoin="round" stroke-linecap="round"/>
<ellipse cx="475.60" cy="180.40" rx="15.20" ry="5.80" fill="white" stroke="#1c1c1c" stroke-width="1.22"/>
<ellipse cx="475.60" cy="180.20" rx="12.40" ry="4.40" fill="white" stroke="#1c1c1c" stroke-width="0.98"/>
<path d="M472.88,180.60 L472.51,180.20 L472.40,179.77 L472.56,179.34 L472.96,178.94 L473.60,178.61 L474.41,178.37 L475.34,178.23 L476.31,178.21 L477.27,178.30 L478.13,178.51 L478.83,178.81 L479.33,179.19 L479.57,179.61 L479.56,180.04 L479.28,180.46 L478.76,180.83" fill="none" stroke="#1c1c1c" stroke-width="0.98" stroke-linejoin="round" stroke-linecap="round"/>
<polygon points="522.11,189.39 525.47,187.03 527.32,190.69 525.82,196.70 522.47,199.06 520.61,195.40" fill="white" stroke="#1c1c1c" stroke-width="1.22" stroke-linejoin="round" stroke-linecap="round"/>
<polygon points="527.55,190.74 530.90,188.38 525.47,187.03 522.11,189.39" fill="#f2f2f2" stroke="#1c1c1c" stroke-width="1.10" stroke-linejoin="round" stroke-linecap="round"/>
<polygon points="530.90,188.38 532.75,192.04 527.32,190.69 525.47,187.03" fill="#f2f2f2" stroke="#1c1c1c" stroke-width="1.10" stroke-linejoin="round" stroke-linecap="round"/>
<polygon points="532.75,192.04 531.25,198.06 525.82,196.70 527.32,190.69" fill="#f2f2f2" stroke="#1c1c1c" stroke-width="1.10" stroke-linejoin="round" stroke-linecap="round"/>
<polygon points="531.25,198.06 527.90,200.42 522.47,199.06 525.82,196.70" fill="#f2f2f2" stroke="#1c1c1c" stroke-width="1.10" stroke-linejoin="round" stroke-linecap="round"/>
<polygon points="527.90,200.42 526.05,196.76 520.61,195.40 522.47,199.06" fill="#f2f2f2" stroke="#1c1c1c" stroke-width="1.10" stroke-linejoin="round" stroke-linecap="round"/>
<polygon points="526.05,196.76 527.55,190.74 522.11,189.39 520.61,195.40" fill="#f2f2f2" stroke="#1c1c1c" stroke-width="1.10" stroke-linejoin="round" stroke-linecap="round"/>
<polygon points="527.55,190.74 530.90,188.38 532.75,192.04 531.25,198.06 527.90,200.42 526.05,196.76" fill="white" stroke="#1c1c1c" stroke-width="1.22" stroke-linejoin="round" stroke-linecap="round"/>
<ellipse cx="529.40" cy="194.40" rx="1.55" ry="3.10" fill="#666" stroke="#1c1c1c" stroke-width="1.22" transform="rotate(194.00 529.40 194.40)"/>
<line x1="517.50" y1="191.00" x2="520.50" y2="191.80" stroke="#1c1c1c" stroke-width="0.85"/>
<polygon points="537.00,191.40 545.20,192.60 545.20,204.10 541.51,203.50 541.51,201.50 539.87,201.30 539.87,203.20 537.00,202.90" fill="white" stroke="#1c1c1c" stroke-width="1.10" stroke-linejoin="round" stroke-linecap="round"/>
<polyline points="543.40,194.60 540.12,194.20 540.12,198.70 543.40,199.10" fill="none" stroke="#1c1c1c" stroke-width="1.10" stroke-linejoin="round" stroke-linecap="round"/>
<line x1="540.12" y1="196.55" x2="542.90" y2="196.85" stroke="#1c1c1c" stroke-width="0.98"/>
<line x1="545.40" y1="198.60" x2="552.00" y2="200.20" stroke="#1c1c1c" stroke-width="0.85" stroke-dasharray="3 1.5"/>
<polygon points="582.20,171.00 590.40,172.20 590.40,183.70 586.71,183.10 586.71,181.10 585.07,180.90 585.07,182.80 582.20,182.50" fill="white" stroke="#1c1c1c" stroke-width="1.10" stroke-linejoin="round" stroke-linecap="round"/>
<polyline points="588.60,174.20 585.32,173.80 585.32,178.30 588.60,178.70" fill="none" stroke="#1c1c1c" stroke-width="1.10" stroke-linejoin="round" stroke-linecap="round"/>
<line x1="585.32" y1="176.15" x2="588.10" y2="176.45" stroke="#1c1c1c" stroke-width="0.98"/>
<polyline points="582.10,174.60 577.60,174.60 577.10,186.00" fill="none" stroke="#1c1c1c" stroke-width="0.85" stroke-linejoin="round" stroke-linecap="round" stroke-dasharray="9 2 2 2"/>
<polygon points="630.96,182.28 606.26,177.30 605.27,182.20 629.97,187.18" fill="white" stroke="#1c1c1c" stroke-width="1.10" stroke-linejoin="round" stroke-linecap="round"/>
<polygon points="606.23,177.42 593.00,174.75 592.06,179.41 605.29,182.08" fill="white" stroke="#1c1c1c" stroke-width="0.98" stroke-linejoin="round" stroke-linecap="round"/>
<line x1="605.16" y1="177.20" x2="603.04" y2="181.62" stroke="#1c1c1c" stroke-width="0.85"/>
<line x1="603.49" y1="176.87" x2="601.37" y2="181.28" stroke="#1c1c1c" stroke-width="0.85"/>
<line x1="601.82" y1="176.53" x2="599.71" y2="180.95" stroke="#1c1c1c" stroke-width="0.85"/>
<line x1="600.16" y1="176.19" x2="598.04" y2="180.61" stroke="#1c1c1c" stroke-width="0.85"/>
<line x1="598.49" y1="175.86" x2="596.37" y2="180.28" stroke="#1c1c1c" stroke-width="0.85"/>
<line x1="596.82" y1="175.52" x2="594.71" y2="179.94" stroke="#1c1c1c" stroke-width="0.85"/>
<line x1="595.16" y1="175.19" x2="593.04" y2="179.60" stroke="#1c1c1c" stroke-width="0.85"/>
<polygon points="628.07,181.39 631.57,179.24 633.97,182.58 632.86,188.07 629.36,190.22 626.97,186.88" fill="white" stroke="#1c1c1c" stroke-width="1.22" stroke-linejoin="round" stroke-linecap="round"/>
<polygon points="631.41,182.06 634.91,179.91 631.57,179.24 628.07,181.39" fill="#f2f2f2" stroke="#1c1c1c" stroke-width="1.10" stroke-linejoin="round" stroke-linecap="round"/>
<polygon points="634.91,179.91 637.30,183.25 633.97,182.58 631.57,179.24" fill="#f2f2f2" stroke="#1c1c1c" stroke-width="1.10" stroke-linejoin="round" stroke-linecap="round"/>
<polygon points="637.30,183.25 636.19,188.74 632.86,188.07 633.97,182.58" fill="#f2f2f2" stroke="#1c1c1c" stroke-width="1.10" stroke-linejoin="round" stroke-linecap="round"/>
<polygon points="636.19,188.74 632.69,190.89 629.36,190.22 632.86,188.07" fill="#f2f2f2" stroke="#1c1c1c" stroke-width="1.10" stroke-linejoin="round" stroke-linecap="round"/>
<polygon points="632.69,190.89 630.30,187.55 626.97,186.88 629.36,190.22" fill="#f2f2f2" stroke="#1c1c1c" stroke-width="1.10" stroke-linejoin="round" stroke-linecap="round"/>
<polygon points="630.30,187.55 631.41,182.06 628.07,181.39 626.97,186.88" fill="#f2f2f2" stroke="#1c1c1c" stroke-width="1.10" stroke-linejoin="round" stroke-linecap="round"/>
<polygon points="631.41,182.06 634.91,179.91 637.30,183.25 636.19,188.74 632.69,190.89 630.30,187.55" fill="white" stroke="#1c1c1c" stroke-width="1.22" stroke-linejoin="round" stroke-linecap="round"/>
<polygon points="601.92,204.49 605.28,202.13 607.13,205.79 605.63,211.81 602.28,214.16 600.42,210.51" fill="white" stroke="#1c1c1c" stroke-width="1.22" stroke-linejoin="round" stroke-linecap="round"/>
<polygon points="607.75,205.94 611.10,203.58 605.28,202.13 601.92,204.49" fill="#f2f2f2" stroke="#1c1c1c" stroke-width="1.10" stroke-linejoin="round" stroke-linecap="round"/>
<polygon points="611.10,203.58 612.95,207.24 607.13,205.79 605.28,202.13" fill="#f2f2f2" stroke="#1c1c1c" stroke-width="1.10" stroke-linejoin="round" stroke-linecap="round"/>
<polygon points="612.95,207.24 611.45,213.26 605.63,211.81 607.13,205.79" fill="#f2f2f2" stroke="#1c1c1c" stroke-width="1.10" stroke-linejoin="round" stroke-linecap="round"/>
<polygon points="611.45,213.26 608.10,215.62 602.28,214.16 605.63,211.81" fill="#f2f2f2" stroke="#1c1c1c" stroke-width="1.10" stroke-linejoin="round" stroke-linecap="round"/>
<polygon points="608.10,215.62 606.25,211.96 600.42,210.51 602.28,214.16" fill="#f2f2f2" stroke="#1c1c1c" stroke-width="1.10" stroke-linejoin="round" stroke-linecap="round"/>
<polygon points="606.25,211.96 607.75,205.94 601.92,204.49 600.42,210.51" fill="#f2f2f2" stroke="#1c1c1c" stroke-width="1.10" stroke-linejoin="round" stroke-linecap="round"/>
<polygon points="607.75,205.94 611.10,203.58 612.95,207.24 611.45,213.26 608.10,215.62 606.25,211.96" fill="white" stroke="#1c1c1c" stroke-width="1.22" stroke-linejoin="round" stroke-linecap="round"/>
<ellipse cx="609.60" cy="209.60" rx="1.55" ry="3.10" fill="#666" stroke="#1c1c1c" stroke-width="1.22" transform="rotate(194.00 609.60 209.60)"/>
<line x1="594.50" y1="206.20" x2="598.50" y2="207.20" stroke="#1c1c1c" stroke-width="0.85"/>
<line x1="612.80" y1="211.00" x2="620.40" y2="212.80" stroke="#1c1c1c" stroke-width="0.85"/>
<polygon points="620.60,207.40 628.80,208.60 628.80,220.10 625.11,219.50 625.11,217.50 623.47,217.30 623.47,219.20 620.60,218.90" fill="white" stroke="#1c1c1c" stroke-width="1.10" stroke-linejoin="round" stroke-linecap="round"/>
<polyline points="627.00,210.60 623.72,210.20 623.72,214.70 627.00,215.10" fill="none" stroke="#1c1c1c" stroke-width="1.10" stroke-linejoin="round" stroke-linecap="round"/>
<line x1="623.72" y1="212.55" x2="626.50" y2="212.85" stroke="#1c1c1c" stroke-width="0.98"/>
<line x1="629.40" y1="214.60" x2="648.50" y2="218.60" stroke="#1c1c1c" stroke-width="0.85" stroke-dasharray="10 2 2 2"/>
<polygon points="678.20,219.40 686.40,220.60 686.40,232.10 682.71,231.50 682.71,229.50 681.07,229.30 681.07,231.20 678.20,230.90" fill="white" stroke="#1c1c1c" stroke-width="1.10" stroke-linejoin="round" stroke-linecap="round"/>
<polyline points="684.60,222.60 681.32,222.20 681.32,226.70 684.60,227.10" fill="none" stroke="#1c1c1c" stroke-width="1.10" stroke-linejoin="round" stroke-linecap="round"/>
<line x1="681.32" y1="224.55" x2="684.10" y2="224.85" stroke="#1c1c1c" stroke-width="0.98"/>
<polygon points="723.44,229.39 697.47,225.23 696.68,230.17 722.65,234.33" fill="white" stroke="#1c1c1c" stroke-width="1.10" stroke-linejoin="round" stroke-linecap="round"/>
<polygon points="697.45,225.36 687.58,223.78 686.82,228.47 696.70,230.05" fill="white" stroke="#1c1c1c" stroke-width="0.98" stroke-linejoin="round" stroke-linecap="round"/>
<line x1="696.36" y1="225.18" x2="694.43" y2="229.68" stroke="#1c1c1c" stroke-width="0.85"/>
<line x1="694.68" y1="224.91" x2="692.75" y2="229.42" stroke="#1c1c1c" stroke-width="0.85"/>
<line x1="693.01" y1="224.65" x2="691.07" y2="229.15" stroke="#1c1c1c" stroke-width="0.85"/>
<line x1="691.33" y1="224.38" x2="689.39" y2="228.88" stroke="#1c1c1c" stroke-width="0.85"/>
<line x1="689.65" y1="224.11" x2="687.71" y2="228.61" stroke="#1c1c1c" stroke-width="0.85"/>
<polygon points="720.52,228.62 723.93,226.33 726.45,229.57 725.57,235.10 722.16,237.39 719.63,234.15" fill="white" stroke="#1c1c1c" stroke-width="1.22" stroke-linejoin="round" stroke-linecap="round"/>
<polygon points="723.87,229.16 727.29,226.87 723.93,226.33 720.52,228.62" fill="#f2f2f2" stroke="#1c1c1c" stroke-width="1.10" stroke-linejoin="round" stroke-linecap="round"/>
<polygon points="727.29,226.87 729.81,230.11 726.45,229.57 723.93,226.33" fill="#f2f2f2" stroke="#1c1c1c" stroke-width="1.10" stroke-linejoin="round" stroke-linecap="round"/>
<polygon points="729.81,230.11 728.93,235.64 725.57,235.10 726.45,229.57" fill="#f2f2f2" stroke="#1c1c1c" stroke-width="1.10" stroke-linejoin="round" stroke-linecap="round"/>
<polygon points="728.93,235.64 725.51,237.93 722.16,237.39 725.57,235.10" fill="#f2f2f2" stroke="#1c1c1c" stroke-width="1.10" stroke-linejoin="round" stroke-linecap="round"/>
<polygon points="725.51,237.93 722.99,234.69 719.63,234.15 722.16,237.39" fill="#f2f2f2" stroke="#1c1c1c" stroke-width="1.10" stroke-linejoin="round" stroke-linecap="round"/>
<polygon points="722.99,234.69 723.87,229.16 720.52,228.62 719.63,234.15" fill="#f2f2f2" stroke="#1c1c1c" stroke-width="1.10" stroke-linejoin="round" stroke-linecap="round"/>
<polygon points="723.87,229.16 727.29,226.87 729.81,230.11 728.93,235.64 725.51,237.93 722.99,234.69" fill="white" stroke="#1c1c1c" stroke-width="1.22" stroke-linejoin="round" stroke-linecap="round"/>
<polygon points="512.39,250.00 502.92,254.54 504.73,258.33 514.20,253.79" fill="white" stroke="#1c1c1c" stroke-width="1.10" stroke-linejoin="round" stroke-linecap="round"/>
<polygon points="502.96,254.63 494.85,258.52 496.57,262.12 504.69,258.23" fill="white" stroke="#1c1c1c" stroke-width="0.98" stroke-linejoin="round" stroke-linecap="round"/>
<line x1="501.97" y1="255.11" x2="502.61" y2="259.23" stroke="#1c1c1c" stroke-width="0.85"/>
<line x1="500.44" y1="255.84" x2="501.08" y2="259.96" stroke="#1c1c1c" stroke-width="0.85"/>
<line x1="498.91" y1="256.58" x2="499.55" y2="260.70" stroke="#1c1c1c" stroke-width="0.85"/>
<line x1="497.37" y1="257.31" x2="498.01" y2="261.43" stroke="#1c1c1c" stroke-width="0.85"/>
<line x1="495.84" y1="258.05" x2="496.48" y2="262.16" stroke="#1c1c1c" stroke-width="0.85"/>
<polygon points="510.15,250.85 511.31,247.75 514.46,248.79 516.44,252.94 515.28,256.04 512.13,255.00" fill="white" stroke="#1c1c1c" stroke-width="1.22" stroke-linejoin="round" stroke-linecap="round"/>
<polygon points="512.85,249.56 514.01,246.45 511.31,247.75 510.15,250.85" fill="#f2f2f2" stroke="#1c1c1c" stroke-width="1.10" stroke-linejoin="round" stroke-linecap="round"/>
<polygon points="514.01,246.45 517.16,247.49 514.46,248.79 511.31,247.75" fill="#f2f2f2" stroke="#1c1c1c" stroke-width="1.10" stroke-linejoin="round" stroke-linecap="round"/>
<polygon points="517.16,247.49 519.15,251.64 516.44,252.94 514.46,248.79" fill="#f2f2f2" stroke="#1c1c1c" stroke-width="1.10" stroke-linejoin="round" stroke-linecap="round"/>
<polygon points="519.15,251.64 517.99,254.75 515.28,256.04 516.44,252.94" fill="#f2f2f2" stroke="#1c1c1c" stroke-width="1.10" stroke-linejoin="round" stroke-linecap="round"/>
<polygon points="517.99,254.75 514.84,253.71 512.13,255.00 515.28,256.04" fill="#f2f2f2" stroke="#1c1c1c" stroke-width="1.10" stroke-linejoin="round" stroke-linecap="round"/>
<polygon points="514.84,253.71 512.85,249.56 510.15,250.85 512.13,255.00" fill="#f2f2f2" stroke="#1c1c1c" stroke-width="1.10" stroke-linejoin="round" stroke-linecap="round"/>
<polygon points="512.85,249.56 514.01,246.45 517.16,247.49 519.15,251.64 517.99,254.75 514.84,253.71" fill="white" stroke="#1c1c1c" stroke-width="1.22" stroke-linejoin="round" stroke-linecap="round"/>
<line x1="475.60" y1="252.00" x2="475.60" y2="256.00" stroke="#1c1c1c" stroke-width="0.85"/>
<path d="M456.8,257.6 L461.8,253.2 L492.1,261.4 L492.1,267.7 L480.8,273.4 L459.3,267.7 C457,266.6 456.1,265.6 456.1,264.4 L456.1,258.8 Z" fill="white" stroke="#1c1c1c" stroke-width="1.10" stroke-linejoin="round" stroke-linecap="round"/>
<polyline points="456.80,257.60 485.80,265.20 492.10,261.40" fill="none" stroke="#1c1c1c" stroke-width="1.10" stroke-linejoin="round" stroke-linecap="round"/>
<line x1="485.80" y1="265.20" x2="485.60" y2="271.00" stroke="#1c1c1c" stroke-width="1.10"/>
<ellipse cx="475.10" cy="257.60" rx="3.20" ry="1.40" fill="#ccc" stroke="#1c1c1c" stroke-width="1.10" transform="rotate(8.00 475.10 257.60)"/>
<ellipse cx="460.60" cy="262.00" rx="1.30" ry="1.80" fill="#ccc" stroke="#1c1c1c" stroke-width="1.10"/>
<ellipse cx="477.60" cy="268.20" rx="1.30" ry="1.70" fill="#ccc" stroke="#1c1c1c" stroke-width="1.10"/>
<line x1="494.60" y1="260.60" x2="487.00" y2="264.40" stroke="#1c1c1c" stroke-width="0.85" stroke-dasharray="3 1.5"/>
</g>
<g id="sec_mount">
<polyline points="337.90,254.40 326.90,297.10 339.40,301.50" fill="none" stroke="#1c1c1c" stroke-width="0.85" stroke-linejoin="round" stroke-linecap="round" stroke-dasharray="16 2 2 2"/>
<polyline points="352.60,266.20 374.70,314.00 368.00,313.20" fill="none" stroke="#1c1c1c" stroke-width="0.85" stroke-linejoin="round" stroke-linecap="round"/>
<line x1="335.20" y1="202.50" x2="335.20" y2="210.70" stroke="#1c1c1c" stroke-width="0.85" stroke-dasharray="4 1.5"/>
<line x1="333.50" y1="211.80" x2="319.60" y2="219.70" stroke="#1c1c1c" stroke-width="0.85" stroke-dasharray="12 2"/>
<line x1="319.60" y1="219.70" x2="319.60" y2="226.30" stroke="#1c1c1c" stroke-width="0.85"/>
<polygon points="333.50,194.76 330.80,192.80 333.50,190.84 338.90,190.84 341.60,192.80 338.90,194.76" fill="white" stroke="#1c1c1c" stroke-width="1.22" stroke-linejoin="round" stroke-linecap="round"/>
<polygon points="333.50,190.56 330.80,188.60 330.80,192.80 333.50,194.76" fill="#f2f2f2" stroke="#1c1c1c" stroke-width="1.10" stroke-linejoin="round" stroke-linecap="round"/>
<polygon points="330.80,188.60 333.50,186.64 333.50,190.84 330.80,192.80" fill="#f2f2f2" stroke="#1c1c1c" stroke-width="1.10" stroke-linejoin="round" stroke-linecap="round"/>
<polygon points="333.50,186.64 338.90,186.64 338.90,190.84 333.50,190.84" fill="#f2f2f2" stroke="#1c1c1c" stroke-width="1.10" stroke-linejoin="round" stroke-linecap="round"/>
<polygon points="338.90,186.64 341.60,188.60 341.60,192.80 338.90,190.84" fill="#f2f2f2" stroke="#1c1c1c" stroke-width="1.10" stroke-linejoin="round" stroke-linecap="round"/>
<polygon points="341.60,188.60 338.90,190.56 338.90,194.76 341.60,192.80" fill="#f2f2f2" stroke="#1c1c1c" stroke-width="1.10" stroke-linejoin="round" stroke-linecap="round"/>
<polygon points="338.90,190.56 333.50,190.56 333.50,194.76 338.90,194.76" fill="#f2f2f2" stroke="#1c1c1c" stroke-width="1.10" stroke-linejoin="round" stroke-linecap="round"/>
<polygon points="333.50,190.56 330.80,188.60 333.50,186.64 338.90,186.64 341.60,188.60 338.90,190.56" fill="white" stroke="#1c1c1c" stroke-width="1.22" stroke-linejoin="round" stroke-linecap="round"/>
<ellipse cx="336.20" cy="188.60" rx="1.63" ry="3.89" fill="#444" stroke="#1c1c1c" stroke-width="1.22" transform="rotate(90.00 336.20 188.60)"/>
<ellipse cx="336.20" cy="199.60" rx="6.00" ry="2.30" fill="white" stroke="#1c1c1c" stroke-width="1.10"/>
<ellipse cx="336.20" cy="198.40" rx="6.00" ry="2.30" fill="white" stroke="#1c1c1c" stroke-width="1.10"/>
<ellipse cx="336.20" cy="198.40" rx="3.00" ry="1.15" fill="#e4e4e4" stroke="#1c1c1c" stroke-width="1.22"/>
<polygon points="303.20,209.50 303.20,221.50 308.80,221.50 308.80,209.50" fill="white" stroke="#1c1c1c" stroke-width="0.98" stroke-linejoin="round" stroke-linecap="round"/>
<line x1="303.20" y1="210.60" x2="308.80" y2="211.80" stroke="#1c1c1c" stroke-width="0.85"/>
<line x1="303.20" y1="212.30" x2="308.80" y2="213.50" stroke="#1c1c1c" stroke-width="0.85"/>
<line x1="303.20" y1="214.00" x2="308.80" y2="215.20" stroke="#1c1c1c" stroke-width="0.85"/>
<line x1="303.20" y1="215.70" x2="308.80" y2="216.90" stroke="#1c1c1c" stroke-width="0.85"/>
<line x1="303.20" y1="217.40" x2="308.80" y2="218.60" stroke="#1c1c1c" stroke-width="0.85"/>
<line x1="303.20" y1="219.10" x2="308.80" y2="220.30" stroke="#1c1c1c" stroke-width="0.85"/>
<line x1="303.20" y1="220.80" x2="308.80" y2="222.00" stroke="#1c1c1c" stroke-width="0.85"/>
<path d="M300.5,204.6 L300.5,208.4 C301.5,210.6 309.9,210.6 310.9,208.4 L310.9,204.6 Z" fill="white" stroke="#1c1c1c" stroke-width="1.10" stroke-linejoin="round" stroke-linecap="round"/>
<ellipse cx="305.70" cy="204.60" rx="5.20" ry="2.00" fill="white" stroke="#1c1c1c" stroke-width="1.10"/>
<line x1="303.40" y1="206.40" x2="303.40" y2="210.00" stroke="#1c1c1c" stroke-width="0.98"/>
<line x1="308.20" y1="206.40" x2="308.20" y2="210.00" stroke="#1c1c1c" stroke-width="0.98"/>
<path d="M309.7,260.5 C310.5,258 312.5,257.3 315,257.4 L322,258.2 L326,266 L339.3,273.9 L331,272.6 L313.5,266 C311,264.8 309.6,262.6 309.7,260.5 Z" fill="white" stroke="#1c1c1c" stroke-width="1.10" stroke-linejoin="round" stroke-linecap="round"/>
<ellipse cx="319.40" cy="262.00" rx="2.60" ry="1.30" fill="#ccc" stroke="#1c1c1c" stroke-width="1.10" transform="rotate(8.00 319.40 262.00)"/>
<polygon points="317.10,245.60 325.30,265.70 336.00,272.20 346.70,272.20 345.80,245.20" fill="white" stroke="#1c1c1c" stroke-width="1.10" stroke-linejoin="round" stroke-linecap="round"/>
<path d="M331.8,271.5 L331.8,283.5 L335,287 L339.6,286.2 L340.2,281.4 L344.4,280.6 L345,285.6 L347.6,287.2 L347.6,272" fill="white" stroke="#1c1c1c" stroke-width="1.10" stroke-linejoin="round" stroke-linecap="round"/>
<path d="M336.2,279.6 C334.6,279 334.4,276.2 336.4,275.6 C338.6,275 340,276.6 339.6,278.2" fill="none" stroke="#1c1c1c" stroke-width="1.10" stroke-linejoin="round" stroke-linecap="round"/>
<polygon points="348.20,276.50 348.20,289.50 355.60,291.20 358.20,288.60 358.20,277.50" fill="white" stroke="#1c1c1c" stroke-width="1.10" stroke-linejoin="round" stroke-linecap="round"/>
<polygon points="351.20,280.80 356.40,281.40 356.40,288.00 351.20,287.20" fill="white" stroke="#1c1c1c" stroke-width="0.98" stroke-linejoin="round" stroke-linecap="round"/>
<line x1="351.20" y1="287.20" x2="356.40" y2="281.40" stroke="#1c1c1c" stroke-width="0.85"/>
<path d="M296.8,240.4 C296.4,238.8 297.6,237.6 299.5,236.8 L334.3,221.3 C338,220 342,220 344.2,220.5 C349,221.5 352.5,224 354,226.3 C356.5,229.5 358,233 358.1,235.3 L357.3,238.6 L355.7,231.2 L326.1,243.5 L314.6,245.4 L301,244.6 C298.5,244 297.2,242.4 296.8,240.4 Z" fill="white" stroke="#1c1c1c" stroke-width="1.10" stroke-linejoin="round" stroke-linecap="round"/>
<path d="M355.7,231.2 L326.1,243.5" fill="none" stroke="#1c1c1c" stroke-width="1.10" stroke-linejoin="round" stroke-linecap="round"/>
<path d="M326.1,243.5 L346,245.4" fill="none" stroke="#1c1c1c" stroke-width="1.10" stroke-linejoin="round" stroke-linecap="round"/>
<ellipse cx="307.20" cy="239.40" rx="3.00" ry="1.50" fill="#ddd" stroke="#1c1c1c" stroke-width="1.10"/>
<ellipse cx="340.90" cy="224.60" rx="3.00" ry="1.50" fill="#ddd" stroke="#1c1c1c" stroke-width="1.10"/>
<polygon points="370.50,241.00 374.60,243.50 374.60,267.30 371.30,269.80" fill="white" stroke="#1c1c1c" stroke-width="1.10" stroke-linejoin="round" stroke-linecap="round"/>
<polygon points="345.80,245.20 362.20,238.60 372.10,241.90 372.10,269.80 353.20,277.20 346.70,272.20" fill="white" stroke="#1c1c1c" stroke-width="1.10" stroke-linejoin="round" stroke-linecap="round"/>
<polyline points="345.80,245.20 353.20,249.30 372.10,242.50" fill="none" stroke="#1c1c1c" stroke-width="1.10" stroke-linejoin="round" stroke-linecap="round"/>
<line x1="353.20" y1="249.30" x2="353.20" y2="277.20" stroke="#1c1c1c" stroke-width="1.10"/>
<line x1="350.00" y1="243.60" x2="357.40" y2="247.70" stroke="#1c1c1c" stroke-width="0.98"/>
<line x1="352.60" y1="242.50" x2="360.20" y2="246.70" stroke="#1c1c1c" stroke-width="0.98"/>
<line x1="366.40" y1="240.20" x2="366.40" y2="246.40" stroke="#1c1c1c" stroke-width="0.98"/>
<ellipse cx="359.80" cy="261.60" rx="1.60" ry="2.20" fill="#ccc" stroke="#1c1c1c" stroke-width="1.10"/>
<line x1="361.40" y1="261.80" x2="371.00" y2="265.20" stroke="#1c1c1c" stroke-width="0.98"/>
<line x1="352.00" y1="252.00" x2="352.00" y2="274.00" stroke="#1c1c1c" stroke-width="0.73" stroke-dasharray="1.5 1.5"/>
<line x1="370.60" y1="246.00" x2="370.60" y2="268.00" stroke="#1c1c1c" stroke-width="0.73" stroke-dasharray="1.5 1.5"/>
<ellipse cx="339.00" cy="253.50" rx="1.80" ry="2.60" fill="white" stroke="#1c1c1c" stroke-width="0.98" transform="rotate(20.00 339.00 253.50)"/>
<line x1="334.60" y1="252.00" x2="334.60" y2="262.00" stroke="#1c1c1c" stroke-width="0.73" stroke-dasharray="1.5 1.5"/>
<line x1="337.20" y1="250.60" x2="342.00" y2="250.20" stroke="#1c1c1c" stroke-width="0.85"/>
<line x1="337.00" y1="257.00" x2="341.50" y2="255.80" stroke="#1c1c1c" stroke-width="0.85"/>
<ellipse cx="305.90" cy="226.90" rx="5.80" ry="2.30" fill="white" stroke="#1c1c1c" stroke-width="1.10"/>
<ellipse cx="305.90" cy="225.90" rx="5.80" ry="2.30" fill="white" stroke="#1c1c1c" stroke-width="1.10"/>
<ellipse cx="305.90" cy="225.90" rx="2.90" ry="1.15" fill="#e4e4e4" stroke="#1c1c1c" stroke-width="1.22"/>
<ellipse cx="305.10" cy="251.10" rx="5.80" ry="2.30" fill="white" stroke="#1c1c1c" stroke-width="1.10"/>
<ellipse cx="305.10" cy="250.10" rx="5.80" ry="2.30" fill="white" stroke="#1c1c1c" stroke-width="1.10"/>
<ellipse cx="305.10" cy="250.10" rx="2.90" ry="1.15" fill="#e4e4e4" stroke="#1c1c1c" stroke-width="1.22"/>
<polygon points="302.50,265.16 299.80,263.20 302.50,261.24 307.90,261.24 310.60,263.20 307.90,265.16" fill="white" stroke="#1c1c1c" stroke-width="1.22" stroke-linejoin="round" stroke-linecap="round"/>
<polygon points="302.50,260.16 299.80,258.20 299.80,263.20 302.50,265.16" fill="#f2f2f2" stroke="#1c1c1c" stroke-width="1.10" stroke-linejoin="round" stroke-linecap="round"/>
<polygon points="299.80,258.20 302.50,256.24 302.50,261.24 299.80,263.20" fill="#f2f2f2" stroke="#1c1c1c" stroke-width="1.10" stroke-linejoin="round" stroke-linecap="round"/>
<polygon points="302.50,256.24 307.90,256.24 307.90,261.24 302.50,261.24" fill="#f2f2f2" stroke="#1c1c1c" stroke-width="1.10" stroke-linejoin="round" stroke-linecap="round"/>
<polygon points="307.90,256.24 310.60,258.20 310.60,263.20 307.90,261.24" fill="#f2f2f2" stroke="#1c1c1c" stroke-width="1.10" stroke-linejoin="round" stroke-linecap="round"/>
<polygon points="310.60,258.20 307.90,260.16 307.90,265.16 310.60,263.20" fill="#f2f2f2" stroke="#1c1c1c" stroke-width="1.10" stroke-linejoin="round" stroke-linecap="round"/>
<polygon points="307.90,260.16 302.50,260.16 302.50,265.16 307.90,265.16" fill="#f2f2f2" stroke="#1c1c1c" stroke-width="1.10" stroke-linejoin="round" stroke-linecap="round"/>
<polygon points="302.50,260.16 299.80,258.20 302.50,256.24 307.90,256.24 310.60,258.20 307.90,260.16" fill="white" stroke="#1c1c1c" stroke-width="1.22" stroke-linejoin="round" stroke-linecap="round"/>
<ellipse cx="305.20" cy="258.20" rx="1.41" ry="3.35" fill="#fff" stroke="#1c1c1c" stroke-width="1.22" transform="rotate(90.00 305.20 258.20)"/>
<ellipse cx="319.60" cy="276.90" rx="5.60" ry="2.30" fill="white" stroke="#1c1c1c" stroke-width="1.10"/>
<ellipse cx="319.60" cy="275.90" rx="5.60" ry="2.30" fill="white" stroke="#1c1c1c" stroke-width="1.10"/>
<ellipse cx="319.60" cy="275.90" rx="2.80" ry="1.15" fill="#e4e4e4" stroke="#1c1c1c" stroke-width="1.22"/>
<polygon points="317.10,279.60 317.10,288.40 322.10,288.40 322.10,279.60" fill="white" stroke="#1c1c1c" stroke-width="0.98" stroke-linejoin="round" stroke-linecap="round"/>
<line x1="317.10" y1="280.60" x2="322.10" y2="281.80" stroke="#1c1c1c" stroke-width="0.85"/>
<line x1="317.10" y1="282.20" x2="322.10" y2="283.40" stroke="#1c1c1c" stroke-width="0.85"/>
<line x1="317.10" y1="283.80" x2="322.10" y2="285.00" stroke="#1c1c1c" stroke-width="0.85"/>
<line x1="317.10" y1="285.40" x2="322.10" y2="286.60" stroke="#1c1c1c" stroke-width="0.85"/>
<line x1="317.10" y1="287.00" x2="322.10" y2="288.20" stroke="#1c1c1c" stroke-width="0.85"/>
<path d="M314.2,289.4 L314.2,293.2 C315.2,295.6 323.2,295.6 324.2,293.2 L324.2,289.4 Z" fill="white" stroke="#1c1c1c" stroke-width="1.10" stroke-linejoin="round" stroke-linecap="round"/>
<ellipse cx="319.20" cy="289.40" rx="5.00" ry="1.90" fill="white" stroke="#1c1c1c" stroke-width="1.10"/>
<line x1="317.00" y1="291.20" x2="317.00" y2="294.90" stroke="#1c1c1c" stroke-width="0.98"/>
<line x1="321.60" y1="291.20" x2="321.60" y2="294.90" stroke="#1c1c1c" stroke-width="0.98"/>
<polygon points="316.70,279.80 316.70,288.60 321.70,288.60 321.70,279.80" fill="white" stroke="#1c1c1c" stroke-width="0.98" stroke-linejoin="round" stroke-linecap="round"/>
<line x1="316.70" y1="280.80" x2="321.70" y2="282.00" stroke="#1c1c1c" stroke-width="0.85"/>
<line x1="316.70" y1="282.40" x2="321.70" y2="283.60" stroke="#1c1c1c" stroke-width="0.85"/>
<line x1="316.70" y1="284.00" x2="321.70" y2="285.20" stroke="#1c1c1c" stroke-width="0.85"/>
<line x1="316.70" y1="285.60" x2="321.70" y2="286.80" stroke="#1c1c1c" stroke-width="0.85"/>
<line x1="316.70" y1="287.20" x2="321.70" y2="288.40" stroke="#1c1c1c" stroke-width="0.85"/>
<polygon points="376.40,247.40 382.20,245.80 383.60,246.80 383.60,254.80 377.80,256.40 376.40,255.40" fill="white" stroke="#1c1c1c" stroke-width="1.10" stroke-linejoin="round" stroke-linecap="round"/>
<polyline points="377.80,248.40 383.60,246.80" fill="none" stroke="#1c1c1c" stroke-width="0.98" stroke-linejoin="round" stroke-linecap="round"/>
<line x1="377.80" y1="248.40" x2="377.80" y2="256.40" stroke="#1c1c1c" stroke-width="0.98"/>
<ellipse cx="380.60" cy="251.60" rx="1.40" ry="2.00" fill="#ccc" stroke="#1c1c1c" stroke-width="0.98"/>
<line x1="372.40" y1="252.60" x2="376.40" y2="251.80" stroke="#1c1c1c" stroke-width="0.85"/>
<polygon points="413.10,257.00 397.36,252.06 395.86,256.83 411.61,261.77" fill="white" stroke="#1c1c1c" stroke-width="1.10" stroke-linejoin="round" stroke-linecap="round"/>
<polygon points="397.32,252.18 385.87,248.59 384.45,253.13 395.90,256.72" fill="white" stroke="#1c1c1c" stroke-width="0.98" stroke-linejoin="round" stroke-linecap="round"/>
<line x1="396.27" y1="251.85" x2="393.71" y2="256.03" stroke="#1c1c1c" stroke-width="0.85"/>
<line x1="394.65" y1="251.35" x2="392.08" y2="255.52" stroke="#1c1c1c" stroke-width="0.85"/>
<line x1="393.03" y1="250.84" x2="390.46" y2="255.01" stroke="#1c1c1c" stroke-width="0.85"/>
<line x1="391.40" y1="250.33" x2="388.84" y2="254.50" stroke="#1c1c1c" stroke-width="0.85"/>
<line x1="389.78" y1="249.82" x2="387.22" y2="253.99" stroke="#1c1c1c" stroke-width="0.85"/>
<line x1="388.16" y1="249.31" x2="385.59" y2="253.49" stroke="#1c1c1c" stroke-width="0.85"/>
<line x1="386.54" y1="248.80" x2="383.97" y2="252.98" stroke="#1c1c1c" stroke-width="0.85"/>
<polygon points="410.32,255.81 414.03,254.04 416.06,257.61 414.39,262.95 410.68,264.73 408.65,261.16" fill="white" stroke="#1c1c1c" stroke-width="1.22" stroke-linejoin="round" stroke-linecap="round"/>
<polygon points="413.57,256.83 417.27,255.06 414.03,254.04 410.32,255.81" fill="#f2f2f2" stroke="#1c1c1c" stroke-width="1.10" stroke-linejoin="round" stroke-linecap="round"/>
<polygon points="417.27,255.06 419.31,258.63 416.06,257.61 414.03,254.04" fill="#f2f2f2" stroke="#1c1c1c" stroke-width="1.10" stroke-linejoin="round" stroke-linecap="round"/>
<polygon points="419.31,258.63 417.63,263.97 414.39,262.95 416.06,257.61" fill="#f2f2f2" stroke="#1c1c1c" stroke-width="1.10" stroke-linejoin="round" stroke-linecap="round"/>
<polygon points="417.63,263.97 413.93,265.74 410.68,264.73 414.39,262.95" fill="#f2f2f2" stroke="#1c1c1c" stroke-width="1.10" stroke-linejoin="round" stroke-linecap="round"/>
<polygon points="413.93,265.74 411.89,262.17 408.65,261.16 410.68,264.73" fill="#f2f2f2" stroke="#1c1c1c" stroke-width="1.10" stroke-linejoin="round" stroke-linecap="round"/>
<polygon points="411.89,262.17 413.57,256.83 410.32,255.81 408.65,261.16" fill="#f2f2f2" stroke="#1c1c1c" stroke-width="1.10" stroke-linejoin="round" stroke-linecap="round"/>
<polygon points="413.57,256.83 417.27,255.06 419.31,258.63 417.63,263.97 413.93,265.74 411.89,262.17" fill="white" stroke="#1c1c1c" stroke-width="1.22" stroke-linejoin="round" stroke-linecap="round"/>
<polygon points="396.00,323.24 393.20,321.20 396.00,319.16 401.60,319.16 404.40,321.20 401.60,323.24" fill="white" stroke="#1c1c1c" stroke-width="1.22" stroke-linejoin="round" stroke-linecap="round"/>
<polygon points="396.00,318.04 393.20,316.00 393.20,321.20 396.00,323.24" fill="#f2f2f2" stroke="#1c1c1c" stroke-width="1.10" stroke-linejoin="round" stroke-linecap="round"/>
<polygon points="393.20,316.00 396.00,313.96 396.00,319.16 393.20,321.20" fill="#f2f2f2" stroke="#1c1c1c" stroke-width="1.10" stroke-linejoin="round" stroke-linecap="round"/>
<polygon points="396.00,313.96 401.60,313.96 401.60,319.16 396.00,319.16" fill="#f2f2f2" stroke="#1c1c1c" stroke-width="1.10" stroke-linejoin="round" stroke-linecap="round"/>
<polygon points="401.60,313.96 404.40,316.00 404.40,321.20 401.60,319.16" fill="#f2f2f2" stroke="#1c1c1c" stroke-width="1.10" stroke-linejoin="round" stroke-linecap="round"/>
<polygon points="404.40,316.00 401.60,318.04 401.60,323.24 404.40,321.20" fill="#f2f2f2" stroke="#1c1c1c" stroke-width="1.10" stroke-linejoin="round" stroke-linecap="round"/>
<polygon points="401.60,318.04 396.00,318.04 396.00,323.24 401.60,323.24" fill="#f2f2f2" stroke="#1c1c1c" stroke-width="1.10" stroke-linejoin="round" stroke-linecap="round"/>
<polygon points="396.00,318.04 393.20,316.00 396.00,313.96 401.60,313.96 404.40,316.00 401.60,318.04" fill="white" stroke="#1c1c1c" stroke-width="1.22" stroke-linejoin="round" stroke-linecap="round"/>
<ellipse cx="398.80" cy="316.00" rx="1.41" ry="3.36" fill="#fff" stroke="#1c1c1c" stroke-width="1.22" transform="rotate(90.00 398.80 316.00)"/>
<line x1="399.00" y1="323.80" x2="399.00" y2="335.30" stroke="#1c1c1c" stroke-width="0.85" stroke-dasharray="5 2"/>
</g>
<g id="sec_upright">
<path d="M409.86,278.78 C410.93,277.66 414.27,275.84 417.87,276.27 C421.47,276.69 437.67,281.03 440.74,282.44 C443.80,283.86 444.01,286.79 444.17,288.39 C444.33,289.99 442.19,294.13 442.11,296.16 C442.03,298.19 442.89,304.43 443.48,305.77 C444.07,307.10 445.99,307.78 447.14,307.60 C448.29,307.41 451.87,304.22 453.31,304.17 C454.75,304.11 458.55,306.07 459.49,307.14 C460.42,308.21 461.42,311.79 461.32,313.31 C461.21,314.83 458.73,318.17 458.57,320.17 C458.41,322.17 459.36,327.66 459.94,330.46 C460.53,333.26 462.59,341.57 463.60,344.18 C464.62,346.80 467.62,351.41 468.63,352.87 C469.65,354.34 471.76,355.64 472.29,356.76 C472.83,357.88 473.63,361.33 473.21,362.48 C472.78,363.62 468.55,366.06 468.63,366.59 C468.71,367.13 472.21,366.73 473.89,367.05 C475.57,367.37 481.36,368.48 483.04,369.34 C484.72,370.19 487.77,372.87 488.30,374.37 C488.83,375.86 488.63,380.54 487.61,382.14 C486.60,383.74 481.82,387.66 479.61,388.09 C477.40,388.52 470.42,386.71 468.63,385.80 C466.85,384.90 465.62,381.65 464.29,380.31 C462.95,378.98 458.69,375.73 457.20,374.37 C455.71,373.01 453.80,369.59 451.48,368.65 C449.16,367.72 439.63,366.61 437.31,366.37 C434.98,366.13 433.32,366.46 431.59,366.59 C429.85,366.73 424.84,367.46 422.44,367.51 C420.04,367.56 413.14,367.64 411.01,367.05 C408.87,366.46 405.08,363.81 404.15,362.48 C403.21,361.14 402.87,356.95 403.00,355.62 C403.14,354.28 405.02,353.18 405.29,351.04 C405.56,348.91 404.89,340.52 405.29,337.32 C405.69,334.12 407.65,326.27 408.72,323.60 C409.79,320.93 413.37,317.39 414.44,314.46 C415.50,311.52 417.87,301.38 417.87,298.45 C417.87,295.51 415.50,290.77 414.44,289.30 C413.37,287.83 409.25,287.10 408.72,285.87 C408.19,284.64 408.80,279.90 409.86,278.78Z" fill="white" stroke="#1c1c1c" stroke-width="1.22" stroke-linejoin="round" stroke-linecap="round"/>
<path d="M412.84,281.98 C413.51,281.68 414.45,279.27 417.87,279.70 C421.28,280.12 435.46,283.90 438.45,285.19 C441.44,286.47 440.03,288.75 440.28,289.30" fill="none" stroke="#1c1c1c" stroke-width="0.98" stroke-linejoin="round" stroke-linecap="round"/>
<ellipse cx="412.15" cy="283.58" rx="1.60" ry="2.40" fill="#ddd" stroke="#1c1c1c" stroke-width="1.10" transform="rotate(-15.00 412.15 283.58)"/>
<ellipse cx="432.73" cy="287.70" rx="1.60" ry="2.40" fill="#bbb" stroke="#1c1c1c" stroke-width="1.10" transform="rotate(-15.00 432.73 287.70)"/>
<path d="M417.87,298.45 C418.93,299.67 424.04,305.77 425.87,307.60 C427.70,309.42 429.42,312.32 431.59,312.17 C433.75,312.02 440.70,307.21 442.11,306.45" fill="none" stroke="#1c1c1c" stroke-width="0.98" stroke-linejoin="round" stroke-linecap="round"/>
<path d="M420.15,289.30 C420.61,290.83 422.36,298.30 423.58,300.74 C424.80,303.17 428.54,306.68 429.30,307.60" fill="none" stroke="#1c1c1c" stroke-width="0.98" stroke-linejoin="round" stroke-linecap="round"/>
<path d="M429.30,291.59 C429.61,292.81 430.52,298.75 431.59,300.74 C432.66,302.72 436.54,305.69 437.31,306.45" fill="none" stroke="#1c1c1c" stroke-width="0.85" stroke-linejoin="round" stroke-linecap="round"/>
<path d="M424.73,297.31 C425.22,297.11 427.01,295.78 427.70,296.16 C428.39,296.54 428.65,299.02 428.84,299.59" fill="none" stroke="#1c1c1c" stroke-width="0.85" stroke-linejoin="round" stroke-linecap="round"/>
<path d="M424.27,301.88 C424.73,302.26 426.33,304.05 427.01,304.17 C427.70,304.28 428.16,302.83 428.39,302.56" fill="none" stroke="#1c1c1c" stroke-width="0.85" stroke-linejoin="round" stroke-linecap="round"/>
<ellipse cx="423.10" cy="342.60" rx="18.00" ry="26.60" fill="white" stroke="#1c1c1c" stroke-width="1.34" transform="rotate(-2.70 423.10 342.60)"/>
<path d="M411.55,355.41 L410.22,351.98 L409.26,348.30 L408.70,344.46 L408.55,340.58 L408.83,336.75 L409.51,333.08 L410.58,329.66 L412.02,326.58 L413.79,323.94 L415.83,321.79 L418.09,320.20 L420.52,319.20 L423.05,318.84 L425.61,319.10 L428.13,320.00 L430.54,321.49" fill="none" stroke="#1c1c1c" stroke-width="0.85" stroke-linejoin="round" stroke-linecap="round"/>
<ellipse cx="425.00" cy="342.70" rx="12.40" ry="20.40" fill="white" stroke="#1c1c1c" stroke-width="1.34" transform="rotate(-6.00 425.00 342.70)"/>
<path d="M428.41,360.73 L426.85,359.23 L425.41,357.33 L424.12,355.08 L423.01,352.53 L422.11,349.75 L421.44,346.80 L421.02,343.76 L420.86,340.70 L420.96,337.69 L421.32,334.82 L421.93,332.15 L422.77,329.74 L423.83,327.66 L425.08,325.96 L426.49,324.68 L428.02,323.85" fill="none" stroke="#1c1c1c" stroke-width="1.10" stroke-linejoin="round" stroke-linecap="round"/>
<ellipse cx="423.81" cy="315.83" rx="1.50" ry="1.80" fill="white" stroke="#1c1c1c" stroke-width="0.98"/>
<ellipse cx="408.26" cy="346.93" rx="1.70" ry="2.10" fill="white" stroke="#1c1c1c" stroke-width="0.98"/>
<ellipse cx="441.65" cy="359.50" rx="1.70" ry="2.10" fill="white" stroke="#1c1c1c" stroke-width="0.98"/>
<path d="M433.42,322.46 C434.56,324.56 438.60,330.27 440.28,335.04 C441.95,339.80 442.95,346.55 443.48,351.04 C444.01,355.54 443.48,360.19 443.48,362.02" fill="none" stroke="#1c1c1c" stroke-width="0.85" stroke-linejoin="round" stroke-linecap="round" stroke-dasharray="1.2 1.2"/>
<path d="M405.29,351.04 C404.91,351.81 403.27,353.79 403.00,355.62 C402.74,357.45 402.36,360.11 403.69,362.02 C405.02,363.93 409.79,366.21 411.01,367.05" fill="none" stroke="#1c1c1c" stroke-width="1.10" stroke-linejoin="round" stroke-linecap="round"/>
<path d="M405.98,355.62 C406.81,356.46 409.03,359.20 411.01,360.65 C412.99,362.10 416.72,363.70 417.87,364.31" fill="none" stroke="#1c1c1c" stroke-width="0.98" stroke-linejoin="round" stroke-linecap="round"/>
<line x1="406.43" y1="359.05" x2="408.26" y2="360.65" stroke="#1c1c1c" stroke-width="0.85"/>
<path d="M447.60,314.91 C447.05,316.22 444.55,320.93 443.94,323.60 C443.32,326.28 442.93,328.98 443.48,332.75 C444.03,336.52 445.88,344.30 447.60,348.76 C449.31,353.22 452.86,360.01 454.91,362.48 C456.97,364.95 460.36,364.81 461.32,365.22" fill="none" stroke="#1c1c1c" stroke-width="1.10" stroke-linejoin="round" stroke-linecap="round"/>
<path d="M451.25,320.17 C451.80,320.69 454.09,322.06 454.91,323.60 C455.74,325.15 455.99,327.72 456.74,330.46 C457.50,333.21 458.91,338.98 459.94,341.90 C460.97,344.81 463.05,348.70 463.60,349.90" fill="none" stroke="#1c1c1c" stroke-width="0.85" stroke-linejoin="round" stroke-linecap="round"/>
<polygon points="443.02,327.03 446.45,325.89 455.60,343.04 452.17,345.33" fill="white" stroke="#1c1c1c" stroke-width="1.10" stroke-linejoin="round" stroke-linecap="round"/>
<polyline points="444.39,328.63 452.63,344.18" fill="none" stroke="#1c1c1c" stroke-width="0.85" stroke-linejoin="round" stroke-linecap="round"/>
<polyline points="445.77,346.47 448.97,352.42 454.91,349.67" fill="none" stroke="#1c1c1c" stroke-width="0.85" stroke-linejoin="round" stroke-linecap="round"/>
<ellipse cx="453.31" cy="311.03" rx="5.60" ry="6.60" fill="white" stroke="#1c1c1c" stroke-width="1.22" transform="rotate(-25.00 453.31 311.03)"/>
<ellipse cx="453.54" cy="311.25" rx="2.60" ry="3.40" fill="#ddd" stroke="#1c1c1c" stroke-width="1.22" transform="rotate(-25.00 453.54 311.25)"/>
<ellipse cx="453.77" cy="311.48" rx="1.40" ry="2.00" fill="white" stroke="#1c1c1c" stroke-width="0.98" transform="rotate(-25.00 453.77 311.48)"/>
<ellipse cx="465.89" cy="359.05" rx="5.60" ry="6.60" fill="white" stroke="#1c1c1c" stroke-width="1.22" transform="rotate(-25.00 465.89 359.05)"/>
<ellipse cx="466.12" cy="359.28" rx="2.60" ry="3.40" fill="#ddd" stroke="#1c1c1c" stroke-width="1.22" transform="rotate(-25.00 466.12 359.28)"/>
<ellipse cx="466.35" cy="359.50" rx="1.40" ry="2.00" fill="white" stroke="#1c1c1c" stroke-width="0.98" transform="rotate(-25.00 466.35 359.50)"/>
<path d="M464.80,371.80 C465.12,370.60 467.30,369.08 469.50,368.40 C471.70,367.72 475.47,367.33 478.00,367.70 C480.53,368.07 483.23,369.48 484.70,370.60 C486.17,371.72 487.28,373.33 486.80,374.40 C486.32,375.47 483.90,376.40 481.80,377.00 C479.70,377.60 476.57,378.23 474.20,378.00 C471.83,377.77 469.17,376.63 467.60,375.60 C466.03,374.57 464.48,373.00 464.80,371.80Z" fill="white" stroke="#1c1c1c" stroke-width="1.10" stroke-linejoin="round" stroke-linecap="round"/>
<ellipse cx="476.10" cy="372.60" rx="2.90" ry="1.50" fill="white" stroke="#1c1c1c" stroke-width="1.10"/>
<line x1="476.10" y1="371.20" x2="476.10" y2="374.20" stroke="#1c1c1c" stroke-width="0.85"/>
<line x1="474.60" y1="372.80" x2="477.80" y2="372.40" stroke="#1c1c1c" stroke-width="0.85"/>
<line x1="473.40" y1="379.80" x2="474.40" y2="384.40" stroke="#1c1c1c" stroke-width="0.85"/>
<line x1="476.60" y1="380.20" x2="476.40" y2="385.00" stroke="#1c1c1c" stroke-width="0.85"/>
<line x1="479.60" y1="379.60" x2="478.40" y2="384.20" stroke="#1c1c1c" stroke-width="0.85"/>
<path d="M472.29,353.79 C473.89,353.71 479.69,352.64 481.90,353.33 C484.11,354.02 485.17,356.38 485.56,357.90 C485.94,359.43 486.13,361.49 484.18,362.48 C482.24,363.47 475.61,363.62 473.89,363.85" fill="white" stroke="#1c1c1c" stroke-width="1.10" stroke-linejoin="round" stroke-linecap="round"/>
<path d="M475.04,356.76 C475.65,355.77 478.01,355.35 479.15,355.62 C480.30,355.88 481.74,357.37 481.90,358.36 C482.05,359.35 481.13,361.03 480.07,361.56 C479.00,362.10 476.33,362.36 475.49,361.56 C474.66,360.76 474.43,357.75 475.04,356.76Z" fill="white" stroke="#1c1c1c" stroke-width="0.98" stroke-linejoin="round" stroke-linecap="round"/>
<ellipse cx="476.18" cy="346.93" rx="7.00" ry="3.60" fill="white" stroke="#1c1c1c" stroke-width="1.10" transform="rotate(8.00 476.18 346.93)"/>
<ellipse cx="476.18" cy="346.01" rx="7.00" ry="3.60" fill="white" stroke="#1c1c1c" stroke-width="1.10" transform="rotate(8.00 476.18 346.01)"/>
<polygon points="475.68,348.03 471.48,346.41 471.70,343.92 476.12,343.05 480.32,344.67 480.11,347.16" fill="white" stroke="#1c1c1c" stroke-width="1.22" stroke-linejoin="round" stroke-linecap="round"/>
<polygon points="475.96,344.84 471.76,343.22 471.48,346.41 475.68,348.03" fill="#f2f2f2" stroke="#1c1c1c" stroke-width="1.10" stroke-linejoin="round" stroke-linecap="round"/>
<polygon points="471.76,343.22 471.98,340.73 471.70,343.92 471.48,346.41" fill="#f2f2f2" stroke="#1c1c1c" stroke-width="1.10" stroke-linejoin="round" stroke-linecap="round"/>
<polygon points="471.98,340.73 476.40,339.86 476.12,343.05 471.70,343.92" fill="#f2f2f2" stroke="#1c1c1c" stroke-width="1.10" stroke-linejoin="round" stroke-linecap="round"/>
<polygon points="476.40,339.86 480.60,341.49 480.32,344.67 476.12,343.05" fill="#f2f2f2" stroke="#1c1c1c" stroke-width="1.10" stroke-linejoin="round" stroke-linecap="round"/>
<polygon points="480.60,341.49 480.38,343.98 480.11,347.16 480.32,344.67" fill="#f2f2f2" stroke="#1c1c1c" stroke-width="1.10" stroke-linejoin="round" stroke-linecap="round"/>
<polygon points="480.38,343.98 475.96,344.84 475.68,348.03 480.11,347.16" fill="#f2f2f2" stroke="#1c1c1c" stroke-width="1.10" stroke-linejoin="round" stroke-linecap="round"/>
<polygon points="475.96,344.84 471.76,343.22 471.98,340.73 476.40,339.86 480.60,341.49 480.38,343.98" fill="white" stroke="#1c1c1c" stroke-width="1.22" stroke-linejoin="round" stroke-linecap="round"/>
<ellipse cx="476.18" cy="342.35" rx="1.38" ry="2.75" fill="#666" stroke="#1c1c1c" stroke-width="1.22" transform="rotate(95.00 476.18 342.35)"/>
<polygon points="472.24,287.25 469.44,285.21 472.24,283.17 477.84,283.17 480.64,285.21 477.84,287.25" fill="white" stroke="#1c1c1c" stroke-width="1.22" stroke-linejoin="round" stroke-linecap="round"/>
<polygon points="472.24,282.65 469.44,280.61 469.44,285.21 472.24,287.25" fill="#f2f2f2" stroke="#1c1c1c" stroke-width="1.10" stroke-linejoin="round" stroke-linecap="round"/>
<polygon points="469.44,280.61 472.24,278.57 472.24,283.17 469.44,285.21" fill="#f2f2f2" stroke="#1c1c1c" stroke-width="1.10" stroke-linejoin="round" stroke-linecap="round"/>
<polygon points="472.24,278.57 477.84,278.57 477.84,283.17 472.24,283.17" fill="#f2f2f2" stroke="#1c1c1c" stroke-width="1.10" stroke-linejoin="round" stroke-linecap="round"/>
<polygon points="477.84,278.57 480.64,280.61 480.64,285.21 477.84,283.17" fill="#f2f2f2" stroke="#1c1c1c" stroke-width="1.10" stroke-linejoin="round" stroke-linecap="round"/>
<polygon points="480.64,280.61 477.84,282.65 477.84,287.25 480.64,285.21" fill="#f2f2f2" stroke="#1c1c1c" stroke-width="1.10" stroke-linejoin="round" stroke-linecap="round"/>
<polygon points="477.84,282.65 472.24,282.65 472.24,287.25 477.84,287.25" fill="#f2f2f2" stroke="#1c1c1c" stroke-width="1.10" stroke-linejoin="round" stroke-linecap="round"/>
<polygon points="472.24,282.65 469.44,280.61 472.24,278.57 477.84,278.57 480.64,280.61 477.84,282.65" fill="white" stroke="#1c1c1c" stroke-width="1.22" stroke-linejoin="round" stroke-linecap="round"/>
<ellipse cx="475.04" cy="280.61" rx="1.41" ry="3.36" fill="#666" stroke="#1c1c1c" stroke-width="1.22" transform="rotate(90.00 475.04 280.61)"/>
<line x1="475.04" y1="288.84" x2="475.04" y2="291.59" stroke="#1c1c1c" stroke-width="0.85"/>
<polygon points="503.95,328.31 497.18,331.54 499.08,335.51 505.85,332.29" fill="white" stroke="#1c1c1c" stroke-width="1.10" stroke-linejoin="round" stroke-linecap="round"/>
<polygon points="497.23,331.64 486.85,336.59 488.65,340.37 499.03,335.41" fill="white" stroke="#1c1c1c" stroke-width="0.98" stroke-linejoin="round" stroke-linecap="round"/>
<line x1="496.33" y1="332.07" x2="497.05" y2="336.36" stroke="#1c1c1c" stroke-width="0.85"/>
<line x1="494.89" y1="332.76" x2="495.60" y2="337.05" stroke="#1c1c1c" stroke-width="0.85"/>
<line x1="493.44" y1="333.45" x2="494.16" y2="337.74" stroke="#1c1c1c" stroke-width="0.85"/>
<line x1="492.00" y1="334.14" x2="492.71" y2="338.43" stroke="#1c1c1c" stroke-width="0.85"/>
<line x1="490.55" y1="334.83" x2="491.27" y2="339.12" stroke="#1c1c1c" stroke-width="0.85"/>
<line x1="489.11" y1="335.52" x2="489.83" y2="339.81" stroke="#1c1c1c" stroke-width="0.85"/>
<line x1="487.66" y1="336.21" x2="488.38" y2="340.49" stroke="#1c1c1c" stroke-width="0.85"/>
<ellipse cx="504.90" cy="330.30" rx="3.10" ry="6.20" fill="white" stroke="#1c1c1c" stroke-width="1.10" transform="rotate(154.50 504.90 330.30)"/>
<polygon points="508.73,321.60 502.23,324.70 507.57,335.90 514.07,332.80" fill="white" stroke="none" stroke-width="0.00" stroke-linejoin="round" stroke-linecap="round"/>
<line x1="508.73" y1="321.60" x2="502.23" y2="324.70" stroke="#1c1c1c" stroke-width="1.10"/>
<line x1="514.07" y1="332.80" x2="507.57" y2="335.90" stroke="#1c1c1c" stroke-width="1.10"/>
<ellipse cx="511.40" cy="327.20" rx="3.10" ry="6.20" fill="white" stroke="#1c1c1c" stroke-width="1.10" transform="rotate(154.50 511.40 327.20)"/>
<line x1="487.60" y1="338.60" x2="483.50" y2="340.60" stroke="#1c1c1c" stroke-width="0.85"/>
<line x1="330.00" y1="384.30" x2="429.40" y2="336.90" stroke="#1c1c1c" stroke-width="0.98" stroke-dasharray="40 3 3 3"/>
<polygon points="416.40,267.70 417.60,266.40 452.30,278.40 458.00,277.10 461.20,281.60 463.70,292.90 462.40,299.90 456.80,301.10 456.10,291.70 452.30,289.10 452.30,280.90 417.00,272.70" fill="white" stroke="#1c1c1c" stroke-width="1.10" stroke-linejoin="round" stroke-linecap="round"/>
<line x1="417.60" y1="268.40" x2="452.30" y2="280.40" stroke="#1c1c1c" stroke-width="0.85"/>
<ellipse cx="421.40" cy="271.60" rx="1.30" ry="1.10" fill="#ccc" stroke="#1c1c1c" stroke-width="0.85"/>
<ellipse cx="427.10" cy="273.60" rx="1.30" ry="1.10" fill="#ccc" stroke="#1c1c1c" stroke-width="0.85"/>
<ellipse cx="446.70" cy="282.40" rx="1.30" ry="1.60" fill="#ddd" stroke="#1c1c1c" stroke-width="0.98"/>
<ellipse cx="459.90" cy="296.70" rx="1.30" ry="1.60" fill="#ccc" stroke="#1c1c1c" stroke-width="0.98"/>
<polygon points="441.60,265.80 444.80,264.90 467.50,273.40 466.20,275.30 460.60,274.00 460.60,276.50 442.90,270.20" fill="white" stroke="#1c1c1c" stroke-width="1.10" stroke-linejoin="round" stroke-linecap="round"/>
<line x1="444.00" y1="267.60" x2="465.00" y2="275.20" stroke="#1c1c1c" stroke-width="0.73"/>
<rect x="449.2" y="270.9" width="9" height="3" rx="1.5" fill="#eee" stroke="#1c1c1c" stroke-width="0.9" transform="rotate(20 453.6 272.4)"/>
<ellipse cx="445.40" cy="268.70" rx="1.40" ry="1.50" fill="#ddd" stroke="#1c1c1c" stroke-width="0.98"/>
</g>
<g id="sec_disc">
<clipPath id="cdisc"><rect x="100" y="350" width="200" height="158.4"/></clipPath>
<g clip-path="url(#cdisc)">
<ellipse cx="201.80" cy="447.10" rx="44.50" ry="82.50" fill="white" stroke="#1c1c1c" stroke-width="1.22" transform="rotate(-21.80 201.80 447.10)"/>
<path d="M166.18,372.19 L169.17,371.02 L172.30,370.21 L175.54,369.77 L178.89,369.70 L182.33,370.00 L185.84,370.68 L189.41,371.72 L193.02,373.12 L196.64,374.88 L200.28,376.98 L203.89,379.42 L207.48,382.19 L211.03,385.26 L214.51,388.64 L217.90,392.30 L221.21,396.22 L224.40,400.39 L227.46,404.78 L230.38,409.38 L233.14,414.16 L235.74,419.10 L238.16,424.18 L240.38,429.37 L242.40,434.65 L244.20,439.99 L245.79,445.37 L247.14,450.76 L248.26,456.14 L249.14,461.47 L249.78,466.75 L250.17,471.93 L250.30,477.00 L250.19,481.94 L249.83,486.71 L249.22,491.29 L248.36,495.67 L247.26,499.82 L245.93,503.73 L244.37,507.37 L242.58,510.73" fill="none" stroke="#1c1c1c" stroke-width="0.98" stroke-linejoin="round" stroke-linecap="round"/>
<path d="M165.82,372.04 L168.87,371.05 L172.03,370.42 L175.30,370.13 L178.67,370.20 L182.10,370.62 L185.60,371.40 L189.14,372.52 L192.71,373.98 L196.30,375.78 L199.88,377.90 L203.43,380.34 L206.96,383.09 L210.43,386.13 L213.83,389.46 L217.15,393.05 L220.37,396.89 L223.48,400.96 L226.46,405.24 L229.30,409.72 L231.99,414.37 L234.51,419.18 L236.86,424.12 L239.02,429.16 L240.98,434.30 L242.74,439.49 L244.28,444.73 L245.60,449.98 L246.70,455.22 L247.56,460.44 L248.19,465.60 L248.58,470.68 L248.73,475.66 L248.64,480.51 L248.31,485.22 L247.74,489.77 L246.94,494.12 L245.90,498.27 L244.63,502.20 L243.15,505.88 L241.44,509.30" fill="none" stroke="#1c1c1c" stroke-width="0.85" stroke-linejoin="round" stroke-linecap="round" stroke-dasharray="5 4"/>
<ellipse cx="188.10" cy="449.10" rx="50.70" ry="80.70" fill="white" stroke="#1c1c1c" stroke-width="1.34" transform="rotate(-21.30 188.10 449.10)"/>
<path d="M173.22,410.23 L176.58,408.99 L180.07,408.31 L183.65,408.20 L187.26,408.65 L190.87,409.67 L194.41,411.24 L197.85,413.33 L201.13,415.92 L204.21,418.97 L207.05,422.45 L209.61,426.30 L211.86,430.48 L213.76,434.92 L215.30,439.57 L216.44,444.36 L217.17,449.23 L217.49,454.12 L217.39,458.95 L216.87,463.66 L215.94,468.19 L214.61,472.48 L212.90,476.47 L210.83,480.10 L208.43,483.33 L205.73,486.10 L202.77,488.40 L199.58,490.17 L196.22,491.41 L192.73,492.09 L189.15,492.20" fill="white" stroke="#1c1c1c" stroke-width="1.22" stroke-linejoin="round" stroke-linecap="round"/>
<ellipse cx="181.90" cy="450.90" rx="27.30" ry="41.50" fill="white" stroke="#1c1c1c" stroke-width="1.22" transform="rotate(-11.40 181.90 450.90)"/>
<path d="M192.20,424.61 L193.63,426.36 L194.99,428.24 L196.27,430.24 L197.47,432.36 L198.58,434.58 L199.59,436.88 L200.49,439.27 L201.29,441.72 L201.98,444.22 L202.56,446.75 L203.01,449.31 L203.34,451.88 L203.56,454.45 L203.64,457.00 L203.61,459.52 L203.44,461.99 L203.16,464.41 L202.75,466.75 L202.23,469.01 L201.59,471.18" fill="none" stroke="#1c1c1c" stroke-width="0.85" stroke-linejoin="round" stroke-linecap="round"/>
<ellipse cx="178.80" cy="455.20" rx="8.80" ry="13.60" fill="white" stroke="#1c1c1c" stroke-width="1.22" transform="rotate(8.00 178.80 455.20)"/>
<path d="M175.71,468.67 L174.04,468.17 L172.52,467.17 L171.18,465.72 L170.10,463.86 L169.30,461.66 L168.82,459.22 L168.68,456.63 L168.89,453.98 L169.42,451.37 L170.27,448.91 L171.41,446.70 L172.78,444.81 L174.33,443.32 L176.01,442.29 L177.76,441.75 L179.49,441.73" fill="none" stroke="#1c1c1c" stroke-width="0.98" stroke-linejoin="round" stroke-linecap="round"/>
<ellipse cx="167.50" cy="428.61" rx="1.50" ry="2.60" fill="#ddd" stroke="#1c1c1c" stroke-width="1.10" transform="rotate(10.00 167.50 428.61)"/>
<ellipse cx="196.11" cy="447.22" rx="1.50" ry="2.60" fill="#ddd" stroke="#1c1c1c" stroke-width="1.10" transform="rotate(10.00 196.11 447.22)"/>
<ellipse cx="199.44" cy="468.89" rx="1.50" ry="2.60" fill="#ddd" stroke="#1c1c1c" stroke-width="1.10" transform="rotate(10.00 199.44 468.89)"/>
<ellipse cx="191.94" cy="481.11" rx="1.50" ry="2.60" fill="#ddd" stroke="#1c1c1c" stroke-width="1.10" transform="rotate(10.00 191.94 481.11)"/>
</g>
<line x1="143.75" y1="438.75" x2="167.00" y2="430.00" stroke="#1c1c1c" stroke-width="0.85"/>
<line x1="228.00" y1="403.50" x2="262.00" y2="387.50" stroke="#1c1c1c" stroke-width="0.85" stroke-dasharray="22 3 3 3"/>
<line x1="242.40" y1="424.70" x2="266.60" y2="415.10" stroke="#1c1c1c" stroke-width="0.85"/>
<line x1="247.50" y1="443.50" x2="290.30" y2="423.00" stroke="#1c1c1c" stroke-width="0.85" stroke-dasharray="26 3 3 3"/>
<line x1="312.90" y1="391.60" x2="335.00" y2="382.00" stroke="#1c1c1c" stroke-width="0.85"/>
<path d="M295.29,379.12 C297.01,380.10 302.65,382.06 305.59,385.00 C308.53,387.94 311.35,392.84 312.94,396.76 C314.53,400.69 315.15,404.85 315.15,408.53 C315.15,412.21 314.04,415.88 312.94,418.82 C311.84,421.76 309.26,424.95 308.53,426.18" fill="white" stroke="#1c1c1c" stroke-width="1.10" stroke-linejoin="round" stroke-linecap="round"/>
<path d="M299.71,387.94 C300.93,389.41 305.34,393.33 307.06,396.76 C308.77,400.20 309.75,404.85 310.00,408.53 C310.25,412.21 308.77,417.11 308.53,418.82" fill="none" stroke="#1c1c1c" stroke-width="0.85" stroke-linejoin="round" stroke-linecap="round"/>
<path d="M301.91,392.35 C302.52,393.82 304.73,397.99 305.59,401.18 C306.45,404.36 307.11,408.04 307.06,411.47 C307.01,414.90 305.59,420.05 305.29,421.76" fill="none" stroke="#1c1c1c" stroke-width="0.85" stroke-linejoin="round" stroke-linecap="round"/>
<polygon points="279.12,376.18 286.47,371.03 293.82,373.97 311.76,425.00 308.53,429.12 304.12,428.38 285.00,380.59" fill="white" stroke="#1c1c1c" stroke-width="1.10" stroke-linejoin="round" stroke-linecap="round"/>
<polyline points="286.47,371.03 288.68,376.18 307.79,428.53" fill="none" stroke="#1c1c1c" stroke-width="0.98" stroke-linejoin="round" stroke-linecap="round"/>
<polyline points="279.12,376.18 285.00,378.38 288.68,376.18" fill="none" stroke="#1c1c1c" stroke-width="0.98" stroke-linejoin="round" stroke-linecap="round"/>
<ellipse cx="284.26" cy="378.38" rx="1.60" ry="1.20" fill="#ddd" stroke="#1c1c1c" stroke-width="0.98"/>
<ellipse cx="303.82" cy="426.91" rx="1.20" ry="1.80" fill="#ddd" stroke="#1c1c1c" stroke-width="0.98"/>
<path d="M268.82,375.44 C270.54,375.81 276.42,376.67 279.12,377.65 C281.81,378.63 282.55,378.87 285.00,381.32 C287.45,383.77 291.37,387.82 293.82,392.35 C296.27,396.89 298.43,403.38 299.71,408.53 C300.98,413.68 301.67,418.58 301.47,423.24 C301.27,427.89 300.05,433.24 298.53,436.47 C297.01,439.71 295.10,441.30 292.35,442.65 C289.61,444.00 283.77,444.24 282.06,444.56" fill="white" stroke="#1c1c1c" stroke-width="1.10" stroke-linejoin="round" stroke-linecap="round"/>
<path d="M285.00,393.82 C286.27,395.54 290.74,399.95 292.65,404.12 C294.56,408.28 295.98,414.41 296.47,418.82 C296.96,423.24 295.74,428.63 295.59,430.59" fill="none" stroke="#1c1c1c" stroke-width="0.85" stroke-linejoin="round" stroke-linecap="round" stroke-dasharray="1.2 1.2"/>
<path d="M248.97,396.76 C249.29,393.58 249.58,389.53 251.18,386.47 C252.77,383.41 255.59,380.22 258.53,378.38 C261.47,376.54 265.39,375.32 268.82,375.44 C272.25,375.56 275.93,376.79 279.12,379.12 C282.30,381.45 285.25,385.25 287.94,389.41 C290.64,393.58 293.58,399.22 295.29,404.12 C297.01,409.02 297.99,414.17 298.24,418.82 C298.48,423.48 297.99,428.38 296.76,432.06 C295.54,435.74 293.33,438.80 290.88,440.88 C288.43,442.97 285.25,444.31 282.06,444.56 C278.87,444.80 275.20,444.44 271.76,442.35 C268.33,440.27 264.66,436.23 261.47,432.06 C258.28,427.89 254.68,421.76 252.65,417.35 C250.61,412.94 249.88,409.02 249.26,405.59 C248.65,402.16 248.65,399.95 248.97,396.76Z" fill="white" stroke="#1c1c1c" stroke-width="1.34" stroke-linejoin="round" stroke-linecap="round"/>
<path d="M264.41,396.76 C266.37,397.21 273.19,396.96 276.18,399.41 C279.17,401.86 281.57,407.50 282.35,411.47 C283.14,415.44 282.35,420.25 280.88,423.24 C279.41,426.23 274.75,428.38 273.53,429.41" fill="none" stroke="#1c1c1c" stroke-width="0.98" stroke-linejoin="round" stroke-linecap="round"/>
<path d="M266.62,395.29 C268.58,395.83 275.44,395.83 278.38,398.53 C281.32,401.23 283.53,407.23 284.26,411.47 C285.00,415.71 284.26,420.78 282.79,423.97 C281.32,427.16 276.67,429.49 275.44,430.59" fill="none" stroke="#1c1c1c" stroke-width="0.85" stroke-linejoin="round" stroke-linecap="round"/>
<path d="M260.29,402.35 L267.65,396.47" fill="none" stroke="#1c1c1c" stroke-width="0.98" stroke-linejoin="round" stroke-linecap="round"/>
<path d="M265.88,431.18 L274.41,429.71" fill="none" stroke="#1c1c1c" stroke-width="0.98" stroke-linejoin="round" stroke-linecap="round"/>
<ellipse cx="262.94" cy="416.62" rx="10.80" ry="14.80" fill="white" stroke="#1c1c1c" stroke-width="1.22" transform="rotate(8.00 262.94 416.62)"/>
<ellipse cx="263.53" cy="416.76" rx="7.20" ry="10.60" fill="white" stroke="#1c1c1c" stroke-width="1.22" transform="rotate(8.00 263.53 416.76)"/>
<path d="M267.30,407.66 L268.30,408.24 L269.20,409.10 L269.97,410.20 L270.58,411.50 L271.02,412.98 L271.27,414.58 L271.33,416.25 L271.19,417.95 L270.86,419.62 L270.34,421.21 L269.66,422.68 L268.83,423.98 L267.88,425.07 L266.84,425.91 L265.74,426.48 L264.61,426.77" fill="none" stroke="#1c1c1c" stroke-width="0.98" stroke-linejoin="round" stroke-linecap="round"/>
<ellipse cx="261.91" cy="387.21" rx="1.50" ry="2.40" fill="#ccc" stroke="#1c1c1c" stroke-width="1.10" transform="rotate(15.00 261.91 387.21)"/>
<ellipse cx="285.74" cy="404.85" rx="1.50" ry="2.40" fill="#ccc" stroke="#1c1c1c" stroke-width="1.10" transform="rotate(15.00 285.74 404.85)"/>
<ellipse cx="283.24" cy="436.47" rx="1.50" ry="2.40" fill="#ccc" stroke="#1c1c1c" stroke-width="1.10" transform="rotate(15.00 283.24 436.47)"/>
<ellipse cx="289.71" cy="422.65" rx="0.90" ry="1.40" fill="#555" stroke="#1c1c1c" stroke-width="0.98"/>
<line x1="269.56" y1="378.82" x2="273.53" y2="382.06" stroke="#1c1c1c" stroke-width="0.85"/>
<line x1="271.76" y1="378.82" x2="275.44" y2="382.06" stroke="#1c1c1c" stroke-width="0.85"/>
<polygon points="124.73,452.13 128.55,450.96 126.33,443.70 122.50,444.87" fill="white" stroke="#1c1c1c" stroke-width="1.10" stroke-linejoin="round" stroke-linecap="round"/>
<polygon points="128.50,450.78 143.32,446.25 141.21,439.35 126.39,443.88" fill="white" stroke="#1c1c1c" stroke-width="0.98" stroke-linejoin="round" stroke-linecap="round"/>
<line x1="129.45" y1="450.49" x2="128.49" y2="443.23" stroke="#1c1c1c" stroke-width="0.85"/>
<line x1="130.98" y1="450.02" x2="130.02" y2="442.77" stroke="#1c1c1c" stroke-width="0.85"/>
<line x1="132.51" y1="449.55" x2="131.55" y2="442.30" stroke="#1c1c1c" stroke-width="0.85"/>
<line x1="134.04" y1="449.09" x2="133.08" y2="441.83" stroke="#1c1c1c" stroke-width="0.85"/>
<line x1="135.57" y1="448.62" x2="134.61" y2="441.36" stroke="#1c1c1c" stroke-width="0.85"/>
<line x1="137.10" y1="448.15" x2="136.14" y2="440.90" stroke="#1c1c1c" stroke-width="0.85"/>
<line x1="138.63" y1="447.68" x2="137.67" y2="440.43" stroke="#1c1c1c" stroke-width="0.85"/>
<line x1="140.16" y1="447.22" x2="139.20" y2="439.96" stroke="#1c1c1c" stroke-width="0.85"/>
<line x1="141.69" y1="446.75" x2="140.73" y2="439.49" stroke="#1c1c1c" stroke-width="0.85"/>
<ellipse cx="123.62" cy="448.50" rx="3.97" ry="6.40" fill="white" stroke="#1c1c1c" stroke-width="1.10" transform="rotate(-17.00 123.62 448.50)"/>
<polygon points="119.27,456.52 125.49,454.62 121.74,442.38 115.53,444.28" fill="white" stroke="none" stroke-width="0.00" stroke-linejoin="round" stroke-linecap="round"/>
<line x1="119.27" y1="456.52" x2="125.49" y2="454.62" stroke="#1c1c1c" stroke-width="1.10"/>
<line x1="115.53" y1="444.28" x2="121.74" y2="442.38" stroke="#1c1c1c" stroke-width="1.10"/>
<ellipse cx="117.40" cy="450.40" rx="3.97" ry="6.40" fill="white" stroke="#1c1c1c" stroke-width="1.10" transform="rotate(-17.00 117.40 450.40)"/>
<ellipse cx="117.40" cy="450.40" rx="1.98" ry="3.20" fill="#bbb" stroke="#1c1c1c" stroke-width="0.98" transform="rotate(-17.00 117.40 450.40)"/>
<path d="M140.4,485.6 L132.0,467.4 C131.2,465.6 133.2,464.6 134.2,466.2 L142.6,484.6" fill="none" stroke="#1c1c1c" stroke-width="1.10" stroke-linejoin="round" stroke-linecap="round"/>
<path d="M143.40,468.50 C143.63,466.32 144.57,463.15 146.00,461.50 C147.43,459.85 149.90,458.78 152.00,458.60 C154.10,458.42 156.87,459.17 158.60,460.40 C160.33,461.63 161.90,463.97 162.40,466.00 C162.90,468.03 162.50,470.83 161.60,472.60 C160.70,474.37 159.03,475.77 157.00,476.60 C154.97,477.43 151.47,477.93 149.40,477.60 C147.33,477.27 145.60,476.12 144.60,474.60 C143.60,473.08 143.17,470.68 143.40,468.50Z" fill="white" stroke="#1c1c1c" stroke-width="1.10" stroke-linejoin="round" stroke-linecap="round"/>
<path d="M143.60,468.40 C143.97,466.73 145.30,464.63 146.60,464.00 C147.90,463.37 150.17,463.67 151.40,464.60 C152.63,465.53 153.90,467.80 154.00,469.60 C154.10,471.40 153.07,474.17 152.00,475.40 C150.93,476.63 148.87,477.23 147.60,477.00 C146.33,476.77 145.07,475.43 144.40,474.00 C143.73,472.57 143.23,470.07 143.60,468.40Z" fill="white" stroke="#1c1c1c" stroke-width="1.10" stroke-linejoin="round" stroke-linecap="round"/>
<ellipse cx="148.60" cy="470.60" rx="3.20" ry="4.40" fill="#555" stroke="#1c1c1c" stroke-width="1.10" transform="rotate(-15.00 148.60 470.60)"/>
<line x1="151.40" y1="464.60" x2="158.60" y2="460.60" stroke="#1c1c1c" stroke-width="0.98"/>
<line x1="154.00" y1="469.60" x2="162.20" y2="467.00" stroke="#1c1c1c" stroke-width="0.98"/>
<line x1="152.00" y1="475.40" x2="158.00" y2="476.00" stroke="#1c1c1c" stroke-width="0.98"/>
<ellipse cx="168.80" cy="460.24" rx="8.00" ry="10.60" fill="white" stroke="#1c1c1c" stroke-width="1.10" transform="rotate(8.00 168.80 460.24)"/>
<ellipse cx="167.60" cy="460.00" rx="8.00" ry="10.60" fill="white" stroke="#1c1c1c" stroke-width="1.10" transform="rotate(8.00 167.60 460.00)"/>
<ellipse cx="167.60" cy="460.00" rx="3.20" ry="4.24" fill="#e4e4e4" stroke="#1c1c1c" stroke-width="1.22" transform="rotate(8.00 167.60 460.00)"/>
<polygon points="184.01,478.08 191.81,474.88 190.59,471.92 182.79,475.12" fill="white" stroke="#1c1c1c" stroke-width="0.98" stroke-linejoin="round" stroke-linecap="round"/>
<line x1="184.65" y1="477.81" x2="184.55" y2="474.40" stroke="#1c1c1c" stroke-width="0.85"/>
<line x1="185.86" y1="477.32" x2="185.75" y2="473.91" stroke="#1c1c1c" stroke-width="0.85"/>
<line x1="187.06" y1="476.83" x2="186.96" y2="473.41" stroke="#1c1c1c" stroke-width="0.85"/>
<line x1="188.26" y1="476.33" x2="188.16" y2="472.92" stroke="#1c1c1c" stroke-width="0.85"/>
<line x1="189.47" y1="475.84" x2="189.36" y2="472.42" stroke="#1c1c1c" stroke-width="0.85"/>
<line x1="190.67" y1="475.35" x2="190.56" y2="471.93" stroke="#1c1c1c" stroke-width="0.85"/>
<ellipse cx="182.00" cy="477.40" rx="2.20" ry="2.90" fill="white" stroke="#1c1c1c" stroke-width="1.10" transform="rotate(-20.00 182.00 477.40)"/>
<line x1="191.40" y1="471.20" x2="199.40" y2="468.40" stroke="#1c1c1c" stroke-width="0.85"/>
<line x1="176.00" y1="456.00" x2="185.00" y2="453.00" stroke="#1c1c1c" stroke-width="0.85"/>
</g>
<g id="sec_right">
<path d="M671.5,354.5 L533.6,447 C531.5,449.5 532.5,454 535.5,457 C538,459.2 541,459.2 542.7,457.6 L677.6,365.2 L677.4,361 L675,360.4 L675.4,357.2 L677.6,357.4 C676.5,355.4 674,354 671.5,354.5 Z" fill="white" stroke="#1c1c1c" stroke-width="1.10" stroke-linejoin="round" stroke-linecap="round"/>
<ellipse cx="538.00" cy="452.40" rx="3.60" ry="6.60" fill="white" stroke="#1c1c1c" stroke-width="1.10" transform="rotate(-34.00 538.00 452.40)"/>
<ellipse cx="538.40" cy="452.60" rx="1.70" ry="3.00" fill="#888" stroke="#1c1c1c" stroke-width="1.10" transform="rotate(-34.00 538.40 452.60)"/>
<line x1="543.50" y1="449.80" x2="546.50" y2="448.00" stroke="#1c1c1c" stroke-width="0.98"/>
<polygon points="679.52,322.51 689.92,325.21 691.28,319.99 680.88,317.29" fill="white" stroke="#1c1c1c" stroke-width="0.98" stroke-linejoin="round" stroke-linecap="round"/>
<line x1="680.49" y1="322.76" x2="683.01" y2="317.84" stroke="#1c1c1c" stroke-width="0.85"/>
<line x1="682.04" y1="323.17" x2="684.56" y2="318.24" stroke="#1c1c1c" stroke-width="0.85"/>
<line x1="683.59" y1="323.57" x2="686.11" y2="318.64" stroke="#1c1c1c" stroke-width="0.85"/>
<line x1="685.14" y1="323.97" x2="687.65" y2="319.05" stroke="#1c1c1c" stroke-width="0.85"/>
<line x1="686.68" y1="324.37" x2="689.20" y2="319.45" stroke="#1c1c1c" stroke-width="0.85"/>
<line x1="688.23" y1="324.77" x2="690.75" y2="319.85" stroke="#1c1c1c" stroke-width="0.85"/>
<polygon points="690.00,319.60 703.40,322.20 702.80,328.60 689.00,325.20" fill="white" stroke="#1c1c1c" stroke-width="1.10" stroke-linejoin="round" stroke-linecap="round"/>
<polygon points="691.21,349.23 710.21,337.53 707.59,333.27 688.59,344.97" fill="white" stroke="#1c1c1c" stroke-width="0.98" stroke-linejoin="round" stroke-linecap="round"/>
<line x1="691.89" y1="348.81" x2="690.29" y2="343.92" stroke="#1c1c1c" stroke-width="0.85"/>
<line x1="693.08" y1="348.08" x2="691.48" y2="343.19" stroke="#1c1c1c" stroke-width="0.85"/>
<line x1="694.28" y1="347.34" x2="692.68" y2="342.45" stroke="#1c1c1c" stroke-width="0.85"/>
<line x1="695.47" y1="346.61" x2="693.87" y2="341.72" stroke="#1c1c1c" stroke-width="0.85"/>
<line x1="696.66" y1="345.87" x2="695.06" y2="340.99" stroke="#1c1c1c" stroke-width="0.85"/>
<line x1="697.85" y1="345.14" x2="696.25" y2="340.25" stroke="#1c1c1c" stroke-width="0.85"/>
<line x1="699.04" y1="344.40" x2="697.44" y2="339.52" stroke="#1c1c1c" stroke-width="0.85"/>
<line x1="700.24" y1="343.67" x2="698.64" y2="338.78" stroke="#1c1c1c" stroke-width="0.85"/>
<line x1="701.43" y1="342.94" x2="699.83" y2="338.05" stroke="#1c1c1c" stroke-width="0.85"/>
<line x1="702.62" y1="342.20" x2="701.02" y2="337.32" stroke="#1c1c1c" stroke-width="0.85"/>
<line x1="703.81" y1="341.47" x2="702.21" y2="336.58" stroke="#1c1c1c" stroke-width="0.85"/>
<line x1="705.01" y1="340.73" x2="703.41" y2="335.85" stroke="#1c1c1c" stroke-width="0.85"/>
<line x1="706.20" y1="340.00" x2="704.60" y2="335.11" stroke="#1c1c1c" stroke-width="0.85"/>
<line x1="707.39" y1="339.27" x2="705.79" y2="334.38" stroke="#1c1c1c" stroke-width="0.85"/>
<line x1="708.58" y1="338.53" x2="706.98" y2="333.65" stroke="#1c1c1c" stroke-width="0.85"/>
<path d="M702.6,321.6 C703.5,319.6 706,318.4 707.8,318.4 L709.4,326.2 L704.2,330.2 Z" fill="white" stroke="#1c1c1c" stroke-width="1.10" stroke-linejoin="round" stroke-linecap="round"/>
<path d="M707.6,319 C710,317.6 714,317 716.4,317.1 L721.8,319.4 L721.8,340.3 C718,341.5 713,341.4 709.6,340.6 C705.5,338.5 703.5,334 703.6,329.6 C703.7,325.2 705,321.2 707.6,319 Z" fill="white" stroke="#1c1c1c" stroke-width="1.10" stroke-linejoin="round" stroke-linecap="round"/>
<ellipse cx="708.40" cy="336.20" rx="2.40" ry="3.00" fill="white" stroke="#1c1c1c" stroke-width="1.10" transform="rotate(-30.00 708.40 336.20)"/>
<ellipse cx="721.80" cy="329.90" rx="6.80" ry="10.50" fill="white" stroke="#1c1c1c" stroke-width="1.34" transform="rotate(8.00 721.80 329.90)"/>
<ellipse cx="722.50" cy="329.90" rx="4.40" ry="7.40" fill="white" stroke="#1c1c1c" stroke-width="1.10" transform="rotate(8.00 722.50 329.90)"/>
<path d="M719.43,337.31 L718.74,336.88 L718.13,336.24 L717.61,335.42 L717.20,334.44 L716.91,333.33 L716.75,332.13 L716.73,330.87 L716.84,329.59 L717.09,328.32 L717.46,327.12 L717.94,326.01 L718.52,325.02 L719.19,324.19 L719.91,323.55 L720.68,323.10 L721.46,322.88" fill="none" stroke="#1c1c1c" stroke-width="0.85" stroke-linejoin="round" stroke-linecap="round"/>
<path d="M710.78,336.26 L710.43,335.49 L710.13,334.65 L709.90,333.74 L709.73,332.79 L709.63,331.79 L709.60,330.77 L709.65,329.73 L709.76,328.69 L709.94,327.66 L710.18,326.65 L710.49,325.68 L710.86,324.75 L711.28,323.88 L711.76,323.07 L712.27,322.34 L712.83,321.70" fill="none" stroke="#1c1c1c" stroke-width="0.85" stroke-linejoin="round" stroke-linecap="round"/>
<ellipse cx="685.60" cy="353.60" rx="5.20" ry="5.60" fill="white" stroke="#1c1c1c" stroke-width="1.10"/>
<ellipse cx="682.80" cy="352.20" rx="4.40" ry="5.20" fill="#777" stroke="#1c1c1c" stroke-width="1.10" transform="rotate(-20.00 682.80 352.20)"/>
<ellipse cx="674.80" cy="315.48" rx="5.60" ry="8.60" fill="white" stroke="#1c1c1c" stroke-width="1.10" transform="rotate(8.00 674.80 315.48)"/>
<ellipse cx="673.40" cy="315.20" rx="5.60" ry="8.60" fill="white" stroke="#1c1c1c" stroke-width="1.10" transform="rotate(8.00 673.40 315.20)"/>
<ellipse cx="673.40" cy="315.20" rx="2.02" ry="3.10" fill="#e4e4e4" stroke="#1c1c1c" stroke-width="1.22" transform="rotate(8.00 673.40 315.20)"/>
<line x1="675.60" y1="315.60" x2="680.00" y2="317.40" stroke="#1c1c1c" stroke-width="0.85"/>
<polygon points="657.80,456.73 654.60,454.40 657.80,452.07 664.20,452.07 667.40,454.40 664.20,456.73" fill="white" stroke="#1c1c1c" stroke-width="1.22" stroke-linejoin="round" stroke-linecap="round"/>
<polygon points="657.80,451.73 654.60,449.40 654.60,454.40 657.80,456.73" fill="#f2f2f2" stroke="#1c1c1c" stroke-width="1.10" stroke-linejoin="round" stroke-linecap="round"/>
<polygon points="654.60,449.40 657.80,447.07 657.80,452.07 654.60,454.40" fill="#f2f2f2" stroke="#1c1c1c" stroke-width="1.10" stroke-linejoin="round" stroke-linecap="round"/>
<polygon points="657.80,447.07 664.20,447.07 664.20,452.07 657.80,452.07" fill="#f2f2f2" stroke="#1c1c1c" stroke-width="1.10" stroke-linejoin="round" stroke-linecap="round"/>
<polygon points="664.20,447.07 667.40,449.40 667.40,454.40 664.20,452.07" fill="#f2f2f2" stroke="#1c1c1c" stroke-width="1.10" stroke-linejoin="round" stroke-linecap="round"/>
<polygon points="667.40,449.40 664.20,451.73 664.20,456.73 667.40,454.40" fill="#f2f2f2" stroke="#1c1c1c" stroke-width="1.10" stroke-linejoin="round" stroke-linecap="round"/>
<polygon points="664.20,451.73 657.80,451.73 657.80,456.73 664.20,456.73" fill="#f2f2f2" stroke="#1c1c1c" stroke-width="1.10" stroke-linejoin="round" stroke-linecap="round"/>
<polygon points="657.80,451.73 654.60,449.40 657.80,447.07 664.20,447.07 667.40,449.40 664.20,451.73" fill="white" stroke="#1c1c1c" stroke-width="1.22" stroke-linejoin="round" stroke-linecap="round"/>
<ellipse cx="661.00" cy="449.40" rx="1.34" ry="3.20" fill="#fff" stroke="#1c1c1c" stroke-width="1.22" transform="rotate(90.00 661.00 449.40)"/>
<line x1="660.40" y1="457.40" x2="660.40" y2="466.20" stroke="#1c1c1c" stroke-width="0.85"/>
<polygon points="656.70,467.00 656.70,480.40 664.10,480.40 664.10,467.00" fill="white" stroke="#1c1c1c" stroke-width="0.98" stroke-linejoin="round" stroke-linecap="round"/>
<line x1="656.70" y1="468.10" x2="664.10" y2="469.30" stroke="#1c1c1c" stroke-width="0.85"/>
<line x1="656.70" y1="469.80" x2="664.10" y2="471.00" stroke="#1c1c1c" stroke-width="0.85"/>
<line x1="656.70" y1="471.50" x2="664.10" y2="472.70" stroke="#1c1c1c" stroke-width="0.85"/>
<line x1="656.70" y1="473.20" x2="664.10" y2="474.40" stroke="#1c1c1c" stroke-width="0.85"/>
<line x1="656.70" y1="474.90" x2="664.10" y2="476.10" stroke="#1c1c1c" stroke-width="0.85"/>
<line x1="656.70" y1="476.60" x2="664.10" y2="477.80" stroke="#1c1c1c" stroke-width="0.85"/>
<line x1="656.70" y1="478.30" x2="664.10" y2="479.50" stroke="#1c1c1c" stroke-width="0.85"/>
<polygon points="678.19,496.48 692.79,486.68 690.01,482.52 675.41,492.32" fill="white" stroke="#1c1c1c" stroke-width="0.98" stroke-linejoin="round" stroke-linecap="round"/>
<line x1="678.94" y1="495.97" x2="677.15" y2="491.15" stroke="#1c1c1c" stroke-width="0.85"/>
<line x1="680.19" y1="495.14" x2="678.40" y2="490.32" stroke="#1c1c1c" stroke-width="0.85"/>
<line x1="681.43" y1="494.30" x2="679.64" y2="489.48" stroke="#1c1c1c" stroke-width="0.85"/>
<line x1="682.68" y1="493.47" x2="680.89" y2="488.65" stroke="#1c1c1c" stroke-width="0.85"/>
<line x1="683.92" y1="492.63" x2="682.13" y2="487.81" stroke="#1c1c1c" stroke-width="0.85"/>
<line x1="685.17" y1="491.79" x2="683.38" y2="486.97" stroke="#1c1c1c" stroke-width="0.85"/>
<line x1="686.41" y1="490.96" x2="684.62" y2="486.14" stroke="#1c1c1c" stroke-width="0.85"/>
<line x1="687.66" y1="490.12" x2="685.87" y2="485.30" stroke="#1c1c1c" stroke-width="0.85"/>
<line x1="688.90" y1="489.29" x2="687.11" y2="484.47" stroke="#1c1c1c" stroke-width="0.85"/>
<line x1="690.15" y1="488.45" x2="688.36" y2="483.63" stroke="#1c1c1c" stroke-width="0.85"/>
<line x1="691.40" y1="487.61" x2="689.60" y2="482.79" stroke="#1c1c1c" stroke-width="0.85"/>
<path d="M645.4,500 C645.4,496 649,493.8 652.5,493 L666.8,492.6 L668.3,492.1 L672.5,491.4 L678.1,496.9 L676.7,501.1 L672.2,505 L672.5,511.5 C671,515 666,516.8 659,516.8 C652,516.8 647,515 645.6,511.5 Z" fill="white" stroke="#1c1c1c" stroke-width="1.10" stroke-linejoin="round" stroke-linecap="round"/>
<path d="M672.35,502.44 L671.92,503.33 L671.06,504.18 L669.80,504.96 L668.18,505.64 L666.26,506.20 L664.10,506.62 L661.77,506.89 L659.35,507.00 L656.92,506.94 L654.55,506.72 L652.34,506.34 L650.34,505.82 L648.63,505.17 L647.27,504.41 L646.29,503.58 L645.73,502.70" fill="none" stroke="#1c1c1c" stroke-width="1.10" stroke-linejoin="round" stroke-linecap="round"/>
<path d="M655.8,480.3 L651.7,488.6 L651.4,491.4 C653,494 665.6,494 667.4,491.4 L667.6,488.6 L664.2,480.3 Z" fill="white" stroke="#1c1c1c" stroke-width="1.10" stroke-linejoin="round" stroke-linecap="round"/>
<path d="M667.40,488.80 L667.25,489.31 L666.79,489.79 L666.05,490.24 L665.06,490.64 L663.84,490.96 L662.46,491.20 L660.96,491.35 L659.40,491.40 L657.84,491.35 L656.34,491.20 L654.96,490.96 L653.74,490.64 L652.75,490.24 L652.01,489.79 L651.55,489.31 L651.40,488.80" fill="none" stroke="#1c1c1c" stroke-width="0.98" stroke-linejoin="round" stroke-linecap="round"/>
<path d="M667.60,491.00 L667.44,491.55 L666.98,492.07 L666.22,492.56 L665.20,492.98 L663.96,493.33 L662.54,493.59 L661.00,493.75 L659.40,493.80 L657.80,493.75 L656.26,493.59 L654.84,493.33 L653.60,492.98 L652.58,492.56 L651.82,492.07 L651.36,491.55 L651.20,491.00" fill="none" stroke="#1c1c1c" stroke-width="0.98" stroke-linejoin="round" stroke-linecap="round"/>
</g>
<g id="sec_footer">
<path d="M88.4,518.5 L66,518.5 C60,518.5 56.8,521 56.8,524.9 C56.8,529 60,531.2 66,531.2 L88.4,531.2" fill="none" stroke="#1c1c1c" stroke-width="2.50" stroke-linejoin="round" stroke-linecap="round"/>
<path d="M88.4,523.6 L68,524.2 L63.5,525.0 L68,525.8 L88.4,525.8 Z" fill="#1c1c1c" stroke="#1c1c1c" stroke-width="0.61" stroke-linejoin="round" stroke-linecap="round"/>
<path d="M92.6,517.5 L92.6,526 C92.6,529.5 94.5,531.2 98,531.2 L117.7,531.2" fill="none" stroke="#1c1c1c" stroke-width="2.50" stroke-linejoin="round" stroke-linecap="round"/>
<path d="M122,517.5 L122,532.2" fill="none" stroke="#1c1c1c" stroke-width="2.75" stroke-linejoin="round" stroke-linecap="round"/>
<path d="M162,518.5 L133,518.5 C128.5,518.5 127.5,520 127.5,521.7 C127.5,523.5 128.5,524.9 133,524.9 L156,524.9 C160.5,524.9 161.6,526.4 161.6,528 C161.6,529.8 160.5,531.2 156,531.2 L126.4,531.2" fill="none" stroke="#1c1c1c" stroke-width="2.50" stroke-linejoin="round" stroke-linecap="round"/>
<path d="M201.6,518.5 L176,518.5 C170,518.5 166.2,521 166.2,524.9 C166.2,529 170,531.2 176,531.2 L201.6,531.2" fill="none" stroke="#1c1c1c" stroke-width="2.50" stroke-linejoin="round" stroke-linecap="round"/>
<path d="M201.6,523.5 L180,524.2 L174.5,525.0 L180,525.9 L201.6,525.8 Z" fill="#1c1c1c" stroke="#1c1c1c" stroke-width="0.61" stroke-linejoin="round" stroke-linecap="round"/>
<text x="56.60" y="547.50" font-size="16.6" text-anchor="start" textLength="43.6" lengthAdjust="spacingAndGlyphs">31.03</text>
<text x="288" y="589.8" font-size="13.2" font-style="italic" textLength="212.5" lengthAdjust="spacingAndGlyphs">Updated 15th April 2011</text>
</g>
<g id="sec_labels">
<line x1="112.00" y1="67.50" x2="142.00" y2="78.75" stroke="#1c1c1c" stroke-width="1.10"/>
<line x1="229.00" y1="69.50" x2="190.00" y2="89.00" stroke="#1c1c1c" stroke-width="1.10"/>
<line x1="229.00" y1="69.50" x2="237.50" y2="100.00" stroke="#1c1c1c" stroke-width="1.10"/>
<line x1="265.50" y1="84.50" x2="250.00" y2="102.50" stroke="#1c1c1c" stroke-width="1.10"/>
<line x1="160.50" y1="108.00" x2="198.00" y2="119.50" stroke="#1c1c1c" stroke-width="1.10"/>
<line x1="134.00" y1="137.00" x2="187.00" y2="139.50" stroke="#1c1c1c" stroke-width="1.10"/>
<line x1="134.00" y1="137.00" x2="166.00" y2="174.00" stroke="#1c1c1c" stroke-width="1.10"/>
<line x1="133.00" y1="181.25" x2="159.50" y2="193.75" stroke="#1c1c1c" stroke-width="1.10"/>
<line x1="288.50" y1="98.75" x2="288.50" y2="133.75" stroke="#1c1c1c" stroke-width="1.10"/>
<line x1="313.00" y1="84.50" x2="309.25" y2="122.50" stroke="#1c1c1c" stroke-width="1.10"/>
<line x1="342.25" y1="84.50" x2="342.25" y2="108.75" stroke="#1c1c1c" stroke-width="1.10"/>
<line x1="383.75" y1="69.50" x2="383.75" y2="93.75" stroke="#1c1c1c" stroke-width="1.10"/>
<line x1="536.50" y1="141.25" x2="539.75" y2="196.25" stroke="#1c1c1c" stroke-width="1.10"/>
<line x1="589.75" y1="141.25" x2="586.75" y2="176.25" stroke="#1c1c1c" stroke-width="1.10"/>
<line x1="568.50" y1="157.00" x2="574.75" y2="201.25" stroke="#1c1c1c" stroke-width="1.10"/>
<line x1="629.75" y1="157.00" x2="616.00" y2="181.00" stroke="#1c1c1c" stroke-width="1.10"/>
<line x1="513.50" y1="170.50" x2="523.50" y2="188.75" stroke="#1c1c1c" stroke-width="1.10"/>
<line x1="445.50" y1="167.50" x2="465.50" y2="177.00" stroke="#1c1c1c" stroke-width="1.10"/>
<line x1="518.50" y1="251.75" x2="538.50" y2="251.75" stroke="#1c1c1c" stroke-width="1.10"/>
<line x1="489.75" y1="267.00" x2="516.50" y2="267.00" stroke="#1c1c1c" stroke-width="1.10"/>
<line x1="572.25" y1="232.00" x2="596.00" y2="260.00" stroke="#1c1c1c" stroke-width="1.10"/>
<line x1="443.00" y1="228.75" x2="446.50" y2="267.00" stroke="#1c1c1c" stroke-width="1.10"/>
<line x1="481.25" y1="282.00" x2="496.25" y2="282.00" stroke="#1c1c1c" stroke-width="1.10"/>
<line x1="642.25" y1="197.00" x2="612.75" y2="206.25" stroke="#1c1c1c" stroke-width="1.10"/>
<line x1="663.25" y1="197.50" x2="629.00" y2="210.00" stroke="#1c1c1c" stroke-width="1.10"/>
<line x1="694.00" y1="198.75" x2="671.50" y2="213.75" stroke="#1c1c1c" stroke-width="1.10"/>
<line x1="682.75" y1="230.00" x2="694.00" y2="245.50" stroke="#1c1c1c" stroke-width="1.10"/>
<line x1="726.50" y1="213.00" x2="711.50" y2="228.00" stroke="#1c1c1c" stroke-width="1.10"/>
<line x1="684.00" y1="285.75" x2="675.25" y2="308.75" stroke="#1c1c1c" stroke-width="1.10"/>
<line x1="355.50" y1="180.50" x2="338.00" y2="188.75" stroke="#1c1c1c" stroke-width="1.10"/>
<line x1="358.00" y1="195.00" x2="341.75" y2="198.75" stroke="#1c1c1c" stroke-width="1.10"/>
<line x1="283.75" y1="196.25" x2="302.50" y2="205.00" stroke="#1c1c1c" stroke-width="1.10"/>
<line x1="371.75" y1="211.25" x2="343.00" y2="227.50" stroke="#1c1c1c" stroke-width="1.10"/>
<line x1="396.75" y1="213.75" x2="381.75" y2="246.25" stroke="#1c1c1c" stroke-width="1.10"/>
<line x1="416.00" y1="228.75" x2="400.50" y2="255.00" stroke="#1c1c1c" stroke-width="1.10"/>
<line x1="428.00" y1="243.25" x2="425.50" y2="270.00" stroke="#1c1c1c" stroke-width="1.10"/>
<line x1="281.75" y1="237.00" x2="301.75" y2="226.25" stroke="#1c1c1c" stroke-width="1.10"/>
<line x1="281.75" y1="237.00" x2="302.50" y2="250.50" stroke="#1c1c1c" stroke-width="1.10"/>
<line x1="278.00" y1="265.00" x2="298.00" y2="261.25" stroke="#1c1c1c" stroke-width="1.10"/>
<line x1="293.75" y1="279.50" x2="312.50" y2="276.75" stroke="#1c1c1c" stroke-width="1.10"/>
<line x1="296.25" y1="293.75" x2="314.25" y2="290.75" stroke="#1c1c1c" stroke-width="1.10"/>
<line x1="390.00" y1="300.75" x2="397.50" y2="313.75" stroke="#1c1c1c" stroke-width="1.10"/>
<line x1="67.00" y1="271.75" x2="70.50" y2="295.00" stroke="#1c1c1c" stroke-width="1.10"/>
<line x1="105.00" y1="285.50" x2="109.50" y2="310.00" stroke="#1c1c1c" stroke-width="1.10"/>
<line x1="112.00" y1="383.00" x2="153.00" y2="389.50" stroke="#1c1c1c" stroke-width="1.10"/>
<line x1="98.75" y1="414.50" x2="120.50" y2="443.75" stroke="#1c1c1c" stroke-width="1.10"/>
<line x1="104.50" y1="468.00" x2="132.00" y2="468.00" stroke="#1c1c1c" stroke-width="1.10"/>
<line x1="142.50" y1="490.00" x2="148.75" y2="476.25" stroke="#1c1c1c" stroke-width="1.10"/>
<line x1="170.00" y1="490.00" x2="167.50" y2="465.00" stroke="#1c1c1c" stroke-width="1.10"/>
<line x1="259.50" y1="357.50" x2="267.50" y2="386.25" stroke="#1c1c1c" stroke-width="1.10"/>
<line x1="305.00" y1="463.00" x2="334.50" y2="447.25" stroke="#1c1c1c" stroke-width="1.10"/>
<line x1="395.00" y1="461.25" x2="413.75" y2="448.00" stroke="#1c1c1c" stroke-width="1.10"/>
<line x1="415.00" y1="475.00" x2="425.50" y2="455.00" stroke="#1c1c1c" stroke-width="1.10"/>
<line x1="304.50" y1="493.00" x2="337.50" y2="480.50" stroke="#1c1c1c" stroke-width="1.10"/>
<line x1="481.25" y1="312.50" x2="457.50" y2="330.00" stroke="#1c1c1c" stroke-width="1.10"/>
<line x1="514.25" y1="325.00" x2="534.25" y2="323.75" stroke="#1c1c1c" stroke-width="1.10"/>
<line x1="547.50" y1="343.75" x2="483.50" y2="345.00" stroke="#1c1c1c" stroke-width="1.10"/>
<line x1="547.50" y1="343.75" x2="534.25" y2="372.50" stroke="#1c1c1c" stroke-width="1.10"/>
<line x1="484.25" y1="360.00" x2="502.50" y2="365.50" stroke="#1c1c1c" stroke-width="1.10"/>
<line x1="606.75" y1="358.00" x2="580.50" y2="383.75" stroke="#1c1c1c" stroke-width="1.10"/>
<line x1="495.25" y1="431.50" x2="512.00" y2="437.25" stroke="#1c1c1c" stroke-width="1.10"/>
<line x1="725.25" y1="300.75" x2="716.50" y2="320.00" stroke="#1c1c1c" stroke-width="1.10"/>
<line x1="687.75" y1="355.00" x2="694.00" y2="361.25" stroke="#1c1c1c" stroke-width="1.10"/>
<line x1="608.50" y1="401.25" x2="629.75" y2="408.50" stroke="#1c1c1c" stroke-width="1.10"/>
<line x1="627.50" y1="441.25" x2="656.25" y2="452.50" stroke="#1c1c1c" stroke-width="1.10"/>
<line x1="620.00" y1="497.00" x2="650.00" y2="495.00" stroke="#1c1c1c" stroke-width="1.10"/>
<line x1="531.25" y1="461.25" x2="542.00" y2="465.00" stroke="#1c1c1c" stroke-width="1.10"/>
<line x1="453.75" y1="494.50" x2="478.75" y2="489.50" stroke="#1c1c1c" stroke-width="1.10"/>
<line x1="313.40" y1="321.70" x2="354.60" y2="309.60" stroke="#1c1c1c" stroke-width="1.10"/>
<text x="99.00" y="69.00" font-size="12" text-anchor="start" >10</text>
<text x="225.50" y="68.50" font-size="12" text-anchor="start" >8</text>
<text x="264.00" y="83.25" font-size="12" text-anchor="start" >11</text>
<text x="146.50" y="111.00" font-size="12" text-anchor="start" >22</text>
<text x="119.50" y="140.00" font-size="12" text-anchor="start" >46</text>
<text x="119.50" y="183.50" font-size="12" text-anchor="start" >21</text>
<text x="281.50" y="97.50" font-size="12" text-anchor="start" >28</text>
<text x="306.25" y="83.25" font-size="12" text-anchor="start" >29</text>
<text x="335.00" y="83.25" font-size="12" text-anchor="start" >27</text>
<text x="377.00" y="68.50" font-size="12" text-anchor="start" >30</text>
<text x="529.25" y="140.00" font-size="12" text-anchor="start" >43</text>
<text x="584.25" y="140.00" font-size="12" text-anchor="start" >43</text>
<text x="560.50" y="155.50" font-size="12" text-anchor="start" >26</text>
<text x="628.00" y="155.50" font-size="12" text-anchor="start" >7</text>
<text x="506.25" y="169.50" font-size="12" text-anchor="start" >11</text>
<text x="432.50" y="169.50" font-size="12" text-anchor="start" >12</text>
<text x="539.25" y="255.50" font-size="12" text-anchor="start" >5</text>
<text x="517.50" y="270.00" font-size="12" text-anchor="start" >4</text>
<text x="590.50" y="270.00" font-size="12" text-anchor="start" >24</text>
<text x="439.00" y="227.50" font-size="12" text-anchor="start" >6</text>
<text x="497.25" y="284.00" font-size="12" text-anchor="start" >13</text>
<text x="642.75" y="198.00" font-size="12" text-anchor="start" >11</text>
<text x="663.50" y="198.00" font-size="12" text-anchor="start" >43</text>
<text x="694.75" y="198.00" font-size="12" text-anchor="start" >26</text>
<text x="690.50" y="255.00" font-size="12" text-anchor="start" >43</text>
<text x="724.75" y="211.50" font-size="12" text-anchor="start" >7</text>
<text x="678.50" y="284.25" font-size="12" text-anchor="start" >42</text>
<text x="356.00" y="183.50" font-size="12" text-anchor="start" >18</text>
<text x="358.75" y="198.00" font-size="12" text-anchor="start" >17</text>
<text x="270.00" y="198.00" font-size="12" text-anchor="start" >19</text>
<text x="372.50" y="212.50" font-size="12" text-anchor="start" >14</text>
<text x="391.25" y="212.50" font-size="12" text-anchor="start" >44</text>
<text x="410.50" y="227.50" font-size="12" text-anchor="start" >23</text>
<text x="421.25" y="242.00" font-size="12" text-anchor="start" >40</text>
<text x="267.00" y="242.00" font-size="12" text-anchor="start" >20</text>
<text x="266.25" y="270.00" font-size="12" text-anchor="start" >11</text>
<text x="280.00" y="284.00" font-size="12" text-anchor="start" >16</text>
<text x="282.50" y="298.75" font-size="12" text-anchor="start" >15</text>
<text x="379.75" y="299.50" font-size="12" text-anchor="start" >13</text>
<text x="60.00" y="270.50" font-size="12" text-anchor="start" >10</text>
<text x="101.25" y="284.25" font-size="12" text-anchor="start" >8</text>
<text x="56.50" y="385.00" font-size="12" text-anchor="start" >See 33.01</text>
<text x="56.50" y="413.75" font-size="12" text-anchor="start" >See 34.01</text>
<text x="89.50" y="471.25" font-size="12" text-anchor="start" >45</text>
<text x="134.50" y="500.00" font-size="12" text-anchor="start" >31</text>
<text x="163.75" y="500.00" font-size="12" text-anchor="start" >32</text>
<text x="254.50" y="355.75" font-size="12" text-anchor="start" >2</text>
<text x="295.25" y="470.75" font-size="12" text-anchor="start" >9</text>
<text x="385.50" y="470.75" font-size="12" text-anchor="start" >8</text>
<text x="402.25" y="486.25" font-size="12" text-anchor="start" >11</text>
<text x="290.75" y="500.00" font-size="12" text-anchor="start" >12</text>
<text x="482.00" y="313.75" font-size="12" text-anchor="start" >1</text>
<text x="535.00" y="327.00" font-size="12" text-anchor="start" >3</text>
<text x="548.75" y="342.50" font-size="12" text-anchor="start" >33</text>
<text x="503.50" y="370.50" font-size="12" text-anchor="start" >41</text>
<text x="600.50" y="356.25" font-size="12" text-anchor="start" >26</text>
<text x="512.75" y="442.00" font-size="12" text-anchor="start" >39</text>
<text x="719.25" y="299.50" font-size="12" text-anchor="start" >35</text>
<text x="694.25" y="370.00" font-size="12" text-anchor="start" >37</text>
<text x="630.50" y="413.50" font-size="12" text-anchor="start" >38</text>
<text x="613.25" y="442.00" font-size="12" text-anchor="start" >48</text>
<text x="605.25" y="500.00" font-size="12" text-anchor="start" >47</text>
<text x="542.50" y="471.25" font-size="12" text-anchor="start" >36</text>
<text x="439.00" y="500.00" font-size="12" text-anchor="start" >34</text>
<text x="299.60" y="327.00" font-size="12" text-anchor="start" >25</text>
</g>
</svg>
</body></html>
